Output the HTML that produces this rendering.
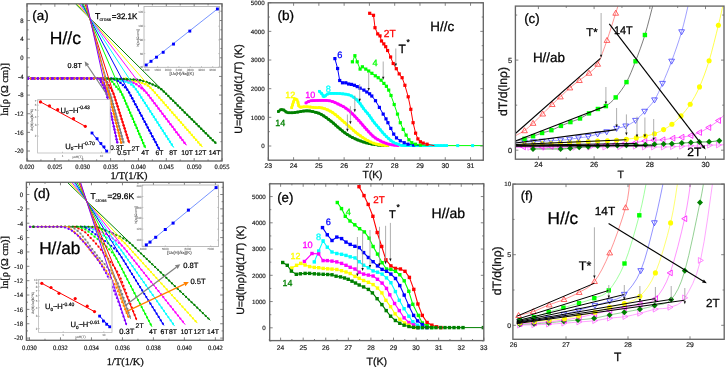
<!DOCTYPE html>
<html><head><meta charset="utf-8"><style>
html,body{margin:0;padding:0;background:#fff;width:725px;height:367px;overflow:hidden}
svg{display:block;will-change:transform}
text{text-rendering:geometricPrecision}
</style></head><body>
<svg width="725" height="367" viewBox="0 0 725 367">
<rect width="725" height="367" fill="#fff"/>
<clipPath id="ca"><rect x="27" y="3.8" width="195" height="157.2"/></clipPath>
<g clip-path="url(#ca)">
<polyline points="126,78.5 126.57,78.69 127.35,78.96 128.28,79.29 129.31,79.64 130.37,80 131.41,80.34 132.37,80.65 133.2,80.9 133.91,81.09 134.55,81.24 135.14,81.36 135.7,81.46 136.24,81.55 136.78,81.65 137.32,81.76 137.9,81.9 138.49,82.05 139.08,82.21 139.68,82.37 140.29,82.54 140.91,82.72 141.55,82.92 142.2,83.15 142.88,83.4 143.56,83.66 144.23,83.91 144.88,84.16 145.55,84.44 146.24,84.77 146.97,85.16 147.73,85.63 148.55,86.2 149.42,86.88 150.32,87.67 151.23,88.53 152.12,89.46 153,90.43 153.86,91.43 154.71,92.42 155.56,93.4 156.41,94.37 157.27,95.36 158.14,96.36 159.03,97.38 159.93,98.41 160.85,99.46 161.78,100.52 162.72,101.6 163.69,102.71 164.69,103.85 165.71,105.02 166.74,106.2 167.77,107.38 168.79,108.55 169.79,109.69 170.76,110.8 171.69,111.87 172.59,112.9 173.47,113.9 174.34,114.9 175.21,115.9 176.09,116.9 176.99,117.93 177.92,119 178.83,120.04 179.67,121.01 180.51,121.96 181.37,122.95 182.3,124.02 183.35,125.22 184.55,126.59 185.95,128.2 187.7,130.2 189.82,132.62 192.16,135.3 194.58,138.07 196.94,140.77 199.09,143.24 200.89,145.3 202.2,146.8" fill="none" stroke="#ffff00" stroke-width="1.0" stroke-linejoin="round" stroke-linecap="round" />
<rect x="124.9" y="77.4" width="2.2" height="2.2" fill="#ffff00"/>
<rect x="128.02" y="78.47" width="2.2" height="2.2" fill="#ffff00"/>
<rect x="131.15" y="79.51" width="2.2" height="2.2" fill="#ffff00"/>
<rect x="134.35" y="80.31" width="2.2" height="2.2" fill="#ffff00"/>
<rect x="137.58" y="81" width="2.2" height="2.2" fill="#ffff00"/>
<rect x="140.74" y="81.92" width="2.2" height="2.2" fill="#ffff00"/>
<rect x="143.83" y="83.08" width="2.2" height="2.2" fill="#ffff00"/>
<rect x="146.75" y="84.61" width="2.2" height="2.2" fill="#ffff00"/>
<rect x="149.33" y="86.67" width="2.2" height="2.2" fill="#ffff00"/>
<rect x="151.63" y="89.03" width="2.2" height="2.2" fill="#ffff00"/>
<rect x="153.79" y="91.53" width="2.2" height="2.2" fill="#ffff00"/>
<rect x="155.96" y="94.01" width="2.2" height="2.2" fill="#ffff00"/>
<rect x="158.13" y="96.5" width="2.2" height="2.2" fill="#ffff00"/>
<rect x="160.3" y="98.99" width="2.2" height="2.2" fill="#ffff00"/>
<rect x="162.47" y="101.47" width="2.2" height="2.2" fill="#ffff00"/>
<rect x="164.64" y="103.96" width="2.2" height="2.2" fill="#ffff00"/>
<rect x="166.81" y="106.44" width="2.2" height="2.2" fill="#ffff00"/>
<rect x="168.98" y="108.93" width="2.2" height="2.2" fill="#ffff00"/>
<rect x="171.15" y="111.41" width="2.2" height="2.2" fill="#ffff00"/>
<rect x="173.32" y="113.9" width="2.2" height="2.2" fill="#ffff00"/>
<rect x="175.49" y="116.38" width="2.2" height="2.2" fill="#ffff00"/>
<rect x="177.67" y="118.87" width="2.2" height="2.2" fill="#ffff00"/>
<rect x="179.84" y="121.35" width="2.2" height="2.2" fill="#ffff00"/>
<rect x="182.01" y="123.84" width="2.2" height="2.2" fill="#ffff00"/>
<rect x="184.18" y="126.33" width="2.2" height="2.2" fill="#ffff00"/>
<rect x="186.35" y="128.81" width="2.2" height="2.2" fill="#ffff00"/>
<rect x="188.52" y="131.3" width="2.2" height="2.2" fill="#ffff00"/>
<rect x="190.69" y="133.78" width="2.2" height="2.2" fill="#ffff00"/>
<rect x="192.86" y="136.27" width="2.2" height="2.2" fill="#ffff00"/>
<rect x="195.03" y="138.75" width="2.2" height="2.2" fill="#ffff00"/>
<rect x="197.2" y="141.24" width="2.2" height="2.2" fill="#ffff00"/>
<rect x="199.37" y="143.72" width="2.2" height="2.2" fill="#ffff00"/>
<polyline points="121,78.5 121.59,78.7 122.39,78.97 123.35,79.3 124.4,79.66 125.49,80.03 126.56,80.39 127.55,80.72 128.4,81 129.13,81.23 129.79,81.41 130.39,81.57 130.97,81.73 131.52,81.88 132.07,82.05 132.62,82.25 133.2,82.5 133.8,82.79 134.4,83.1 135,83.44 135.59,83.8 136.19,84.18 136.79,84.57 137.41,84.98 138.02,85.4 138.61,85.83 139.18,86.27 139.74,86.73 140.3,87.2 140.88,87.69 141.5,88.2 142.14,88.74 142.82,89.3 143.51,89.87 144.19,90.44 144.84,91.02 145.48,91.63 146.11,92.28 146.73,92.98 147.36,93.75 148.01,94.6 148.72,95.54 149.49,96.56 150.32,97.65 151.18,98.79 152.07,99.97 152.99,101.17 153.91,102.39 154.83,103.6 155.76,104.83 156.71,106.09 157.69,107.37 158.67,108.67 159.67,109.99 160.66,111.3 161.65,112.61 162.63,113.9 163.6,115.18 164.57,116.46 165.54,117.73 166.5,119.01 167.47,120.28 168.43,121.55 169.4,122.83 170.36,124.1 171.33,125.37 172.29,126.64 173.24,127.9 174.2,129.17 175.17,130.44 176.13,131.71 177.11,133 178.09,134.3 179.14,135.69 180.28,137.19 181.46,138.75 182.63,140.29 183.74,141.75 184.73,143.07 185.57,144.17 186.2,145" fill="none" stroke="#ff00ff" stroke-width="1.0" stroke-linejoin="round" stroke-linecap="round" />
<circle cx="121" cy="78.5" r="1.25" fill="#ff00ff"/>
<circle cx="124.12" cy="79.56" r="1.25" fill="#ff00ff"/>
<circle cx="127.25" cy="80.62" r="1.25" fill="#ff00ff"/>
<circle cx="130.41" cy="81.58" r="1.25" fill="#ff00ff"/>
<circle cx="133.52" cy="82.65" r="1.25" fill="#ff00ff"/>
<circle cx="136.38" cy="84.3" r="1.25" fill="#ff00ff"/>
<circle cx="139.08" cy="86.19" r="1.25" fill="#ff00ff"/>
<circle cx="141.62" cy="88.3" r="1.25" fill="#ff00ff"/>
<circle cx="144.15" cy="90.41" r="1.25" fill="#ff00ff"/>
<circle cx="146.5" cy="92.72" r="1.25" fill="#ff00ff"/>
<circle cx="148.55" cy="95.31" r="1.25" fill="#ff00ff"/>
<circle cx="150.54" cy="97.94" r="1.25" fill="#ff00ff"/>
<circle cx="152.53" cy="100.57" r="1.25" fill="#ff00ff"/>
<circle cx="154.53" cy="103.2" r="1.25" fill="#ff00ff"/>
<circle cx="156.52" cy="105.83" r="1.25" fill="#ff00ff"/>
<circle cx="158.51" cy="108.46" r="1.25" fill="#ff00ff"/>
<circle cx="160.51" cy="111.09" r="1.25" fill="#ff00ff"/>
<circle cx="162.5" cy="113.72" r="1.25" fill="#ff00ff"/>
<circle cx="164.49" cy="116.35" r="1.25" fill="#ff00ff"/>
<circle cx="166.49" cy="118.98" r="1.25" fill="#ff00ff"/>
<circle cx="168.48" cy="121.61" r="1.25" fill="#ff00ff"/>
<circle cx="170.47" cy="124.24" r="1.25" fill="#ff00ff"/>
<circle cx="172.47" cy="126.87" r="1.25" fill="#ff00ff"/>
<circle cx="174.46" cy="129.51" r="1.25" fill="#ff00ff"/>
<circle cx="176.45" cy="132.14" r="1.25" fill="#ff00ff"/>
<circle cx="178.44" cy="134.77" r="1.25" fill="#ff00ff"/>
<circle cx="180.44" cy="137.4" r="1.25" fill="#ff00ff"/>
<circle cx="182.43" cy="140.03" r="1.25" fill="#ff00ff"/>
<circle cx="184.42" cy="142.66" r="1.25" fill="#ff00ff"/>
<polyline points="116,78.5 116.61,78.71 117.43,78.99 118.42,79.33 119.5,79.71 120.62,80.09 121.72,80.47 122.73,80.81 123.6,81.1 124.33,81.33 125,81.5 125.61,81.65 126.17,81.78 126.72,81.92 127.27,82.1 127.82,82.31 128.4,82.6 129,82.95 129.61,83.34 130.22,83.76 130.83,84.22 131.45,84.71 132.07,85.22 132.68,85.75 133.27,86.3 133.85,86.87 134.41,87.47 134.96,88.1 135.49,88.75 136.01,89.42 136.51,90.1 136.99,90.8 137.47,91.5 137.92,92.19 138.35,92.84 138.76,93.5 139.2,94.18 139.66,94.91 140.17,95.7 140.75,96.59 141.4,97.6 142.14,98.75 142.97,100.02 143.85,101.39 144.78,102.82 145.74,104.3 146.7,105.79 147.66,107.27 148.59,108.7 149.49,110.1 150.39,111.49 151.29,112.88 152.19,114.28 153.1,115.68 154.02,117.1 154.95,118.54 155.9,120 156.85,121.47 157.8,122.94 158.76,124.42 159.73,125.93 160.72,127.45 161.73,129.02 162.78,130.63 163.86,132.3 165.05,134.14 166.38,136.19 167.77,138.35 169.18,140.52 170.52,142.59 171.73,144.46 172.74,146.03 173.5,147.2" fill="none" stroke="#00ffff" stroke-width="1.0" stroke-linejoin="round" stroke-linecap="round" />
<rect x="114.9" y="77.4" width="2.2" height="2.2" fill="#00ffff"/>
<rect x="118.02" y="78.48" width="2.2" height="2.2" fill="#00ffff"/>
<rect x="121.14" y="79.54" width="2.2" height="2.2" fill="#00ffff"/>
<rect x="124.3" y="80.5" width="2.2" height="2.2" fill="#00ffff"/>
<rect x="127.41" y="81.56" width="2.2" height="2.2" fill="#00ffff"/>
<rect x="130.13" y="83.43" width="2.2" height="2.2" fill="#00ffff"/>
<rect x="132.59" y="85.62" width="2.2" height="2.2" fill="#00ffff"/>
<rect x="134.75" y="88.11" width="2.2" height="2.2" fill="#00ffff"/>
<rect x="136.64" y="90.81" width="2.2" height="2.2" fill="#00ffff"/>
<rect x="138.42" y="93.59" width="2.2" height="2.2" fill="#00ffff"/>
<rect x="140.21" y="96.36" width="2.2" height="2.2" fill="#00ffff"/>
<rect x="142.01" y="99.13" width="2.2" height="2.2" fill="#00ffff"/>
<rect x="143.8" y="101.9" width="2.2" height="2.2" fill="#00ffff"/>
<rect x="145.59" y="104.68" width="2.2" height="2.2" fill="#00ffff"/>
<rect x="147.39" y="107.45" width="2.2" height="2.2" fill="#00ffff"/>
<rect x="149.18" y="110.22" width="2.2" height="2.2" fill="#00ffff"/>
<rect x="150.97" y="112.99" width="2.2" height="2.2" fill="#00ffff"/>
<rect x="152.76" y="115.76" width="2.2" height="2.2" fill="#00ffff"/>
<rect x="154.56" y="118.53" width="2.2" height="2.2" fill="#00ffff"/>
<rect x="156.35" y="121.3" width="2.2" height="2.2" fill="#00ffff"/>
<rect x="158.14" y="124.07" width="2.2" height="2.2" fill="#00ffff"/>
<rect x="159.94" y="126.84" width="2.2" height="2.2" fill="#00ffff"/>
<rect x="161.73" y="129.61" width="2.2" height="2.2" fill="#00ffff"/>
<rect x="163.52" y="132.38" width="2.2" height="2.2" fill="#00ffff"/>
<rect x="165.31" y="135.15" width="2.2" height="2.2" fill="#00ffff"/>
<rect x="167.11" y="137.92" width="2.2" height="2.2" fill="#00ffff"/>
<rect x="168.9" y="140.69" width="2.2" height="2.2" fill="#00ffff"/>
<rect x="170.69" y="143.46" width="2.2" height="2.2" fill="#00ffff"/>
<polyline points="111.5,78.5 111.94,78.66 112.53,78.87 113.23,79.12 114.01,79.4 114.82,79.7 115.62,80 116.36,80.31 117,80.6 117.56,80.88 118.07,81.15 118.55,81.42 119.01,81.69 119.45,81.98 119.89,82.29 120.34,82.63 120.8,83 121.27,83.4 121.75,83.82 122.23,84.26 122.72,84.72 123.23,85.21 123.74,85.72 124.26,86.25 124.78,86.8 125.3,87.38 125.82,87.99 126.33,88.62 126.84,89.28 127.33,89.94 127.81,90.62 128.27,91.31 128.72,92 129.15,92.69 129.56,93.38 129.96,94.07 130.35,94.78 130.74,95.5 131.14,96.24 131.54,97.01 131.96,97.8 132.4,98.63 132.87,99.51 133.35,100.42 133.85,101.34 134.34,102.27 134.82,103.18 135.29,104.06 135.74,104.9 136.13,105.64 136.47,106.29 136.79,106.88 137.1,107.46 137.44,108.1 137.83,108.83 138.3,109.72 138.87,110.8 139.57,112.12 140.38,113.63 141.26,115.29 142.2,117.06 143.16,118.87 144.12,120.68 145.06,122.44 145.94,124.1 146.77,125.67 147.59,127.2 148.38,128.7 149.18,130.19 149.97,131.68 150.77,133.18 151.59,134.72 152.42,136.3 153.34,138.02 154.34,139.9 155.38,141.86 156.42,143.81 157.4,145.67 158.29,147.34 159.04,148.75 159.6,149.8" fill="none" stroke="#0000ff" stroke-width="1.0" stroke-linejoin="round" stroke-linecap="round" />
<circle cx="111.5" cy="78.5" r="1.25" fill="#0000ff"/>
<circle cx="114.6" cy="79.62" r="1.25" fill="#0000ff"/>
<circle cx="117.64" cy="80.92" r="1.25" fill="#0000ff"/>
<circle cx="120.41" cy="82.69" r="1.25" fill="#0000ff"/>
<circle cx="122.88" cy="84.88" r="1.25" fill="#0000ff"/>
<circle cx="125.18" cy="87.24" r="1.25" fill="#0000ff"/>
<circle cx="127.24" cy="89.82" r="1.25" fill="#0000ff"/>
<circle cx="129.07" cy="92.56" r="1.25" fill="#0000ff"/>
<circle cx="130.7" cy="95.43" r="1.25" fill="#0000ff"/>
<circle cx="132.25" cy="98.35" r="1.25" fill="#0000ff"/>
<circle cx="133.8" cy="101.26" r="1.25" fill="#0000ff"/>
<circle cx="135.35" cy="104.17" r="1.25" fill="#0000ff"/>
<circle cx="136.9" cy="107.09" r="1.25" fill="#0000ff"/>
<circle cx="138.45" cy="110" r="1.25" fill="#0000ff"/>
<circle cx="140" cy="112.92" r="1.25" fill="#0000ff"/>
<circle cx="141.54" cy="115.83" r="1.25" fill="#0000ff"/>
<circle cx="143.09" cy="118.74" r="1.25" fill="#0000ff"/>
<circle cx="144.64" cy="121.66" r="1.25" fill="#0000ff"/>
<circle cx="146.19" cy="124.57" r="1.25" fill="#0000ff"/>
<circle cx="147.74" cy="127.49" r="1.25" fill="#0000ff"/>
<circle cx="149.29" cy="130.4" r="1.25" fill="#0000ff"/>
<circle cx="150.84" cy="133.31" r="1.25" fill="#0000ff"/>
<circle cx="152.39" cy="136.23" r="1.25" fill="#0000ff"/>
<circle cx="153.94" cy="139.14" r="1.25" fill="#0000ff"/>
<circle cx="155.48" cy="142.06" r="1.25" fill="#0000ff"/>
<circle cx="157.03" cy="144.97" r="1.25" fill="#0000ff"/>
<circle cx="158.58" cy="147.88" r="1.25" fill="#0000ff"/>
<polyline points="106.5,78.5 106.87,78.64 107.37,78.81 107.96,79.02 108.61,79.25 109.3,79.52 109.98,79.84 110.62,80.19 111.2,80.6 111.72,81.06 112.21,81.59 112.69,82.16 113.15,82.77 113.61,83.42 114.06,84.07 114.56,84.74 115.11,85.4 115.7,86.07 116.32,86.76 116.96,87.47 117.6,88.19 118.23,88.92 118.85,89.65 119.45,90.38 120.01,91.1 120.53,91.81 121.01,92.5 121.46,93.19 121.87,93.89 122.26,94.59 122.62,95.3 122.97,96.04 123.31,96.8 123.66,97.61 124.03,98.48 124.42,99.38 124.81,100.29 125.19,101.18 125.56,102.03 125.9,102.81 126.2,103.5 126.42,104.03 126.57,104.38 126.68,104.63 126.78,104.86 126.9,105.13 127.07,105.53 127.33,106.13 127.71,107 128.21,108.16 128.81,109.55 129.48,111.12 130.22,112.83 130.99,114.61 131.77,116.44 132.56,118.25 133.31,120 134.06,121.73 134.82,123.5 135.6,125.3 136.38,127.12 137.17,128.94 137.95,130.75 138.72,132.54 139.48,134.3 140.26,136.12 141.09,138.05 141.94,140.01 142.77,141.94 143.56,143.76 144.26,145.39 144.85,146.76 145.3,147.8" fill="none" stroke="#00ff00" stroke-width="1.0" stroke-linejoin="round" stroke-linecap="round" />
<rect x="105.4" y="77.4" width="2.2" height="2.2" fill="#00ff00"/>
<rect x="108.49" y="78.56" width="2.2" height="2.2" fill="#00ff00"/>
<rect x="111.12" y="80.5" width="2.2" height="2.2" fill="#00ff00"/>
<rect x="113.09" y="83.14" width="2.2" height="2.2" fill="#00ff00"/>
<rect x="115.22" y="85.66" width="2.2" height="2.2" fill="#00ff00"/>
<rect x="117.4" y="88.14" width="2.2" height="2.2" fill="#00ff00"/>
<rect x="119.44" y="90.73" width="2.2" height="2.2" fill="#00ff00"/>
<rect x="121.18" y="93.53" width="2.2" height="2.2" fill="#00ff00"/>
<rect x="122.56" y="96.53" width="2.2" height="2.2" fill="#00ff00"/>
<rect x="123.87" y="99.56" width="2.2" height="2.2" fill="#00ff00"/>
<rect x="125.18" y="102.59" width="2.2" height="2.2" fill="#00ff00"/>
<rect x="126.48" y="105.62" width="2.2" height="2.2" fill="#00ff00"/>
<rect x="127.79" y="108.65" width="2.2" height="2.2" fill="#00ff00"/>
<rect x="129.1" y="111.68" width="2.2" height="2.2" fill="#00ff00"/>
<rect x="130.4" y="114.71" width="2.2" height="2.2" fill="#00ff00"/>
<rect x="131.71" y="117.74" width="2.2" height="2.2" fill="#00ff00"/>
<rect x="133.02" y="120.77" width="2.2" height="2.2" fill="#00ff00"/>
<rect x="134.32" y="123.8" width="2.2" height="2.2" fill="#00ff00"/>
<rect x="135.63" y="126.83" width="2.2" height="2.2" fill="#00ff00"/>
<rect x="136.94" y="129.86" width="2.2" height="2.2" fill="#00ff00"/>
<rect x="138.24" y="132.89" width="2.2" height="2.2" fill="#00ff00"/>
<rect x="139.55" y="135.92" width="2.2" height="2.2" fill="#00ff00"/>
<rect x="140.86" y="138.95" width="2.2" height="2.2" fill="#00ff00"/>
<rect x="142.16" y="141.98" width="2.2" height="2.2" fill="#00ff00"/>
<rect x="143.47" y="145.01" width="2.2" height="2.2" fill="#00ff00"/>
<polyline points="102,78.5 102.27,78.59 102.62,78.68 103.04,78.78 103.51,78.91 104.01,79.09 104.52,79.34 105.02,79.67 105.5,80.1 105.96,80.64 106.43,81.29 106.9,82.02 107.38,82.82 107.86,83.66 108.35,84.54 108.89,85.42 109.46,86.3 110.04,87.2 110.64,88.15 111.23,89.13 111.79,90.12 112.32,91.13 112.79,92.12 113.22,93.08 113.59,94 113.91,94.88 114.21,95.75 114.48,96.59 114.75,97.42 115.01,98.23 115.26,99.03 115.51,99.82 115.76,100.6 115.98,101.31 116.18,101.92 116.36,102.49 116.54,103.06 116.74,103.69 116.97,104.42 117.25,105.31 117.6,106.4 118,107.66 118.44,109.03 118.91,110.52 119.42,112.13 119.98,113.88 120.58,115.76 121.22,117.8 121.92,120 122.74,122.57 123.71,125.61 124.76,128.91 125.83,132.3 126.87,135.58 127.82,138.57 128.62,141.07 129.2,142.9" fill="none" stroke="#ff0000" stroke-width="1.0" stroke-linejoin="round" stroke-linecap="round" />
<circle cx="102" cy="78.5" r="1.25" fill="#ff0000"/>
<circle cx="105.05" cy="79.69" r="1.25" fill="#ff0000"/>
<circle cx="107.06" cy="82.29" r="1.25" fill="#ff0000"/>
<circle cx="108.72" cy="85.14" r="1.25" fill="#ff0000"/>
<circle cx="110.5" cy="87.92" r="1.25" fill="#ff0000"/>
<circle cx="112.14" cy="90.78" r="1.25" fill="#ff0000"/>
<circle cx="113.5" cy="93.79" r="1.25" fill="#ff0000"/>
<circle cx="114.58" cy="96.9" r="1.25" fill="#ff0000"/>
<circle cx="115.58" cy="100.05" r="1.25" fill="#ff0000"/>
<circle cx="116.58" cy="103.19" r="1.25" fill="#ff0000"/>
<circle cx="117.58" cy="106.34" r="1.25" fill="#ff0000"/>
<circle cx="118.58" cy="109.48" r="1.25" fill="#ff0000"/>
<circle cx="119.58" cy="112.63" r="1.25" fill="#ff0000"/>
<circle cx="120.58" cy="115.77" r="1.25" fill="#ff0000"/>
<circle cx="121.58" cy="118.92" r="1.25" fill="#ff0000"/>
<circle cx="122.58" cy="122.06" r="1.25" fill="#ff0000"/>
<circle cx="123.58" cy="125.21" r="1.25" fill="#ff0000"/>
<circle cx="124.58" cy="128.35" r="1.25" fill="#ff0000"/>
<circle cx="125.58" cy="131.5" r="1.25" fill="#ff0000"/>
<circle cx="126.58" cy="134.64" r="1.25" fill="#ff0000"/>
<circle cx="127.58" cy="137.79" r="1.25" fill="#ff0000"/>
<circle cx="128.57" cy="140.93" r="1.25" fill="#ff0000"/>
<polyline points="99,78.5 99.3,78.75 99.7,79.07 100.17,79.45 100.7,79.88 101.25,80.35 101.8,80.87 102.33,81.42 102.8,82 103.23,82.63 103.66,83.32 104.07,84.07 104.52,84.84 105.01,85.64 105.53,86.44 106.07,87.23 106.6,88 107.11,88.75 107.6,89.49 108.07,90.22 108.51,90.96 108.93,91.71 109.33,92.46 109.7,93.22 110.04,94 110.37,94.81 110.67,95.65 110.94,96.51 111.19,97.38 111.42,98.23 111.64,99.06 111.86,99.86 112.06,100.6 112.23,101.22 112.36,101.7 112.47,102.1 112.58,102.5 112.7,102.96 112.86,103.55 113.08,104.34 113.36,105.4 113.72,106.7 114.12,108.18 114.56,109.81 115.04,111.6 115.57,113.52 116.12,115.57 116.71,117.73 117.32,120 118.02,122.58 118.84,125.58 119.71,128.81 120.61,132.11 121.47,135.3 122.26,138.19 122.92,140.62 123.4,142.4" fill="none" stroke="#808080" stroke-width="1.0" stroke-linejoin="round" stroke-linecap="round" />
<rect x="97.9" y="77.4" width="2.2" height="2.2" fill="#808080"/>
<rect x="100.43" y="79.51" width="2.2" height="2.2" fill="#808080"/>
<rect x="102.47" y="82.09" width="2.2" height="2.2" fill="#808080"/>
<rect x="104.16" y="84.93" width="2.2" height="2.2" fill="#808080"/>
<rect x="106.01" y="87.65" width="2.2" height="2.2" fill="#808080"/>
<rect x="107.75" y="90.46" width="2.2" height="2.2" fill="#808080"/>
<rect x="109.16" y="93.44" width="2.2" height="2.2" fill="#808080"/>
<rect x="110.17" y="96.58" width="2.2" height="2.2" fill="#808080"/>
<rect x="111.03" y="99.76" width="2.2" height="2.2" fill="#808080"/>
<rect x="111.9" y="102.95" width="2.2" height="2.2" fill="#808080"/>
<rect x="112.76" y="106.13" width="2.2" height="2.2" fill="#808080"/>
<rect x="113.62" y="109.32" width="2.2" height="2.2" fill="#808080"/>
<rect x="114.49" y="112.5" width="2.2" height="2.2" fill="#808080"/>
<rect x="115.35" y="115.69" width="2.2" height="2.2" fill="#808080"/>
<rect x="116.22" y="118.87" width="2.2" height="2.2" fill="#808080"/>
<rect x="117.08" y="122.06" width="2.2" height="2.2" fill="#808080"/>
<rect x="117.94" y="125.24" width="2.2" height="2.2" fill="#808080"/>
<rect x="118.81" y="128.43" width="2.2" height="2.2" fill="#808080"/>
<rect x="119.67" y="131.61" width="2.2" height="2.2" fill="#808080"/>
<rect x="120.54" y="134.8" width="2.2" height="2.2" fill="#808080"/>
<rect x="121.4" y="137.98" width="2.2" height="2.2" fill="#808080"/>
<rect x="122.26" y="141.17" width="2.2" height="2.2" fill="#808080"/>
<polyline points="28,78.5 33.91,78.5 42.16,78.49 52.01,78.48 62.75,78.47 73.64,78.46 83.97,78.46 93,78.48 100,78.5 105.06,78.54 108.89,78.59 111.75,78.66 113.88,78.73 115.52,78.8 116.92,78.87 118.33,78.94 120,79 121.73,79.05 123.2,79.1 124.48,79.14 125.62,79.17 126.69,79.22 127.73,79.27 128.82,79.33 130,79.4 131.26,79.47 132.54,79.54 133.83,79.61 135.11,79.69 136.38,79.79 137.63,79.92 138.84,80.09 140,80.3 141.11,80.54 142.21,80.81 143.32,81.1 144.46,81.43 145.65,81.79 146.89,82.2 148.21,82.67 149.62,83.2 151.12,83.8 152.69,84.47 154.31,85.2 155.94,85.98 157.52,86.79 159,87.62 160.34,88.46 161.47,89.3 162.4,90.15 163.29,91.02 164.19,91.92 165.11,92.84 166.04,93.76 166.97,94.68 167.89,95.6 168.8,96.5 169.69,97.39 170.59,98.28 171.48,99.17 172.37,100.05 173.26,100.93 174.15,101.82 175.05,102.71 175.94,103.6 176.84,104.49 177.72,105.37 178.61,106.25 179.5,107.13 180.39,108.02 181.31,108.93 182.24,109.85 183.19,110.8 184.17,111.78 185.18,112.78 186.22,113.81 187.26,114.84 188.31,115.89 189.36,116.93 190.41,117.97 191.44,119 192.47,120.02 193.51,121.05 194.55,122.08 195.58,123.11 196.61,124.13 197.62,125.14 198.62,126.13 199.59,127.1 200.53,128.03 201.43,128.92 202.29,129.78 203.16,130.64 204.02,131.5 204.92,132.39 205.85,133.32 206.84,134.3 207.96,135.41 209.21,136.65 210.54,137.97 211.87,139.3 213.15,140.57 214.31,141.72 215.28,142.68 216,143.4" fill="none" stroke="#008000" stroke-width="1.0" stroke-linejoin="round" stroke-linecap="round" />
<circle cx="28" cy="78.5" r="1.25" fill="#008000"/>
<circle cx="31.3" cy="78.5" r="1.25" fill="#008000"/>
<circle cx="34.6" cy="78.5" r="1.25" fill="#008000"/>
<circle cx="37.9" cy="78.49" r="1.25" fill="#008000"/>
<circle cx="41.2" cy="78.49" r="1.25" fill="#008000"/>
<circle cx="44.5" cy="78.49" r="1.25" fill="#008000"/>
<circle cx="47.8" cy="78.48" r="1.25" fill="#008000"/>
<circle cx="51.1" cy="78.48" r="1.25" fill="#008000"/>
<circle cx="54.4" cy="78.48" r="1.25" fill="#008000"/>
<circle cx="57.7" cy="78.47" r="1.25" fill="#008000"/>
<circle cx="61" cy="78.47" r="1.25" fill="#008000"/>
<circle cx="64.3" cy="78.47" r="1.25" fill="#008000"/>
<circle cx="67.6" cy="78.47" r="1.25" fill="#008000"/>
<circle cx="70.9" cy="78.46" r="1.25" fill="#008000"/>
<circle cx="74.2" cy="78.46" r="1.25" fill="#008000"/>
<circle cx="77.5" cy="78.46" r="1.25" fill="#008000"/>
<circle cx="80.8" cy="78.46" r="1.25" fill="#008000"/>
<circle cx="84.1" cy="78.47" r="1.25" fill="#008000"/>
<circle cx="87.4" cy="78.47" r="1.25" fill="#008000"/>
<circle cx="90.7" cy="78.47" r="1.25" fill="#008000"/>
<circle cx="94" cy="78.48" r="1.25" fill="#008000"/>
<circle cx="97.3" cy="78.49" r="1.25" fill="#008000"/>
<circle cx="100.6" cy="78.5" r="1.25" fill="#008000"/>
<circle cx="103.9" cy="78.53" r="1.25" fill="#008000"/>
<circle cx="107.2" cy="78.57" r="1.25" fill="#008000"/>
<circle cx="110.5" cy="78.63" r="1.25" fill="#008000"/>
<circle cx="113.8" cy="78.72" r="1.25" fill="#008000"/>
<circle cx="117.09" cy="78.88" r="1.25" fill="#008000"/>
<circle cx="120.39" cy="79.01" r="1.25" fill="#008000"/>
<circle cx="123.69" cy="79.11" r="1.25" fill="#008000"/>
<circle cx="126.99" cy="79.23" r="1.25" fill="#008000"/>
<circle cx="130.28" cy="79.42" r="1.25" fill="#008000"/>
<circle cx="133.58" cy="79.6" r="1.25" fill="#008000"/>
<circle cx="136.87" cy="79.84" r="1.25" fill="#008000"/>
<circle cx="140.13" cy="80.33" r="1.25" fill="#008000"/>
<circle cx="143.34" cy="81.1" r="1.25" fill="#008000"/>
<circle cx="146.49" cy="82.07" r="1.25" fill="#008000"/>
<circle cx="149.6" cy="83.19" r="1.25" fill="#008000"/>
<circle cx="152.64" cy="84.45" r="1.25" fill="#008000"/>
<circle cx="155.64" cy="85.84" r="1.25" fill="#008000"/>
<circle cx="158.56" cy="87.38" r="1.25" fill="#008000"/>
<circle cx="161.31" cy="89.18" r="1.25" fill="#008000"/>
<circle cx="163.71" cy="91.45" r="1.25" fill="#008000"/>
<circle cx="166.05" cy="93.77" r="1.25" fill="#008000"/>
<circle cx="168.4" cy="96.1" r="1.25" fill="#008000"/>
<circle cx="170.74" cy="98.43" r="1.25" fill="#008000"/>
<circle cx="173.08" cy="100.75" r="1.25" fill="#008000"/>
<circle cx="175.42" cy="103.08" r="1.25" fill="#008000"/>
<circle cx="177.76" cy="105.4" r="1.25" fill="#008000"/>
<circle cx="180.1" cy="107.73" r="1.25" fill="#008000"/>
<circle cx="182.44" cy="110.06" r="1.25" fill="#008000"/>
<circle cx="184.78" cy="112.38" r="1.25" fill="#008000"/>
<circle cx="187.12" cy="114.71" r="1.25" fill="#008000"/>
<circle cx="189.46" cy="117.03" r="1.25" fill="#008000"/>
<circle cx="191.8" cy="119.36" r="1.25" fill="#008000"/>
<circle cx="194.15" cy="121.69" r="1.25" fill="#008000"/>
<circle cx="196.49" cy="124.01" r="1.25" fill="#008000"/>
<circle cx="198.83" cy="126.34" r="1.25" fill="#008000"/>
<circle cx="201.17" cy="128.66" r="1.25" fill="#008000"/>
<circle cx="203.51" cy="130.99" r="1.25" fill="#008000"/>
<circle cx="205.85" cy="133.32" r="1.25" fill="#008000"/>
<circle cx="208.19" cy="135.64" r="1.25" fill="#008000"/>
<circle cx="210.53" cy="137.97" r="1.25" fill="#008000"/>
<circle cx="212.87" cy="140.29" r="1.25" fill="#008000"/>
<circle cx="215.21" cy="142.62" r="1.25" fill="#008000"/>
<polyline points="28,78.5 33.82,78.49 42.04,78.47 51.89,78.44 62.55,78.42 73.24,78.4 83.16,78.41 91.51,78.44 97.5,78.5 101.07,78.57 102.95,78.63 103.54,78.7 103.22,78.8 102.38,78.94 101.43,79.14 100.73,79.42 100.7,79.8 101.14,80.29 101.59,80.87 102.05,81.53 102.52,82.26 102.98,83.02 103.44,83.81 103.9,84.61 104.38,85.4 104.87,86.18 105.35,86.98 105.83,87.79 106.31,88.63 106.77,89.48 107.22,90.36 107.66,91.27 108.07,92.2 108.48,93.2 108.87,94.27 109.22,95.39 109.54,96.53 109.83,97.64 110.1,98.72 110.35,99.71 110.57,100.6 110.75,101.31 110.88,101.82 110.98,102.23 111.07,102.61 111.18,103.04 111.32,103.6 111.51,104.36 111.77,105.4 112.1,106.7 112.46,108.15 112.87,109.77 113.31,111.54 113.79,113.45 114.31,115.5 114.85,117.69 115.43,120 116.1,122.66 116.88,125.78 117.73,129.16 118.6,132.61 119.43,135.95 120.19,138.99 120.83,141.53 121.3,143.4" fill="none" stroke="#ff8000" stroke-width="1.0" stroke-linejoin="round" stroke-linecap="round" />
<circle cx="97.3" cy="78.5" r="1.25" fill="#ff8000"/>
<circle cx="100.6" cy="78.56" r="1.25" fill="#ff8000"/>
<circle cx="103.2" cy="78.8" r="1.25" fill="#ff8000"/>
<circle cx="100.95" cy="80.08" r="1.25" fill="#ff8000"/>
<circle cx="102.83" cy="82.78" r="1.25" fill="#ff8000"/>
<circle cx="104.51" cy="85.62" r="1.25" fill="#ff8000"/>
<circle cx="106.21" cy="88.45" r="1.25" fill="#ff8000"/>
<circle cx="107.71" cy="91.39" r="1.25" fill="#ff8000"/>
<circle cx="108.92" cy="94.45" r="1.25" fill="#ff8000"/>
<circle cx="109.82" cy="97.63" r="1.25" fill="#ff8000"/>
<circle cx="110.63" cy="100.83" r="1.25" fill="#ff8000"/>
<circle cx="111.43" cy="104.03" r="1.25" fill="#ff8000"/>
<circle cx="112.23" cy="107.23" r="1.25" fill="#ff8000"/>
<circle cx="113.03" cy="110.43" r="1.25" fill="#ff8000"/>
<circle cx="113.84" cy="113.63" r="1.25" fill="#ff8000"/>
<circle cx="114.64" cy="116.83" r="1.25" fill="#ff8000"/>
<circle cx="115.44" cy="120.03" r="1.25" fill="#ff8000"/>
<circle cx="116.24" cy="123.23" r="1.25" fill="#ff8000"/>
<circle cx="117.05" cy="126.44" r="1.25" fill="#ff8000"/>
<circle cx="117.85" cy="129.64" r="1.25" fill="#ff8000"/>
<circle cx="118.65" cy="132.84" r="1.25" fill="#ff8000"/>
<circle cx="119.45" cy="136.04" r="1.25" fill="#ff8000"/>
<circle cx="120.26" cy="139.24" r="1.25" fill="#ff8000"/>
<circle cx="121.06" cy="142.44" r="1.25" fill="#ff8000"/>
<polyline points="28,78.5 33.68,78.49 41.72,78.45 51.34,78.41 61.76,78.37 72.21,78.35 81.92,78.35 90.11,78.4 96,78.5 99.55,78.64 101.49,78.82 102.17,79.02 101.98,79.26 101.27,79.54 100.43,79.85 99.81,80.2 99.8,80.6 100.2,81.04 100.57,81.52 100.93,82.04 101.27,82.59 101.6,83.19 101.93,83.82 102.27,84.49 102.65,85.2 103.06,85.96 103.5,86.77 103.94,87.63 104.38,88.52 104.82,89.43 105.24,90.36 105.63,91.28 105.98,92.2 106.3,93.13 106.6,94.08 106.87,95.05 107.12,96.03 107.34,97 107.54,97.94 107.74,98.85 107.93,99.7 108.1,100.49 108.26,101.23 108.42,101.93 108.57,102.61 108.71,103.28 108.86,103.96 109.02,104.66 109.18,105.4 109.34,106.13 109.49,106.81 109.64,107.49 109.79,108.19 109.95,108.94 110.14,109.79 110.35,110.77 110.6,111.9 110.89,113.19 111.19,114.6 111.53,116.12 111.88,117.74 112.26,119.45 112.65,121.23 113.06,123.09 113.48,125 113.94,127.13 114.47,129.56 115.04,132.15 115.62,134.77 116.17,137.29 116.67,139.57 117.09,141.49 117.4,142.9" fill="none" stroke="#8000ff" stroke-width="1.0" stroke-linejoin="round" stroke-linecap="round" />
<circle cx="28" cy="78.5" r="1.25" fill="#8000ff"/>
<circle cx="31.3" cy="78.49" r="1.25" fill="#8000ff"/>
<circle cx="34.6" cy="78.48" r="1.25" fill="#8000ff"/>
<circle cx="37.9" cy="78.47" r="1.25" fill="#8000ff"/>
<circle cx="41.2" cy="78.45" r="1.25" fill="#8000ff"/>
<circle cx="44.5" cy="78.44" r="1.25" fill="#8000ff"/>
<circle cx="47.8" cy="78.42" r="1.25" fill="#8000ff"/>
<circle cx="51.1" cy="78.41" r="1.25" fill="#8000ff"/>
<circle cx="54.4" cy="78.4" r="1.25" fill="#8000ff"/>
<circle cx="57.7" cy="78.38" r="1.25" fill="#8000ff"/>
<circle cx="61" cy="78.37" r="1.25" fill="#8000ff"/>
<circle cx="64.3" cy="78.36" r="1.25" fill="#8000ff"/>
<circle cx="67.6" cy="78.36" r="1.25" fill="#8000ff"/>
<circle cx="70.9" cy="78.35" r="1.25" fill="#8000ff"/>
<circle cx="74.2" cy="78.35" r="1.25" fill="#8000ff"/>
<circle cx="77.5" cy="78.35" r="1.25" fill="#8000ff"/>
<circle cx="80.8" cy="78.35" r="1.25" fill="#8000ff"/>
<circle cx="84.1" cy="78.36" r="1.25" fill="#8000ff"/>
<circle cx="87.4" cy="78.38" r="1.25" fill="#8000ff"/>
<circle cx="90.7" cy="78.41" r="1.25" fill="#8000ff"/>
<circle cx="94" cy="78.47" r="1.25" fill="#8000ff"/>
<circle cx="97.3" cy="78.55" r="1.25" fill="#8000ff"/>
<circle cx="100.59" cy="78.74" r="1.25" fill="#8000ff"/>
<circle cx="100.69" cy="79.75" r="1.25" fill="#8000ff"/>
<circle cx="100.97" cy="82.11" r="1.25" fill="#8000ff"/>
<circle cx="102.55" cy="85.01" r="1.25" fill="#8000ff"/>
<circle cx="104.09" cy="87.93" r="1.25" fill="#8000ff"/>
<circle cx="105.47" cy="90.92" r="1.25" fill="#8000ff"/>
<circle cx="106.59" cy="94.03" r="1.25" fill="#8000ff"/>
<circle cx="107.39" cy="97.23" r="1.25" fill="#8000ff"/>
<circle cx="108.09" cy="100.45" r="1.25" fill="#8000ff"/>
<circle cx="108.8" cy="103.67" r="1.25" fill="#8000ff"/>
<circle cx="109.51" cy="106.9" r="1.25" fill="#8000ff"/>
<circle cx="110.21" cy="110.12" r="1.25" fill="#8000ff"/>
<circle cx="110.92" cy="113.34" r="1.25" fill="#8000ff"/>
<circle cx="111.63" cy="116.57" r="1.25" fill="#8000ff"/>
<circle cx="112.33" cy="119.79" r="1.25" fill="#8000ff"/>
<circle cx="113.04" cy="123.01" r="1.25" fill="#8000ff"/>
<circle cx="113.75" cy="126.24" r="1.25" fill="#8000ff"/>
<circle cx="114.45" cy="129.46" r="1.25" fill="#8000ff"/>
<circle cx="115.16" cy="132.68" r="1.25" fill="#8000ff"/>
<circle cx="115.87" cy="135.91" r="1.25" fill="#8000ff"/>
<circle cx="116.57" cy="139.13" r="1.25" fill="#8000ff"/>
<circle cx="117.28" cy="142.36" r="1.25" fill="#8000ff"/>
<circle cx="30.5" cy="78.5" r="1.15" fill="#ff8000"/>
<circle cx="35.4" cy="78.5" r="1.15" fill="#ff8000"/>
<circle cx="40.3" cy="78.5" r="1.15" fill="#ff8000"/>
<circle cx="45.2" cy="78.5" r="1.15" fill="#ff8000"/>
<circle cx="50.1" cy="78.5" r="1.15" fill="#ff8000"/>
<circle cx="55" cy="78.5" r="1.15" fill="#ff8000"/>
<circle cx="59.9" cy="78.5" r="1.15" fill="#ff8000"/>
<circle cx="64.8" cy="78.5" r="1.15" fill="#ff8000"/>
<circle cx="69.7" cy="78.5" r="1.15" fill="#ff8000"/>
<circle cx="74.6" cy="78.5" r="1.15" fill="#ff8000"/>
<circle cx="79.5" cy="78.5" r="1.15" fill="#ff8000"/>
<circle cx="84.4" cy="78.5" r="1.15" fill="#ff8000"/>
<circle cx="89.3" cy="78.5" r="1.15" fill="#ff8000"/>
<circle cx="94.2" cy="78.5" r="1.15" fill="#ff8000"/>
<circle cx="28" cy="78.5" r="1.4" fill="#8000ff"/>
<circle cx="32.9" cy="78.5" r="1.4" fill="#8000ff"/>
<circle cx="37.8" cy="78.5" r="1.4" fill="#8000ff"/>
<circle cx="42.7" cy="78.5" r="1.4" fill="#8000ff"/>
<circle cx="47.6" cy="78.5" r="1.4" fill="#8000ff"/>
<circle cx="52.5" cy="78.5" r="1.4" fill="#8000ff"/>
<circle cx="57.4" cy="78.5" r="1.4" fill="#8000ff"/>
<circle cx="62.3" cy="78.5" r="1.4" fill="#8000ff"/>
<circle cx="67.2" cy="78.5" r="1.4" fill="#8000ff"/>
<circle cx="72.1" cy="78.5" r="1.4" fill="#8000ff"/>
<circle cx="77" cy="78.5" r="1.4" fill="#8000ff"/>
<circle cx="81.9" cy="78.5" r="1.4" fill="#8000ff"/>
<circle cx="86.8" cy="78.5" r="1.4" fill="#8000ff"/>
<circle cx="91.7" cy="78.5" r="1.4" fill="#8000ff"/>
<line x1="75.5" y1="3.8" x2="216" y2="143.4" stroke="#008000" stroke-width="1.0" />
<line x1="77.3" y1="3.8" x2="202.2" y2="146.8" stroke="#ffff00" stroke-width="1.0" />
<line x1="79.2" y1="3.8" x2="186.2" y2="145" stroke="#ff00ff" stroke-width="1.0" />
<line x1="80.7" y1="3.8" x2="173.5" y2="147.2" stroke="#00ffff" stroke-width="1.0" />
<line x1="82" y1="3.8" x2="159.6" y2="149.8" stroke="#0000ff" stroke-width="1.0" />
<line x1="83.2" y1="3.8" x2="145.3" y2="147.8" stroke="#00ff00" stroke-width="1.0" />
<line x1="85" y1="3.8" x2="129.2" y2="142.9" stroke="#ff0000" stroke-width="1.0" />
<line x1="85.8" y1="3.8" x2="123.4" y2="142.4" stroke="#808080" stroke-width="1.0" />
<line x1="86.3" y1="3.8" x2="121.3" y2="143.4" stroke="#ff8000" stroke-width="1.0" />
<line x1="86.9" y1="3.8" x2="117.4" y2="142.9" stroke="#8000ff" stroke-width="1.0" />
</g>
<line x1="108.8" y1="97.5" x2="87.37" y2="65.36" stroke="#808080" stroke-width="1.1" />
<polygon points="84.6,61.2 89.2,64.14 85.54,66.58" fill="#808080"/>
<text x="67.5" y="68.4" font-size="7.2" fill="#000" stroke="#000" stroke-width="0.19" font-family="Liberation Sans, sans-serif" text-anchor="start" >0.8T</text>
<rect x="27" y="3.8" width="195" height="157.2" fill="none" stroke="#666666" stroke-width="1.35"/>
<line x1="27" y1="161" x2="27" y2="158" stroke="#666666" stroke-width="0.8" />
<line x1="27" y1="3.8" x2="27" y2="6.8" stroke="#666666" stroke-width="0.8" />
<line x1="54.86" y1="161" x2="54.86" y2="158" stroke="#666666" stroke-width="0.8" />
<line x1="54.86" y1="3.8" x2="54.86" y2="6.8" stroke="#666666" stroke-width="0.8" />
<line x1="82.72" y1="161" x2="82.72" y2="158" stroke="#666666" stroke-width="0.8" />
<line x1="82.72" y1="3.8" x2="82.72" y2="6.8" stroke="#666666" stroke-width="0.8" />
<line x1="110.58" y1="161" x2="110.58" y2="158" stroke="#666666" stroke-width="0.8" />
<line x1="110.58" y1="3.8" x2="110.58" y2="6.8" stroke="#666666" stroke-width="0.8" />
<line x1="138.44" y1="161" x2="138.44" y2="158" stroke="#666666" stroke-width="0.8" />
<line x1="138.44" y1="3.8" x2="138.44" y2="6.8" stroke="#666666" stroke-width="0.8" />
<line x1="166.3" y1="161" x2="166.3" y2="158" stroke="#666666" stroke-width="0.8" />
<line x1="166.3" y1="3.8" x2="166.3" y2="6.8" stroke="#666666" stroke-width="0.8" />
<line x1="194.16" y1="161" x2="194.16" y2="158" stroke="#666666" stroke-width="0.8" />
<line x1="194.16" y1="3.8" x2="194.16" y2="6.8" stroke="#666666" stroke-width="0.8" />
<line x1="222.02" y1="161" x2="222.02" y2="158" stroke="#666666" stroke-width="0.8" />
<line x1="222.02" y1="3.8" x2="222.02" y2="6.8" stroke="#666666" stroke-width="0.8" />
<line x1="40.93" y1="161" x2="40.93" y2="159.4" stroke="#666666" stroke-width="0.8" />
<line x1="40.93" y1="3.8" x2="40.93" y2="5.4" stroke="#666666" stroke-width="0.8" />
<line x1="68.79" y1="161" x2="68.79" y2="159.4" stroke="#666666" stroke-width="0.8" />
<line x1="68.79" y1="3.8" x2="68.79" y2="5.4" stroke="#666666" stroke-width="0.8" />
<line x1="96.65" y1="161" x2="96.65" y2="159.4" stroke="#666666" stroke-width="0.8" />
<line x1="96.65" y1="3.8" x2="96.65" y2="5.4" stroke="#666666" stroke-width="0.8" />
<line x1="124.51" y1="161" x2="124.51" y2="159.4" stroke="#666666" stroke-width="0.8" />
<line x1="124.51" y1="3.8" x2="124.51" y2="5.4" stroke="#666666" stroke-width="0.8" />
<line x1="152.37" y1="161" x2="152.37" y2="159.4" stroke="#666666" stroke-width="0.8" />
<line x1="152.37" y1="3.8" x2="152.37" y2="5.4" stroke="#666666" stroke-width="0.8" />
<line x1="180.23" y1="161" x2="180.23" y2="159.4" stroke="#666666" stroke-width="0.8" />
<line x1="180.23" y1="3.8" x2="180.23" y2="5.4" stroke="#666666" stroke-width="0.8" />
<line x1="208.09" y1="161" x2="208.09" y2="159.4" stroke="#666666" stroke-width="0.8" />
<line x1="208.09" y1="3.8" x2="208.09" y2="5.4" stroke="#666666" stroke-width="0.8" />
<line x1="27" y1="151" x2="30" y2="151" stroke="#666666" stroke-width="0.8" />
<line x1="222" y1="151" x2="219" y2="151" stroke="#666666" stroke-width="0.8" />
<line x1="27" y1="132.36" x2="30" y2="132.36" stroke="#666666" stroke-width="0.8" />
<line x1="222" y1="132.36" x2="219" y2="132.36" stroke="#666666" stroke-width="0.8" />
<line x1="27" y1="113.72" x2="30" y2="113.72" stroke="#666666" stroke-width="0.8" />
<line x1="222" y1="113.72" x2="219" y2="113.72" stroke="#666666" stroke-width="0.8" />
<line x1="27" y1="95.08" x2="30" y2="95.08" stroke="#666666" stroke-width="0.8" />
<line x1="222" y1="95.08" x2="219" y2="95.08" stroke="#666666" stroke-width="0.8" />
<line x1="27" y1="76.44" x2="30" y2="76.44" stroke="#666666" stroke-width="0.8" />
<line x1="222" y1="76.44" x2="219" y2="76.44" stroke="#666666" stroke-width="0.8" />
<line x1="27" y1="57.8" x2="30" y2="57.8" stroke="#666666" stroke-width="0.8" />
<line x1="222" y1="57.8" x2="219" y2="57.8" stroke="#666666" stroke-width="0.8" />
<line x1="27" y1="39.16" x2="30" y2="39.16" stroke="#666666" stroke-width="0.8" />
<line x1="222" y1="39.16" x2="219" y2="39.16" stroke="#666666" stroke-width="0.8" />
<line x1="27" y1="20.52" x2="30" y2="20.52" stroke="#666666" stroke-width="0.8" />
<line x1="222" y1="20.52" x2="219" y2="20.52" stroke="#666666" stroke-width="0.8" />
<line x1="27" y1="160.32" x2="28.6" y2="160.32" stroke="#666666" stroke-width="0.8" />
<line x1="222" y1="160.32" x2="220.4" y2="160.32" stroke="#666666" stroke-width="0.8" />
<line x1="27" y1="141.68" x2="28.6" y2="141.68" stroke="#666666" stroke-width="0.8" />
<line x1="222" y1="141.68" x2="220.4" y2="141.68" stroke="#666666" stroke-width="0.8" />
<line x1="27" y1="123.04" x2="28.6" y2="123.04" stroke="#666666" stroke-width="0.8" />
<line x1="222" y1="123.04" x2="220.4" y2="123.04" stroke="#666666" stroke-width="0.8" />
<line x1="27" y1="104.4" x2="28.6" y2="104.4" stroke="#666666" stroke-width="0.8" />
<line x1="222" y1="104.4" x2="220.4" y2="104.4" stroke="#666666" stroke-width="0.8" />
<line x1="27" y1="85.76" x2="28.6" y2="85.76" stroke="#666666" stroke-width="0.8" />
<line x1="222" y1="85.76" x2="220.4" y2="85.76" stroke="#666666" stroke-width="0.8" />
<line x1="27" y1="67.12" x2="28.6" y2="67.12" stroke="#666666" stroke-width="0.8" />
<line x1="222" y1="67.12" x2="220.4" y2="67.12" stroke="#666666" stroke-width="0.8" />
<line x1="27" y1="48.48" x2="28.6" y2="48.48" stroke="#666666" stroke-width="0.8" />
<line x1="222" y1="48.48" x2="220.4" y2="48.48" stroke="#666666" stroke-width="0.8" />
<line x1="27" y1="29.84" x2="28.6" y2="29.84" stroke="#666666" stroke-width="0.8" />
<line x1="222" y1="29.84" x2="220.4" y2="29.84" stroke="#666666" stroke-width="0.8" />
<line x1="27" y1="11.2" x2="28.6" y2="11.2" stroke="#666666" stroke-width="0.8" />
<line x1="222" y1="11.2" x2="220.4" y2="11.2" stroke="#666666" stroke-width="0.8" />
<text x="27" y="169.3" font-size="6.6" fill="#222" stroke="#222" stroke-width="0.18" font-family="Liberation Serif, serif" text-anchor="middle" >0.020</text>
<text x="54.86" y="169.3" font-size="6.6" fill="#222" stroke="#222" stroke-width="0.18" font-family="Liberation Serif, serif" text-anchor="middle" >0.025</text>
<text x="82.72" y="169.3" font-size="6.6" fill="#222" stroke="#222" stroke-width="0.18" font-family="Liberation Serif, serif" text-anchor="middle" >0.030</text>
<text x="110.58" y="169.3" font-size="6.6" fill="#222" stroke="#222" stroke-width="0.18" font-family="Liberation Serif, serif" text-anchor="middle" >0.035</text>
<text x="138.44" y="169.3" font-size="6.6" fill="#222" stroke="#222" stroke-width="0.18" font-family="Liberation Serif, serif" text-anchor="middle" >0.040</text>
<text x="166.3" y="169.3" font-size="6.6" fill="#222" stroke="#222" stroke-width="0.18" font-family="Liberation Serif, serif" text-anchor="middle" >0.045</text>
<text x="194.16" y="169.3" font-size="6.6" fill="#222" stroke="#222" stroke-width="0.18" font-family="Liberation Serif, serif" text-anchor="middle" >0.050</text>
<text x="222.02" y="169.3" font-size="6.6" fill="#222" stroke="#222" stroke-width="0.18" font-family="Liberation Serif, serif" text-anchor="middle" >0.055</text>
<text x="23.5" y="153.3" font-size="6.6" fill="#222" stroke="#222" stroke-width="0.18" font-family="Liberation Serif, serif" text-anchor="end" >-20</text>
<text x="23.5" y="134.66" font-size="6.6" fill="#222" stroke="#222" stroke-width="0.18" font-family="Liberation Serif, serif" text-anchor="end" >-16</text>
<text x="23.5" y="116.02" font-size="6.6" fill="#222" stroke="#222" stroke-width="0.18" font-family="Liberation Serif, serif" text-anchor="end" >-12</text>
<text x="23.5" y="97.38" font-size="6.6" fill="#222" stroke="#222" stroke-width="0.18" font-family="Liberation Serif, serif" text-anchor="end" >-8</text>
<text x="23.5" y="78.74" font-size="6.6" fill="#222" stroke="#222" stroke-width="0.18" font-family="Liberation Serif, serif" text-anchor="end" >-4</text>
<text x="23.5" y="60.1" font-size="6.6" fill="#222" stroke="#222" stroke-width="0.18" font-family="Liberation Serif, serif" text-anchor="end" >0</text>
<text x="23.5" y="41.46" font-size="6.6" fill="#222" stroke="#222" stroke-width="0.18" font-family="Liberation Serif, serif" text-anchor="end" >4</text>
<text x="23.5" y="22.82" font-size="6.6" fill="#222" stroke="#222" stroke-width="0.18" font-family="Liberation Serif, serif" text-anchor="end" >8</text>
<text x="128.9" y="179.3" font-size="10.4" fill="#111" stroke="#111" stroke-width="0.28" font-family="Liberation Serif, serif" text-anchor="middle" >1/T(1/K)</text>
<text x="0" y="0" font-size="10.4" fill="#111" stroke="#111" stroke-width="0.28" font-family="Liberation Serif, serif" text-anchor="middle" transform="translate(8.2,89.4) rotate(-90)">ln[&#961; (&#937; cm)]</text>
<text x="32.3" y="20.4" font-size="13.4" fill="#000" stroke="#000" stroke-width="0.28" font-family="Liberation Sans, sans-serif" text-anchor="start" >(a)</text>
<text x="49.8" y="44.3" font-size="17.5" fill="#000" stroke="#000" stroke-width="0.28" font-family="Liberation Sans, sans-serif" text-anchor="start" >H//c</text>
<text x="95" y="19.1" font-size="8.6" fill="#000" stroke="#000" stroke-width="0.28" font-family="Liberation Sans, sans-serif" text-anchor="start" >T</text>
<text x="99.6" y="21.4" font-size="4.9" fill="#000" stroke="#000" stroke-width="0.13" font-family="Liberation Sans, sans-serif" text-anchor="start" >cross</text>
<text x="111.8" y="19.1" font-size="8" fill="#000" stroke="#000" stroke-width="0.28" font-family="Liberation Sans, sans-serif" text-anchor="start" >=32.1K</text>
<text x="110" y="150" font-size="6.8" fill="#000" stroke="#000" stroke-width="0.18" font-family="Liberation Sans, sans-serif" text-anchor="start" >0.3T</text>
<text x="117.3" y="155.2" font-size="6.8" fill="#000" stroke="#000" stroke-width="0.18" font-family="Liberation Sans, sans-serif" text-anchor="start" >0.5T</text>
<text x="131.5" y="150.6" font-size="6.8" fill="#000" stroke="#000" stroke-width="0.18" font-family="Liberation Sans, sans-serif" text-anchor="start" >2T</text>
<text x="141.3" y="155.2" font-size="6.8" fill="#000" stroke="#000" stroke-width="0.18" font-family="Liberation Sans, sans-serif" text-anchor="start" >4T</text>
<text x="155.4" y="155" font-size="6.8" fill="#000" stroke="#000" stroke-width="0.18" font-family="Liberation Sans, sans-serif" text-anchor="start" >6T</text>
<text x="169.3" y="155" font-size="6.8" fill="#000" stroke="#000" stroke-width="0.18" font-family="Liberation Sans, sans-serif" text-anchor="start" >8T</text>
<text x="181.2" y="155" font-size="6.8" fill="#000" stroke="#000" stroke-width="0.18" font-family="Liberation Sans, sans-serif" text-anchor="start" >10T</text>
<text x="194.7" y="155" font-size="6.8" fill="#000" stroke="#000" stroke-width="0.18" font-family="Liberation Sans, sans-serif" text-anchor="start" >12T</text>
<text x="208.8" y="155" font-size="6.8" fill="#000" stroke="#000" stroke-width="0.18" font-family="Liberation Sans, sans-serif" text-anchor="start" >14T</text>
<rect x="144.0" y="6.5" width="75.5" height="60.8" fill="#fff" stroke="#aaa" stroke-width="0.8"/>
<line x1="146.2" y1="65" x2="217.4" y2="9" stroke="#6688ff" stroke-width="0.9" />
<rect x="144.75" y="63.55" width="2.9" height="2.9" fill="#0000ff"/>
<rect x="149.55" y="59.85" width="2.9" height="2.9" fill="#0000ff"/>
<rect x="155.05" y="55.75" width="2.9" height="2.9" fill="#0000ff"/>
<rect x="161.75" y="50.85" width="2.9" height="2.9" fill="#0000ff"/>
<rect x="172.05" y="42.65" width="2.9" height="2.9" fill="#0000ff"/>
<rect x="188.35" y="29.65" width="2.9" height="2.9" fill="#0000ff"/>
<rect x="215.95" y="7.55" width="2.9" height="2.9" fill="#0000ff"/>
<line x1="146.2" y1="67.3" x2="146.2" y2="66" stroke="#999" stroke-width="0.5" />
<text x="146.2" y="70.6" font-size="3" fill="#777" stroke="#777" stroke-width="0.08" font-family="Liberation Sans, sans-serif" text-anchor="middle" >1200</text>
<line x1="157.6" y1="67.3" x2="157.6" y2="66" stroke="#999" stroke-width="0.5" />
<text x="157.6" y="70.6" font-size="3" fill="#777" stroke="#777" stroke-width="0.08" font-family="Liberation Sans, sans-serif" text-anchor="middle" >1600</text>
<line x1="168" y1="67.3" x2="168" y2="66" stroke="#999" stroke-width="0.5" />
<text x="168" y="70.6" font-size="3" fill="#777" stroke="#777" stroke-width="0.08" font-family="Liberation Sans, sans-serif" text-anchor="middle" >2000</text>
<line x1="178.9" y1="67.3" x2="178.9" y2="66" stroke="#999" stroke-width="0.5" />
<text x="178.9" y="70.6" font-size="3" fill="#777" stroke="#777" stroke-width="0.08" font-family="Liberation Sans, sans-serif" text-anchor="middle" >2400</text>
<line x1="190.3" y1="67.3" x2="190.3" y2="66" stroke="#999" stroke-width="0.5" />
<text x="190.3" y="70.6" font-size="3" fill="#777" stroke="#777" stroke-width="0.08" font-family="Liberation Sans, sans-serif" text-anchor="middle" >2800</text>
<line x1="201.5" y1="67.3" x2="201.5" y2="66" stroke="#999" stroke-width="0.5" />
<text x="201.5" y="70.6" font-size="3" fill="#777" stroke="#777" stroke-width="0.08" font-family="Liberation Sans, sans-serif" text-anchor="middle" >3200</text>
<line x1="212.7" y1="67.3" x2="212.7" y2="66" stroke="#999" stroke-width="0.5" />
<text x="212.7" y="70.6" font-size="3" fill="#777" stroke="#777" stroke-width="0.08" font-family="Liberation Sans, sans-serif" text-anchor="middle" >3600</text>
<line x1="144" y1="12.3" x2="145.3" y2="12.3" stroke="#999" stroke-width="0.5" />
<line x1="219.5" y1="12.3" x2="218.2" y2="12.3" stroke="#999" stroke-width="0.5" />
<text x="143.3" y="13.4" font-size="3" fill="#777" stroke="#777" stroke-width="0.08" font-family="Liberation Sans, sans-serif" text-anchor="end" >120</text>
<line x1="144" y1="26.2" x2="145.3" y2="26.2" stroke="#999" stroke-width="0.5" />
<line x1="219.5" y1="26.2" x2="218.2" y2="26.2" stroke="#999" stroke-width="0.5" />
<text x="143.3" y="27.3" font-size="3" fill="#777" stroke="#777" stroke-width="0.08" font-family="Liberation Sans, sans-serif" text-anchor="end" >100</text>
<line x1="144" y1="39.9" x2="145.3" y2="39.9" stroke="#999" stroke-width="0.5" />
<line x1="219.5" y1="39.9" x2="218.2" y2="39.9" stroke="#999" stroke-width="0.5" />
<text x="143.3" y="41" font-size="3" fill="#777" stroke="#777" stroke-width="0.08" font-family="Liberation Sans, sans-serif" text-anchor="end" >80</text>
<line x1="144" y1="53.6" x2="145.3" y2="53.6" stroke="#999" stroke-width="0.5" />
<line x1="219.5" y1="53.6" x2="218.2" y2="53.6" stroke="#999" stroke-width="0.5" />
<text x="143.3" y="54.7" font-size="3" fill="#777" stroke="#777" stroke-width="0.08" font-family="Liberation Sans, sans-serif" text-anchor="end" >60</text>
<line x1="144" y1="67" x2="145.3" y2="67" stroke="#999" stroke-width="0.5" />
<line x1="219.5" y1="67" x2="218.2" y2="67" stroke="#999" stroke-width="0.5" />
<text x="143.3" y="68.1" font-size="3" fill="#777" stroke="#777" stroke-width="0.08" font-family="Liberation Sans, sans-serif" text-anchor="end" >40</text>
<text x="0" y="0" font-size="3.4" fill="#666" stroke="#666" stroke-width="0.09" font-family="Liberation Sans, sans-serif" text-anchor="middle" transform="translate(139.2,38) rotate(-90)">ln[&#961;<tspan font-size="2.4">0</tspan>(&#937; cm)]</text>
<text x="181.7" y="74.8" font-size="4.4" fill="#555" stroke="#555" stroke-width="0.12" font-family="Liberation Sans, sans-serif" text-anchor="middle" >[U<tspan font-size="2.8">0</tspan>(H)/k<tspan font-size="2.8">B</tspan>](K)</text>
<rect x="37.6" y="99.6" width="72.5" height="53.400000000000006" fill="#fff" stroke="#bbb" stroke-width="0.8"/>
<line x1="40.5" y1="101.9" x2="85.3" y2="126.3" stroke="#ff0000" stroke-width="1.0" />
<circle cx="40.5" cy="101.9" r="1.6" fill="#ff0000"/>
<circle cx="49.5" cy="105.9" r="1.6" fill="#ff0000"/>
<circle cx="57.7" cy="109.7" r="1.6" fill="#ff0000"/>
<circle cx="73.5" cy="118.7" r="1.6" fill="#ff0000"/>
<circle cx="85.3" cy="126.3" r="1.6" fill="#ff0000"/>
<line x1="92" y1="133" x2="106.7" y2="151.1" stroke="#0000ff" stroke-width="1.0" />
<rect x="90.6" y="131.6" width="2.8" height="2.8" fill="#0000ff"/>
<rect x="95.7" y="137.3" width="2.8" height="2.8" fill="#0000ff"/>
<rect x="99.5" y="142.1" width="2.8" height="2.8" fill="#0000ff"/>
<rect x="102.6" y="145.5" width="2.8" height="2.8" fill="#0000ff"/>
<rect x="105.3" y="149.7" width="2.8" height="2.8" fill="#0000ff"/>
<text x="60.5" y="112.6" font-size="7.6" fill="#000" stroke="#000" stroke-width="0.21" font-family="Liberation Sans, sans-serif" text-anchor="start" >U<tspan font-size="4.6" dy="1.5">0</tspan><tspan dy="-1.5">~H</tspan><tspan font-size="5" dy="-3.4">-0.43</tspan></text>
<text x="65.3" y="148.8" font-size="7.6" fill="#000" stroke="#000" stroke-width="0.21" font-family="Liberation Sans, sans-serif" text-anchor="start" >U<tspan font-size="4.6" dy="1.5">0</tspan><tspan dy="-1.5">~H</tspan><tspan font-size="5" dy="-3.4">-0.70</tspan></text>
<line x1="37.6" y1="136.13" x2="38.8" y2="136.13" stroke="#999" stroke-width="0.5" />
<text x="36.4" y="137.23" font-size="3" fill="#777" stroke="#777" stroke-width="0.08" font-family="Liberation Sans, sans-serif" text-anchor="end" >2</text>
<line x1="37.6" y1="124.69" x2="38.8" y2="124.69" stroke="#999" stroke-width="0.5" />
<text x="36.4" y="125.79" font-size="3" fill="#777" stroke="#777" stroke-width="0.08" font-family="Liberation Sans, sans-serif" text-anchor="end" >3</text>
<line x1="37.6" y1="116.58" x2="38.8" y2="116.58" stroke="#999" stroke-width="0.5" />
<text x="36.4" y="117.68" font-size="3" fill="#777" stroke="#777" stroke-width="0.08" font-family="Liberation Sans, sans-serif" text-anchor="end" >4</text>
<line x1="37.6" y1="110.29" x2="38.8" y2="110.29" stroke="#999" stroke-width="0.5" />
<text x="36.4" y="111.39" font-size="3" fill="#777" stroke="#777" stroke-width="0.08" font-family="Liberation Sans, sans-serif" text-anchor="end" >5</text>
<line x1="37.6" y1="105.15" x2="38.8" y2="105.15" stroke="#999" stroke-width="0.5" />
<text x="36.4" y="106.25" font-size="3" fill="#777" stroke="#777" stroke-width="0.08" font-family="Liberation Sans, sans-serif" text-anchor="end" >6</text>
<line x1="37.6" y1="100.8" x2="38.8" y2="100.8" stroke="#999" stroke-width="0.5" />
<text x="36.4" y="101.9" font-size="3" fill="#777" stroke="#777" stroke-width="0.08" font-family="Liberation Sans, sans-serif" text-anchor="end" >7</text>
<line x1="62.5" y1="153" x2="62.5" y2="151.7" stroke="#999" stroke-width="0.5" />
<text x="62.5" y="157" font-size="3" fill="#777" stroke="#777" stroke-width="0.08" font-family="Liberation Sans, sans-serif" text-anchor="middle" >1</text>
<line x1="101.5" y1="153" x2="101.5" y2="151.7" stroke="#999" stroke-width="0.5" />
<text x="101.5" y="157" font-size="3" fill="#777" stroke="#777" stroke-width="0.08" font-family="Liberation Sans, sans-serif" text-anchor="middle" >10</text>
<text x="0" y="0" font-size="3.4" fill="#666" stroke="#666" stroke-width="0.09" font-family="Liberation Sans, sans-serif" text-anchor="middle" transform="translate(33.2,120) rotate(-90)">U<tspan font-size="2.4">0</tspan>(H)/k<tspan font-size="2.4">B</tspan>(10<tspan font-size="2.4" dy="-1">3</tspan><tspan dy="1">K)</tspan></text>
<text x="77.5" y="158.2" font-size="3.4" fill="#666" stroke="#666" stroke-width="0.09" font-family="Liberation Sans, sans-serif" text-anchor="middle" >&#956;<tspan font-size="2.4">0</tspan>H(T)</text>
<clipPath id="cb"><rect x="268.3" y="2.8" width="215.0" height="157.39999999999998"/></clipPath>
<g clip-path="url(#cb)">
<line x1="410" y1="145.6" x2="483.3" y2="145.6" stroke="#00ff00" stroke-width="1.0" />
<polyline points="278.4,111.5 278.78,111.2 279.31,110.76 279.94,110.27 280.59,109.85 281.2,109.6 281.78,109.53 282.36,109.58 282.94,109.72 283.52,109.94 284.1,110.2 284.63,110.57 285.13,111.05 285.64,111.57 286.21,112.05 286.9,112.4 287.72,112.61 288.63,112.74 289.62,112.81 290.65,112.82 291.7,112.8 292.78,112.74 293.91,112.61 295.07,112.45 296.24,112.28 297.4,112.1 298.56,111.91 299.72,111.68 300.88,111.46 302.04,111.25 303.2,111.1 304.35,110.99 305.49,110.9 306.62,110.84 307.76,110.84 308.9,110.9 310.04,111.04 311.19,111.26 312.34,111.52 313.48,111.81 314.6,112.1 315.69,112.36 316.75,112.61 317.81,112.88 318.89,113.23 320,113.7 321.16,114.31 322.36,115.03 323.57,115.82 324.79,116.66 326,117.5 327.2,118.34 328.4,119.22 329.6,120.12 330.8,121.04 332,122 333.2,123 334.4,124.04 335.6,125.1 336.8,126.16 338,127.2 339.2,128.23 340.4,129.26 341.6,130.28 342.8,131.27 344,132.2 345.2,133.08 346.4,133.92 347.6,134.72 348.8,135.48 350,136.2 351.2,136.88 352.4,137.51 353.6,138.1 354.8,138.66 356,139.2 357.2,139.71 358.4,140.19 359.6,140.65 360.8,141.08 362,141.5 363.2,141.9 364.4,142.28 365.6,142.65 366.8,142.99 368,143.3 369.2,143.59 370.4,143.85 371.6,144.08 372.8,144.3 374,144.5 375.17,144.68 376.3,144.83 377.46,144.97 378.67,145.09 380,145.2 381.6,145.31 383.44,145.4 385.28,145.48 386.88,145.55 388,145.6" fill="none" stroke="#008000" stroke-width="2.6" stroke-linejoin="round" stroke-linecap="round" />
<rect x="277.05" y="110.15" width="2.7" height="2.7" fill="#008000"/>
<rect x="279.48" y="108.4" width="2.7" height="2.7" fill="#008000"/>
<rect x="282.37" y="108.67" width="2.7" height="2.7" fill="#008000"/>
<rect x="284.68" y="110.55" width="2.7" height="2.7" fill="#008000"/>
<rect x="287.5" y="111.41" width="2.7" height="2.7" fill="#008000"/>
<rect x="290.5" y="111.44" width="2.7" height="2.7" fill="#008000"/>
<rect x="293.49" y="111.14" width="2.7" height="2.7" fill="#008000"/>
<rect x="296.45" y="110.68" width="2.7" height="2.7" fill="#008000"/>
<rect x="299.4" y="110.13" width="2.7" height="2.7" fill="#008000"/>
<rect x="302.37" y="109.7" width="2.7" height="2.7" fill="#008000"/>
<rect x="305.36" y="109.49" width="2.7" height="2.7" fill="#008000"/>
<rect x="308.35" y="109.65" width="2.7" height="2.7" fill="#008000"/>
<rect x="311.29" y="110.25" width="2.7" height="2.7" fill="#008000"/>
<rect x="314.2" y="110.98" width="2.7" height="2.7" fill="#008000"/>
<rect x="317.1" y="111.74" width="2.7" height="2.7" fill="#008000"/>
<rect x="319.83" y="112.97" width="2.7" height="2.7" fill="#008000"/>
<rect x="322.36" y="114.57" width="2.7" height="2.7" fill="#008000"/>
<rect x="324.83" y="116.28" width="2.7" height="2.7" fill="#008000"/>
<rect x="327.27" y="118.03" width="2.7" height="2.7" fill="#008000"/>
<rect x="329.65" y="119.85" width="2.7" height="2.7" fill="#008000"/>
<rect x="331.97" y="121.75" width="2.7" height="2.7" fill="#008000"/>
<rect x="334.23" y="123.73" width="2.7" height="2.7" fill="#008000"/>
<rect x="336.48" y="125.71" width="2.7" height="2.7" fill="#008000"/>
<rect x="338.76" y="127.66" width="2.7" height="2.7" fill="#008000"/>
<rect x="341.05" y="129.59" width="2.7" height="2.7" fill="#008000"/>
<rect x="343.43" y="131.42" width="2.7" height="2.7" fill="#008000"/>
<rect x="345.9" y="133.13" width="2.7" height="2.7" fill="#008000"/>
<rect x="348.44" y="134.72" width="2.7" height="2.7" fill="#008000"/>
<rect x="351.07" y="136.17" width="2.7" height="2.7" fill="#008000"/>
<rect x="353.78" y="137.46" width="2.7" height="2.7" fill="#008000"/>
<rect x="356.53" y="138.64" width="2.7" height="2.7" fill="#008000"/>
<rect x="359.34" y="139.69" width="2.7" height="2.7" fill="#008000"/>
<rect x="362.18" y="140.66" width="2.7" height="2.7" fill="#008000"/>
<rect x="365.05" y="141.52" width="2.7" height="2.7" fill="#008000"/>
<rect x="367.96" y="142.26" width="2.7" height="2.7" fill="#008000"/>
<rect x="370.9" y="142.85" width="2.7" height="2.7" fill="#008000"/>
<rect x="373.86" y="143.33" width="2.7" height="2.7" fill="#008000"/>
<rect x="376.84" y="143.69" width="2.7" height="2.7" fill="#008000"/>
<rect x="379.83" y="143.93" width="2.7" height="2.7" fill="#008000"/>
<rect x="382.83" y="144.08" width="2.7" height="2.7" fill="#008000"/>
<rect x="385.83" y="144.21" width="2.7" height="2.7" fill="#008000"/>
<polyline points="291.7,107.7 292.1,106.37 292.66,104.39 293.31,102.23 293.98,100.31 294.6,99.1 295.18,98.68 295.77,98.75 296.34,99.18 296.89,99.84 297.4,100.6 297.79,101.62 298.08,103 298.37,104.48 298.78,105.8 299.4,106.7 300.3,107.08 301.41,107.12 302.64,106.96 303.9,106.77 305.1,106.7 306.24,106.75 307.38,106.82 308.52,106.91 309.66,107 310.8,107.1 311.98,107.22 313.19,107.36 314.38,107.5 315.5,107.62 316.5,107.7 317.3,107.7 317.94,107.63 318.53,107.55 319.18,107.52 320,107.6 321.04,107.79 322.22,108.05 323.48,108.38 324.76,108.76 326,109.2 327.2,109.69 328.4,110.23 329.6,110.82 330.8,111.48 332,112.2 333.2,112.99 334.4,113.85 335.6,114.77 336.8,115.72 338,116.7 339.2,117.71 340.4,118.77 341.6,119.85 342.8,120.93 344,122 345.2,123.04 346.4,124.08 347.6,125.12 348.8,126.16 350,127.2 351.2,128.27 352.4,129.35 353.6,130.43 354.8,131.49 356,132.5 357.2,133.46 358.4,134.4 359.6,135.3 360.8,136.16 362,137 363.2,137.81 364.4,138.59 365.6,139.34 366.8,140.04 368,140.7 369.2,141.31 370.4,141.87 371.6,142.39 372.8,142.87 374,143.3 375.17,143.68 376.3,144.01 377.46,144.3 378.67,144.56 380,144.8 381.6,145.02 383.44,145.21 385.28,145.37 386.88,145.5 388,145.6" fill="none" stroke="#ffff00" stroke-width="2.6" stroke-linejoin="round" stroke-linecap="round" />
<rect x="290.35" y="106.35" width="2.7" height="2.7" fill="#ffff00"/>
<rect x="291.19" y="103.47" width="2.7" height="2.7" fill="#ffff00"/>
<rect x="292.06" y="100.6" width="2.7" height="2.7" fill="#ffff00"/>
<rect x="293.21" y="97.83" width="2.7" height="2.7" fill="#ffff00"/>
<rect x="295.55" y="98.51" width="2.7" height="2.7" fill="#ffff00"/>
<rect x="296.65" y="101.26" width="2.7" height="2.7" fill="#ffff00"/>
<rect x="297.34" y="104.18" width="2.7" height="2.7" fill="#ffff00"/>
<rect x="299.59" y="105.75" width="2.7" height="2.7" fill="#ffff00"/>
<rect x="302.57" y="105.42" width="2.7" height="2.7" fill="#ffff00"/>
<rect x="305.56" y="105.44" width="2.7" height="2.7" fill="#ffff00"/>
<rect x="308.56" y="105.67" width="2.7" height="2.7" fill="#ffff00"/>
<rect x="311.54" y="105.97" width="2.7" height="2.7" fill="#ffff00"/>
<rect x="314.52" y="106.3" width="2.7" height="2.7" fill="#ffff00"/>
<rect x="317.51" y="106.19" width="2.7" height="2.7" fill="#ffff00"/>
<rect x="320.47" y="106.61" width="2.7" height="2.7" fill="#ffff00"/>
<rect x="323.36" y="107.4" width="2.7" height="2.7" fill="#ffff00"/>
<rect x="326.16" y="108.48" width="2.7" height="2.7" fill="#ffff00"/>
<rect x="328.85" y="109.8" width="2.7" height="2.7" fill="#ffff00"/>
<rect x="331.42" y="111.36" width="2.7" height="2.7" fill="#ffff00"/>
<rect x="333.85" y="113.11" width="2.7" height="2.7" fill="#ffff00"/>
<rect x="336.2" y="114.98" width="2.7" height="2.7" fill="#ffff00"/>
<rect x="338.48" y="116.92" width="2.7" height="2.7" fill="#ffff00"/>
<rect x="340.72" y="118.92" width="2.7" height="2.7" fill="#ffff00"/>
<rect x="342.96" y="120.92" width="2.7" height="2.7" fill="#ffff00"/>
<rect x="345.22" y="122.88" width="2.7" height="2.7" fill="#ffff00"/>
<rect x="347.5" y="124.84" width="2.7" height="2.7" fill="#ffff00"/>
<rect x="349.75" y="126.83" width="2.7" height="2.7" fill="#ffff00"/>
<rect x="351.98" y="128.84" width="2.7" height="2.7" fill="#ffff00"/>
<rect x="354.24" y="130.8" width="2.7" height="2.7" fill="#ffff00"/>
<rect x="356.58" y="132.68" width="2.7" height="2.7" fill="#ffff00"/>
<rect x="358.98" y="134.48" width="2.7" height="2.7" fill="#ffff00"/>
<rect x="361.45" y="136.19" width="2.7" height="2.7" fill="#ffff00"/>
<rect x="363.97" y="137.81" width="2.7" height="2.7" fill="#ffff00"/>
<rect x="366.57" y="139.31" width="2.7" height="2.7" fill="#ffff00"/>
<rect x="369.27" y="140.62" width="2.7" height="2.7" fill="#ffff00"/>
<rect x="372.05" y="141.73" width="2.7" height="2.7" fill="#ffff00"/>
<rect x="374.91" y="142.65" width="2.7" height="2.7" fill="#ffff00"/>
<rect x="377.83" y="143.3" width="2.7" height="2.7" fill="#ffff00"/>
<rect x="380.8" y="143.72" width="2.7" height="2.7" fill="#ffff00"/>
<rect x="383.79" y="144.01" width="2.7" height="2.7" fill="#ffff00"/>
<polyline points="306,102.9 306.5,102.62 307.2,102.2 308.03,101.74 308.92,101.31 309.8,101 310.68,100.82 311.6,100.72 312.57,100.67 313.57,100.64 314.6,100.6 315.68,100.54 316.82,100.5 317.98,100.46 319.15,100.42 320.3,100.4 321.44,100.37 322.57,100.34 323.7,100.32 324.84,100.33 326,100.4 327.18,100.51 328.38,100.65 329.59,100.84 330.8,101.08 332,101.4 333.2,101.81 334.4,102.31 335.6,102.85 336.8,103.43 338,104 339.2,104.55 340.4,105.1 341.6,105.67 342.8,106.3 344,107 345.2,107.78 346.4,108.62 347.6,109.52 348.8,110.48 350,111.5 351.2,112.59 352.4,113.76 353.6,114.98 354.8,116.23 356,117.5 357.2,118.79 358.4,120.12 359.6,121.48 360.8,122.84 362,124.2 363.2,125.57 364.4,126.95 365.6,128.33 366.8,129.69 368,131 369.2,132.29 370.4,133.57 371.6,134.8 372.8,135.96 374,137 375.21,137.91 376.44,138.72 377.66,139.44 378.86,140.09 380,140.7 381.07,141.24 382.08,141.71 383.06,142.13 384.06,142.52 385.1,142.9 386.17,143.28 387.25,143.65 388.35,143.99 389.53,144.31 390.8,144.6 392.32,144.86 394.07,145.1 395.82,145.31 397.34,145.48 398.4,145.6" fill="none" stroke="#ff00ff" stroke-width="2.6" stroke-linejoin="round" stroke-linecap="round" />
<rect x="304.65" y="101.55" width="2.7" height="2.7" fill="#ff00ff"/>
<rect x="307.28" y="100.1" width="2.7" height="2.7" fill="#ff00ff"/>
<rect x="310.17" y="99.38" width="2.7" height="2.7" fill="#ff00ff"/>
<rect x="313.16" y="99.25" width="2.7" height="2.7" fill="#ff00ff"/>
<rect x="316.16" y="99.12" width="2.7" height="2.7" fill="#ff00ff"/>
<rect x="319.16" y="99.04" width="2.7" height="2.7" fill="#ff00ff"/>
<rect x="322.16" y="98.97" width="2.7" height="2.7" fill="#ff00ff"/>
<rect x="325.16" y="99.1" width="2.7" height="2.7" fill="#ff00ff"/>
<rect x="328.13" y="99.47" width="2.7" height="2.7" fill="#ff00ff"/>
<rect x="331.04" y="100.18" width="2.7" height="2.7" fill="#ff00ff"/>
<rect x="333.82" y="101.31" width="2.7" height="2.7" fill="#ff00ff"/>
<rect x="336.53" y="102.59" width="2.7" height="2.7" fill="#ff00ff"/>
<rect x="339.26" y="103.85" width="2.7" height="2.7" fill="#ff00ff"/>
<rect x="341.92" y="105.22" width="2.7" height="2.7" fill="#ff00ff"/>
<rect x="344.44" y="106.85" width="2.7" height="2.7" fill="#ff00ff"/>
<rect x="346.84" y="108.64" width="2.7" height="2.7" fill="#ff00ff"/>
<rect x="349.13" y="110.59" width="2.7" height="2.7" fill="#ff00ff"/>
<rect x="351.3" y="112.66" width="2.7" height="2.7" fill="#ff00ff"/>
<rect x="353.39" y="114.81" width="2.7" height="2.7" fill="#ff00ff"/>
<rect x="355.44" y="117" width="2.7" height="2.7" fill="#ff00ff"/>
<rect x="357.45" y="119.23" width="2.7" height="2.7" fill="#ff00ff"/>
<rect x="359.44" y="121.48" width="2.7" height="2.7" fill="#ff00ff"/>
<rect x="361.42" y="123.73" width="2.7" height="2.7" fill="#ff00ff"/>
<rect x="363.39" y="125.99" width="2.7" height="2.7" fill="#ff00ff"/>
<rect x="365.37" y="128.24" width="2.7" height="2.7" fill="#ff00ff"/>
<rect x="367.4" y="130.45" width="2.7" height="2.7" fill="#ff00ff"/>
<rect x="369.46" y="132.64" width="2.7" height="2.7" fill="#ff00ff"/>
<rect x="371.6" y="134.74" width="2.7" height="2.7" fill="#ff00ff"/>
<rect x="373.94" y="136.61" width="2.7" height="2.7" fill="#ff00ff"/>
<rect x="376.49" y="138.18" width="2.7" height="2.7" fill="#ff00ff"/>
<rect x="379.13" y="139.6" width="2.7" height="2.7" fill="#ff00ff"/>
<rect x="381.86" y="140.84" width="2.7" height="2.7" fill="#ff00ff"/>
<rect x="384.68" y="141.88" width="2.7" height="2.7" fill="#ff00ff"/>
<rect x="387.54" y="142.79" width="2.7" height="2.7" fill="#ff00ff"/>
<rect x="390.47" y="143.42" width="2.7" height="2.7" fill="#ff00ff"/>
<rect x="393.44" y="143.83" width="2.7" height="2.7" fill="#ff00ff"/>
<rect x="396.42" y="144.18" width="2.7" height="2.7" fill="#ff00ff"/>
<polyline points="319.4,91.3 319.81,91.72 320.41,92.31 321.09,92.99 321.75,93.68 322.3,94.3 322.68,94.92 322.96,95.6 323.21,96.22 323.53,96.66 324,96.8 324.63,96.51 325.35,95.87 326.17,95.08 327.05,94.32 328,93.8 329,93.54 330.07,93.42 331.2,93.38 332.41,93.39 333.7,93.4 335.1,93.4 336.6,93.43 338.16,93.48 339.74,93.57 341.3,93.7 342.87,93.85 344.48,94.03 346.07,94.25 347.6,94.53 349,94.9 350.25,95.36 351.39,95.89 352.46,96.49 353.48,97.16 354.5,97.9 355.5,98.7 356.47,99.56 357.41,100.49 358.35,101.5 359.3,102.6 360.26,103.83 361.22,105.18 362.18,106.6 363.14,107.99 364.1,109.3 365.06,110.49 366.02,111.6 366.99,112.7 367.95,113.81 368.9,115 369.84,116.29 370.78,117.66 371.72,119.04 372.66,120.41 373.6,121.7 374.55,122.9 375.51,124.05 376.48,125.16 377.44,126.27 378.4,127.4 379.36,128.57 380.32,129.77 381.29,130.95 382.25,132.11 383.2,133.2 384.14,134.22 385.08,135.2 386.02,136.13 386.96,137.03 387.9,137.9 388.84,138.76 389.77,139.59 390.71,140.39 391.68,141.13 392.7,141.8 393.75,142.39 394.82,142.92 395.93,143.38 397.12,143.81 398.4,144.2 399.28,144.57 399.74,144.9 400.53,145.19 402.4,145.43 406.1,145.6 412.81,145.69 422.03,145.7 431.99,145.67 440.91,145.62 447,145.6" fill="none" stroke="#00ffff" stroke-width="2.6" stroke-linejoin="round" stroke-linecap="round" />
<rect x="318.05" y="89.95" width="2.7" height="2.7" fill="#00ffff"/>
<rect x="320.16" y="92.08" width="2.7" height="2.7" fill="#00ffff"/>
<rect x="321.75" y="94.59" width="2.7" height="2.7" fill="#00ffff"/>
<rect x="324.01" y="94.52" width="2.7" height="2.7" fill="#00ffff"/>
<rect x="326.32" y="92.63" width="2.7" height="2.7" fill="#00ffff"/>
<rect x="329.23" y="92.05" width="2.7" height="2.7" fill="#00ffff"/>
<rect x="332.23" y="92.05" width="2.7" height="2.7" fill="#00ffff"/>
<rect x="335.23" y="92.08" width="2.7" height="2.7" fill="#00ffff"/>
<rect x="338.23" y="92.21" width="2.7" height="2.7" fill="#00ffff"/>
<rect x="341.22" y="92.47" width="2.7" height="2.7" fill="#00ffff"/>
<rect x="344.2" y="92.82" width="2.7" height="2.7" fill="#00ffff"/>
<rect x="347.13" y="93.41" width="2.7" height="2.7" fill="#00ffff"/>
<rect x="349.93" y="94.49" width="2.7" height="2.7" fill="#00ffff"/>
<rect x="352.48" y="96.06" width="2.7" height="2.7" fill="#00ffff"/>
<rect x="354.82" y="97.94" width="2.7" height="2.7" fill="#00ffff"/>
<rect x="356.92" y="100.07" width="2.7" height="2.7" fill="#00ffff"/>
<rect x="358.84" y="102.38" width="2.7" height="2.7" fill="#00ffff"/>
<rect x="360.55" y="104.84" width="2.7" height="2.7" fill="#00ffff"/>
<rect x="362.27" y="107.3" width="2.7" height="2.7" fill="#00ffff"/>
<rect x="364.15" y="109.64" width="2.7" height="2.7" fill="#00ffff"/>
<rect x="366.12" y="111.9" width="2.7" height="2.7" fill="#00ffff"/>
<rect x="367.99" y="114.25" width="2.7" height="2.7" fill="#00ffff"/>
<rect x="369.7" y="116.71" width="2.7" height="2.7" fill="#00ffff"/>
<rect x="371.4" y="119.18" width="2.7" height="2.7" fill="#00ffff"/>
<rect x="373.22" y="121.57" width="2.7" height="2.7" fill="#00ffff"/>
<rect x="375.16" y="123.85" width="2.7" height="2.7" fill="#00ffff"/>
<rect x="377.11" y="126.13" width="2.7" height="2.7" fill="#00ffff"/>
<rect x="379.01" y="128.46" width="2.7" height="2.7" fill="#00ffff"/>
<rect x="380.91" y="130.78" width="2.7" height="2.7" fill="#00ffff"/>
<rect x="382.92" y="133" width="2.7" height="2.7" fill="#00ffff"/>
<rect x="385.03" y="135.13" width="2.7" height="2.7" fill="#00ffff"/>
<rect x="387.23" y="137.17" width="2.7" height="2.7" fill="#00ffff"/>
<rect x="389.5" y="139.14" width="2.7" height="2.7" fill="#00ffff"/>
<rect x="391.98" y="140.81" width="2.7" height="2.7" fill="#00ffff"/>
<rect x="394.7" y="142.08" width="2.7" height="2.7" fill="#00ffff"/>
<rect x="397.53" y="143.05" width="2.7" height="2.7" fill="#00ffff"/>
<rect x="400.33" y="143.98" width="2.7" height="2.7" fill="#00ffff"/>
<rect x="403.33" y="144.18" width="2.7" height="2.7" fill="#00ffff"/>
<rect x="406.32" y="144.27" width="2.7" height="2.7" fill="#00ffff"/>
<rect x="409.32" y="144.31" width="2.7" height="2.7" fill="#00ffff"/>
<rect x="412.32" y="144.34" width="2.7" height="2.7" fill="#00ffff"/>
<rect x="415.32" y="144.34" width="2.7" height="2.7" fill="#00ffff"/>
<rect x="418.32" y="144.35" width="2.7" height="2.7" fill="#00ffff"/>
<rect x="421.32" y="144.35" width="2.7" height="2.7" fill="#00ffff"/>
<rect x="424.32" y="144.34" width="2.7" height="2.7" fill="#00ffff"/>
<rect x="427.32" y="144.33" width="2.7" height="2.7" fill="#00ffff"/>
<rect x="430.32" y="144.32" width="2.7" height="2.7" fill="#00ffff"/>
<rect x="433.32" y="144.3" width="2.7" height="2.7" fill="#00ffff"/>
<rect x="436.32" y="144.29" width="2.7" height="2.7" fill="#00ffff"/>
<rect x="439.32" y="144.27" width="2.7" height="2.7" fill="#00ffff"/>
<rect x="442.32" y="144.26" width="2.7" height="2.7" fill="#00ffff"/>
<rect x="445.32" y="144.25" width="2.7" height="2.7" fill="#00ffff"/>
<polyline points="334.9,58.6 337.6,68.5 339.7,80.5 342.5,82.8 345.8,82.8 348.6,84 351.5,84.4 354.4,85.3 357.2,86.6 360.1,88.2 363.9,90.1 366.8,92 369.6,93.8 371.8,96 375.5,100.7 379.4,107.4 383.2,114.1 386,118.9 387.9,122.7 390.8,128.4 393.7,134.1 396.5,137.9 400.3,140.8 404.2,142.7 408,144.2 413.7,145 420,145.6" fill="none" stroke="#0000ff" stroke-width="1.0" stroke-linejoin="round" stroke-linecap="round" />
<rect x="333.3" y="57" width="3.2" height="3.2" fill="#0000ff"/>
<rect x="336" y="66.9" width="3.2" height="3.2" fill="#0000ff"/>
<rect x="338.1" y="78.9" width="3.2" height="3.2" fill="#0000ff"/>
<rect x="340.9" y="81.2" width="3.2" height="3.2" fill="#0000ff"/>
<rect x="344.2" y="81.2" width="3.2" height="3.2" fill="#0000ff"/>
<rect x="347" y="82.4" width="3.2" height="3.2" fill="#0000ff"/>
<rect x="349.9" y="82.8" width="3.2" height="3.2" fill="#0000ff"/>
<rect x="352.8" y="83.7" width="3.2" height="3.2" fill="#0000ff"/>
<rect x="355.6" y="85" width="3.2" height="3.2" fill="#0000ff"/>
<rect x="358.5" y="86.6" width="3.2" height="3.2" fill="#0000ff"/>
<rect x="362.3" y="88.5" width="3.2" height="3.2" fill="#0000ff"/>
<rect x="365.2" y="90.4" width="3.2" height="3.2" fill="#0000ff"/>
<rect x="368" y="92.2" width="3.2" height="3.2" fill="#0000ff"/>
<rect x="370.2" y="94.4" width="3.2" height="3.2" fill="#0000ff"/>
<rect x="373.9" y="99.1" width="3.2" height="3.2" fill="#0000ff"/>
<rect x="377.8" y="105.8" width="3.2" height="3.2" fill="#0000ff"/>
<rect x="381.6" y="112.5" width="3.2" height="3.2" fill="#0000ff"/>
<rect x="384.4" y="117.3" width="3.2" height="3.2" fill="#0000ff"/>
<rect x="386.3" y="121.1" width="3.2" height="3.2" fill="#0000ff"/>
<rect x="389.2" y="126.8" width="3.2" height="3.2" fill="#0000ff"/>
<rect x="392.1" y="132.5" width="3.2" height="3.2" fill="#0000ff"/>
<rect x="394.9" y="136.3" width="3.2" height="3.2" fill="#0000ff"/>
<rect x="398.7" y="139.2" width="3.2" height="3.2" fill="#0000ff"/>
<rect x="402.6" y="141.1" width="3.2" height="3.2" fill="#0000ff"/>
<rect x="406.4" y="142.6" width="3.2" height="3.2" fill="#0000ff"/>
<rect x="412.1" y="143.4" width="3.2" height="3.2" fill="#0000ff"/>
<polyline points="352.4,61.8 354.9,55.7 357.2,61.8 360.1,69.1 362.4,66.8 365.8,69.1 368.7,71 371.9,73.3 375.3,75.8 378.2,77.7 381.1,80.2 383.9,83.4 386.4,86.3 388.7,90.1 391,95.5 394.2,104.5 397.5,114.1 400.3,122.7 403.2,129.4 406.1,135.1 408.9,139.8 411.8,142.7 415.6,144.2 420.4,145 428,145.6" fill="none" stroke="#00ff00" stroke-width="1.0" stroke-linejoin="round" stroke-linecap="round" />
<rect x="350.8" y="60.2" width="3.2" height="3.2" fill="#00ff00"/>
<rect x="353.3" y="54.1" width="3.2" height="3.2" fill="#00ff00"/>
<rect x="355.6" y="60.2" width="3.2" height="3.2" fill="#00ff00"/>
<rect x="358.5" y="67.5" width="3.2" height="3.2" fill="#00ff00"/>
<rect x="360.8" y="65.2" width="3.2" height="3.2" fill="#00ff00"/>
<rect x="364.2" y="67.5" width="3.2" height="3.2" fill="#00ff00"/>
<rect x="367.1" y="69.4" width="3.2" height="3.2" fill="#00ff00"/>
<rect x="370.3" y="71.7" width="3.2" height="3.2" fill="#00ff00"/>
<rect x="373.7" y="74.2" width="3.2" height="3.2" fill="#00ff00"/>
<rect x="376.6" y="76.1" width="3.2" height="3.2" fill="#00ff00"/>
<rect x="379.5" y="78.6" width="3.2" height="3.2" fill="#00ff00"/>
<rect x="382.3" y="81.8" width="3.2" height="3.2" fill="#00ff00"/>
<rect x="384.8" y="84.7" width="3.2" height="3.2" fill="#00ff00"/>
<rect x="387.1" y="88.5" width="3.2" height="3.2" fill="#00ff00"/>
<rect x="389.4" y="93.9" width="3.2" height="3.2" fill="#00ff00"/>
<rect x="392.6" y="102.9" width="3.2" height="3.2" fill="#00ff00"/>
<rect x="395.9" y="112.5" width="3.2" height="3.2" fill="#00ff00"/>
<rect x="398.7" y="121.1" width="3.2" height="3.2" fill="#00ff00"/>
<rect x="401.6" y="127.8" width="3.2" height="3.2" fill="#00ff00"/>
<rect x="404.5" y="133.5" width="3.2" height="3.2" fill="#00ff00"/>
<rect x="407.3" y="138.2" width="3.2" height="3.2" fill="#00ff00"/>
<rect x="410.2" y="141.1" width="3.2" height="3.2" fill="#00ff00"/>
<rect x="414" y="142.6" width="3.2" height="3.2" fill="#00ff00"/>
<rect x="418.8" y="143.4" width="3.2" height="3.2" fill="#00ff00"/>
<polyline points="369.7,13.3 373.5,15.3 375,27.7 377.7,33.9 380,35.9 381.5,41 383.8,43.9 385.7,46.7 387.6,50.5 390.6,57 393.2,63.5 396.3,68.7 399.2,73.9 402.1,77.7 404.9,85.3 408.2,96.8 410.8,109.3 413.1,122.7 415.6,133.2 417.9,138.9 420.4,141.8 423.2,143.1 427.1,144.2 434,145.6" fill="none" stroke="#ff0000" stroke-width="1.0" stroke-linejoin="round" stroke-linecap="round" />
<rect x="368.1" y="11.7" width="3.2" height="3.2" fill="#ff0000"/>
<rect x="371.9" y="13.7" width="3.2" height="3.2" fill="#ff0000"/>
<rect x="373.4" y="26.1" width="3.2" height="3.2" fill="#ff0000"/>
<rect x="376.1" y="32.3" width="3.2" height="3.2" fill="#ff0000"/>
<rect x="378.4" y="34.3" width="3.2" height="3.2" fill="#ff0000"/>
<rect x="379.9" y="39.4" width="3.2" height="3.2" fill="#ff0000"/>
<rect x="382.2" y="42.3" width="3.2" height="3.2" fill="#ff0000"/>
<rect x="384.1" y="45.1" width="3.2" height="3.2" fill="#ff0000"/>
<rect x="386" y="48.9" width="3.2" height="3.2" fill="#ff0000"/>
<rect x="389" y="55.4" width="3.2" height="3.2" fill="#ff0000"/>
<rect x="391.6" y="61.9" width="3.2" height="3.2" fill="#ff0000"/>
<rect x="394.7" y="67.1" width="3.2" height="3.2" fill="#ff0000"/>
<rect x="397.6" y="72.3" width="3.2" height="3.2" fill="#ff0000"/>
<rect x="400.5" y="76.1" width="3.2" height="3.2" fill="#ff0000"/>
<rect x="403.3" y="83.7" width="3.2" height="3.2" fill="#ff0000"/>
<rect x="406.6" y="95.2" width="3.2" height="3.2" fill="#ff0000"/>
<rect x="409.2" y="107.7" width="3.2" height="3.2" fill="#ff0000"/>
<rect x="411.5" y="121.1" width="3.2" height="3.2" fill="#ff0000"/>
<rect x="414" y="131.6" width="3.2" height="3.2" fill="#ff0000"/>
<rect x="416.3" y="137.3" width="3.2" height="3.2" fill="#ff0000"/>
<rect x="418.8" y="140.2" width="3.2" height="3.2" fill="#ff0000"/>
<rect x="421.6" y="141.5" width="3.2" height="3.2" fill="#ff0000"/>
<rect x="425.5" y="142.6" width="3.2" height="3.2" fill="#ff0000"/>
<rect x="456.2" y="144.1" width="3" height="3" fill="#00ffff"/>
<rect x="471.1" y="144.1" width="3" height="3" fill="#00ffff"/>
</g>
<line x1="347.4" y1="114.5" x2="347.4" y2="129.5" stroke="#999" stroke-width="0.8" />
<polygon points="347.4,131.7 346.2,128.7 348.6,128.7" fill="#111"/>
<line x1="350.4" y1="106.2" x2="350.4" y2="122" stroke="#999" stroke-width="0.8" />
<polygon points="350.4,124.2 349.2,121.2 351.6,121.2" fill="#111"/>
<line x1="354.8" y1="95.5" x2="354.8" y2="110" stroke="#999" stroke-width="0.8" />
<polygon points="354.8,112.2 353.6,109.2 356,109.2" fill="#111"/>
<line x1="359.7" y1="84" x2="359.7" y2="99.5" stroke="#999" stroke-width="0.8" />
<polygon points="359.7,101.7 358.5,98.7 360.9,98.7" fill="#111"/>
<line x1="368.7" y1="72.9" x2="368.7" y2="88.8" stroke="#999" stroke-width="0.8" />
<polygon points="368.7,91 367.5,88 369.9,88" fill="#111"/>
<line x1="383.2" y1="61.5" x2="383.2" y2="77.6" stroke="#999" stroke-width="0.8" />
<polygon points="383.2,79.8 382,76.8 384.4,76.8" fill="#111"/>
<line x1="395.8" y1="48.5" x2="395.8" y2="64.3" stroke="#999" stroke-width="0.8" />
<polygon points="395.8,66.5 394.6,63.5 397,63.5" fill="#111"/>
<rect x="268.3" y="2.8" width="215" height="157.4" fill="none" stroke="#666666" stroke-width="1.35"/>
<line x1="268.3" y1="160.2" x2="268.3" y2="157.2" stroke="#666666" stroke-width="0.8" />
<line x1="268.3" y1="2.8" x2="268.3" y2="5.8" stroke="#666666" stroke-width="0.8" />
<line x1="293.58" y1="160.2" x2="293.58" y2="157.2" stroke="#666666" stroke-width="0.8" />
<line x1="293.58" y1="2.8" x2="293.58" y2="5.8" stroke="#666666" stroke-width="0.8" />
<line x1="318.86" y1="160.2" x2="318.86" y2="157.2" stroke="#666666" stroke-width="0.8" />
<line x1="318.86" y1="2.8" x2="318.86" y2="5.8" stroke="#666666" stroke-width="0.8" />
<line x1="344.14" y1="160.2" x2="344.14" y2="157.2" stroke="#666666" stroke-width="0.8" />
<line x1="344.14" y1="2.8" x2="344.14" y2="5.8" stroke="#666666" stroke-width="0.8" />
<line x1="369.42" y1="160.2" x2="369.42" y2="157.2" stroke="#666666" stroke-width="0.8" />
<line x1="369.42" y1="2.8" x2="369.42" y2="5.8" stroke="#666666" stroke-width="0.8" />
<line x1="394.7" y1="160.2" x2="394.7" y2="157.2" stroke="#666666" stroke-width="0.8" />
<line x1="394.7" y1="2.8" x2="394.7" y2="5.8" stroke="#666666" stroke-width="0.8" />
<line x1="419.98" y1="160.2" x2="419.98" y2="157.2" stroke="#666666" stroke-width="0.8" />
<line x1="419.98" y1="2.8" x2="419.98" y2="5.8" stroke="#666666" stroke-width="0.8" />
<line x1="445.26" y1="160.2" x2="445.26" y2="157.2" stroke="#666666" stroke-width="0.8" />
<line x1="445.26" y1="2.8" x2="445.26" y2="5.8" stroke="#666666" stroke-width="0.8" />
<line x1="470.54" y1="160.2" x2="470.54" y2="157.2" stroke="#666666" stroke-width="0.8" />
<line x1="470.54" y1="2.8" x2="470.54" y2="5.8" stroke="#666666" stroke-width="0.8" />
<line x1="268.3" y1="146" x2="271.3" y2="146" stroke="#666666" stroke-width="0.8" />
<line x1="483.3" y1="146" x2="480.3" y2="146" stroke="#666666" stroke-width="0.8" />
<line x1="268.3" y1="117.34" x2="271.3" y2="117.34" stroke="#666666" stroke-width="0.8" />
<line x1="483.3" y1="117.34" x2="480.3" y2="117.34" stroke="#666666" stroke-width="0.8" />
<line x1="268.3" y1="88.68" x2="271.3" y2="88.68" stroke="#666666" stroke-width="0.8" />
<line x1="483.3" y1="88.68" x2="480.3" y2="88.68" stroke="#666666" stroke-width="0.8" />
<line x1="268.3" y1="60.02" x2="271.3" y2="60.02" stroke="#666666" stroke-width="0.8" />
<line x1="483.3" y1="60.02" x2="480.3" y2="60.02" stroke="#666666" stroke-width="0.8" />
<line x1="268.3" y1="31.36" x2="271.3" y2="31.36" stroke="#666666" stroke-width="0.8" />
<line x1="483.3" y1="31.36" x2="480.3" y2="31.36" stroke="#666666" stroke-width="0.8" />
<line x1="268.3" y1="2.7" x2="271.3" y2="2.7" stroke="#666666" stroke-width="0.8" />
<line x1="483.3" y1="2.7" x2="480.3" y2="2.7" stroke="#666666" stroke-width="0.8" />
<line x1="268.3" y1="160.33" x2="269.9" y2="160.33" stroke="#666666" stroke-width="0.8" />
<line x1="483.3" y1="160.33" x2="481.7" y2="160.33" stroke="#666666" stroke-width="0.8" />
<line x1="268.3" y1="131.67" x2="269.9" y2="131.67" stroke="#666666" stroke-width="0.8" />
<line x1="483.3" y1="131.67" x2="481.7" y2="131.67" stroke="#666666" stroke-width="0.8" />
<line x1="268.3" y1="103.01" x2="269.9" y2="103.01" stroke="#666666" stroke-width="0.8" />
<line x1="483.3" y1="103.01" x2="481.7" y2="103.01" stroke="#666666" stroke-width="0.8" />
<line x1="268.3" y1="74.35" x2="269.9" y2="74.35" stroke="#666666" stroke-width="0.8" />
<line x1="483.3" y1="74.35" x2="481.7" y2="74.35" stroke="#666666" stroke-width="0.8" />
<line x1="268.3" y1="45.69" x2="269.9" y2="45.69" stroke="#666666" stroke-width="0.8" />
<line x1="483.3" y1="45.69" x2="481.7" y2="45.69" stroke="#666666" stroke-width="0.8" />
<line x1="268.3" y1="17.03" x2="269.9" y2="17.03" stroke="#666666" stroke-width="0.8" />
<line x1="483.3" y1="17.03" x2="481.7" y2="17.03" stroke="#666666" stroke-width="0.8" />
<text x="268.3" y="167.8" font-size="6.9" fill="#222" stroke="#222" stroke-width="0.19" font-family="Liberation Sans, sans-serif" text-anchor="middle" >23</text>
<text x="293.58" y="167.8" font-size="6.9" fill="#222" stroke="#222" stroke-width="0.19" font-family="Liberation Sans, sans-serif" text-anchor="middle" >24</text>
<text x="318.86" y="167.8" font-size="6.9" fill="#222" stroke="#222" stroke-width="0.19" font-family="Liberation Sans, sans-serif" text-anchor="middle" >25</text>
<text x="344.14" y="167.8" font-size="6.9" fill="#222" stroke="#222" stroke-width="0.19" font-family="Liberation Sans, sans-serif" text-anchor="middle" >26</text>
<text x="369.42" y="167.8" font-size="6.9" fill="#222" stroke="#222" stroke-width="0.19" font-family="Liberation Sans, sans-serif" text-anchor="middle" >27</text>
<text x="394.7" y="167.8" font-size="6.9" fill="#222" stroke="#222" stroke-width="0.19" font-family="Liberation Sans, sans-serif" text-anchor="middle" >28</text>
<text x="419.98" y="167.8" font-size="6.9" fill="#222" stroke="#222" stroke-width="0.19" font-family="Liberation Sans, sans-serif" text-anchor="middle" >29</text>
<text x="445.26" y="167.8" font-size="6.9" fill="#222" stroke="#222" stroke-width="0.19" font-family="Liberation Sans, sans-serif" text-anchor="middle" >30</text>
<text x="470.54" y="167.8" font-size="6.9" fill="#222" stroke="#222" stroke-width="0.19" font-family="Liberation Sans, sans-serif" text-anchor="middle" >31</text>
<text x="264.6" y="148.2" font-size="6.2" fill="#222" stroke="#222" stroke-width="0.17" font-family="Liberation Sans, sans-serif" text-anchor="end" >0</text>
<text x="264.6" y="119.54" font-size="6.2" fill="#222" stroke="#222" stroke-width="0.17" font-family="Liberation Sans, sans-serif" text-anchor="end" >1000</text>
<text x="264.6" y="90.88" font-size="6.2" fill="#222" stroke="#222" stroke-width="0.17" font-family="Liberation Sans, sans-serif" text-anchor="end" >2000</text>
<text x="264.6" y="62.22" font-size="6.2" fill="#222" stroke="#222" stroke-width="0.17" font-family="Liberation Sans, sans-serif" text-anchor="end" >3000</text>
<text x="264.6" y="33.56" font-size="6.2" fill="#222" stroke="#222" stroke-width="0.17" font-family="Liberation Sans, sans-serif" text-anchor="end" >4000</text>
<text x="264.6" y="4.9" font-size="6.2" fill="#222" stroke="#222" stroke-width="0.17" font-family="Liberation Sans, sans-serif" text-anchor="end" >5000</text>
<text x="372.5" y="178.4" font-size="10.3" fill="#111" stroke="#111" stroke-width="0.28" font-family="Liberation Sans, sans-serif" text-anchor="middle" >T(K)</text>
<text x="0" y="0" font-size="10.6" fill="#111" stroke="#111" stroke-width="0.28" font-family="Liberation Sans, sans-serif" text-anchor="middle" transform="translate(242.2,89) rotate(-90)">U=d(ln&#961;)/d(1/T) (K)</text>
<text x="277.4" y="19.9" font-size="13.6" fill="#000" stroke="#000" stroke-width="0.28" font-family="Liberation Sans, sans-serif" text-anchor="start" >(b)</text>
<text x="430.3" y="30.8" font-size="13.4" fill="#000" stroke="#000" stroke-width="0.28" font-family="Liberation Sans, sans-serif" text-anchor="start" >H//c</text>
<text x="383.8" y="37.4" font-size="10.2" fill="#ff0000" stroke="#ff0000" stroke-width="0.28" font-family="Liberation Sans, sans-serif" text-anchor="start" >2T</text>
<text x="398.6" y="53.2" font-size="12" fill="#000" stroke="#000" stroke-width="0.28" font-family="Liberation Sans, sans-serif" text-anchor="start" >T</text>
<text x="406.4" y="45.2" font-size="8.5" fill="#000" stroke="#000" stroke-width="0.28" font-family="Liberation Sans, sans-serif" text-anchor="start" >*</text>
<text x="337.2" y="58.2" font-size="9.2" fill="#0000ff" stroke="#0000ff" stroke-width="0.28" font-family="Liberation Sans, sans-serif" text-anchor="start" >6</text>
<text x="372.5" y="65.8" font-size="9.2" fill="#00ff00" stroke="#00ff00" stroke-width="0.28" font-family="Liberation Sans, sans-serif" text-anchor="start" >4</text>
<text x="325.8" y="91.6" font-size="9.2" fill="#00ffff" stroke="#00ffff" stroke-width="0.28" font-family="Liberation Sans, sans-serif" text-anchor="start" >8</text>
<text x="305.3" y="97.6" font-size="9" fill="#ff00ff" stroke="#ff00ff" stroke-width="0.28" font-family="Liberation Sans, sans-serif" text-anchor="start" >10</text>
<text x="285.3" y="98.1" font-size="9" fill="#ffff00" stroke="#ffff00" stroke-width="0.28" font-family="Liberation Sans, sans-serif" text-anchor="start" >12</text>
<text x="275.2" y="125.8" font-size="9" fill="#008000" stroke="#008000" stroke-width="0.28" font-family="Liberation Sans, sans-serif" text-anchor="start" >14</text>
<clipPath id="cc"><rect x="515.4" y="6.1" width="208.60000000000002" height="153.1"/></clipPath>
<g clip-path="url(#cc)">
<polyline points="516,147.4 518.49,147.4 522.06,147.4 526.1,147.4 530,147.4 533.68,147.4 537.44,147.4 541.23,147.4 545,147.4 548.75,147.4 552.5,147.41 556.25,147.41 560,147.4 563.75,147.38 567.5,147.36 571.25,147.33 575,147.3 578.75,147.28 582.5,147.25 586.25,147.22 590,147.2 593.75,147.18 597.5,147.16 601.25,147.14 605,147.1 608.74,147.04 612.47,146.97 616.21,146.89 620,146.8 623.99,146.66 628.12,146.49 632.06,146.35 635.5,146.3 638.23,146.41 640.45,146.62 642.48,146.85 644.6,147 646.86,147.05 649.1,147.04 651.37,147.02 653.7,147 656.14,147.01 658.65,147.02 661.16,147.02 663.6,147 665.93,146.95 668.2,146.88 670.44,146.79 672.7,146.7 674.98,146.61 677.25,146.52 679.52,146.42 681.8,146.3 684.09,146.14 686.38,145.96 688.66,145.79 690.9,145.7 693.05,145.74 695.13,145.86 697.25,145.98 699.5,146 701.97,145.86 704.58,145.63 707.2,145.38 709.7,145.2 712.05,145.11 714.33,145.07 716.51,145.05 718.6,145 720.73,144.9 722.86,144.79 724.71,144.68 726,144.6" fill="none" stroke="#ff77ff" stroke-width="0.7" stroke-linejoin="round" stroke-linecap="round" />
<polyline points="516,146.8 517.27,146.82 519.08,146.86 521.17,146.89 523.3,146.9 525.47,146.89 527.78,146.86 530.16,146.83 532.5,146.8 534.8,146.78 537.1,146.76 539.4,146.73 541.7,146.7 544,146.66 546.3,146.61 548.6,146.56 550.9,146.5 553.2,146.43 555.5,146.36 557.8,146.28 560.1,146.2 562.4,146.12 564.7,146.05 567,145.97 569.3,145.9 571.6,145.83 573.9,145.76 576.2,145.68 578.5,145.6 580.8,145.51 583.1,145.41 585.4,145.3 587.7,145.2 590,145.1 592.3,145 594.6,144.9 596.9,144.8 599.2,144.7 601.5,144.6 603.8,144.5 606.1,144.4 608.4,144.3 610.7,144.21 613,144.11 615.3,144 617.56,143.87 619.79,143.73 622.07,143.58 624.5,143.4 627.17,143.21 630.01,143.01 632.84,142.77 635.5,142.5 637.91,142.15 640.17,141.74 642.37,141.34 644.6,141 646.88,140.74 649.15,140.53 651.43,140.36 653.7,140.2 655.96,140.1 658.2,140.05 660.47,139.98 662.8,139.8 665.24,139.47 667.75,139.04 670.26,138.59 672.7,138.2 675.03,137.92 677.31,137.71 679.55,137.49 681.8,137.2 684.07,136.85 686.33,136.47 688.58,136.03 690.8,135.5 692.96,134.89 695.09,134.21 697.22,133.42 699.4,132.5 701.64,131.44 703.93,130.25 706.24,128.94 708.6,127.5 711.06,125.9 713.6,124.16 716.09,122.33 718.4,120.5 720.63,118.48 722.81,116.31 724.69,114.36 726,113" fill="none" stroke="#ff55ff" stroke-width="0.7" stroke-linejoin="round" stroke-linecap="round" />
<polyline points="515.8,144.6 517.36,144.55 519.59,144.47 522.1,144.38 524.5,144.3 526.73,144.23 528.99,144.16 531.26,144.08 533.5,144 535.72,143.91 537.92,143.81 540.11,143.7 542.3,143.6 544.47,143.5 546.62,143.4 548.79,143.3 551,143.2 553.28,143.1 555.61,143 557.96,142.9 560.3,142.8 562.63,142.7 564.98,142.6 567.3,142.5 569.6,142.4 571.83,142.3 574.03,142.2 576.23,142.1 578.5,142 580.88,141.9 583.32,141.81 585.78,141.71 588.2,141.6 590.56,141.46 592.89,141.29 595.22,141.13 597.6,141 600.06,140.91 602.57,140.84 605.07,140.78 607.5,140.7 609.81,140.6 612.06,140.49 614.29,140.36 616.6,140.2 619,139.99 621.45,139.75 623.93,139.48 626.4,139.2 628.89,138.91 631.39,138.6 633.88,138.27 636.3,137.9 638.63,137.5 640.9,137.07 643.14,136.6 645.4,136.1 647.67,135.58 649.95,135.04 652.23,134.43 654.5,133.7 656.79,132.82 659.1,131.83 661.38,130.75 663.6,129.6 665.71,128.43 667.75,127.22 669.79,125.87 671.9,124.3 674.12,122.5 676.39,120.5 678.7,118.3 681,115.9 683.29,113.34 685.59,110.61 687.89,107.6 690.2,104.2 692.51,100.47 694.83,96.45 697.15,91.98 699.5,86.9 701.89,81.22 704.3,74.99 706.71,68.2 709.1,60.8 711.56,52.21 714.06,42.63 716.41,33.24 718.4,25.2 719.99,18.59 721.28,12.88 722.28,8.27 723,5" fill="none" stroke="#ffff00" stroke-width="0.7" stroke-linejoin="round" stroke-linecap="round" />
<polyline points="533,148.9 538.38,148.91 546.2,148.94 554.32,148.94 560.6,148.9 564.28,148.8 566.56,148.66 568.26,148.49 570.2,148.3 572.49,148.07 574.74,147.8 576.96,147.53 579.2,147.3 581.44,147.12 583.67,146.98 585.91,146.85 588.2,146.7 590.53,146.52 592.9,146.33 595.29,146.15 597.7,146 600.13,145.89 602.58,145.82 605.04,145.76 607.5,145.7 609.97,145.65 612.44,145.6 614.9,145.55 617.3,145.5 619.61,145.43 621.86,145.35 624.11,145.27 626.4,145.2 628.77,145.14 631.18,145.09 633.6,145.05 636,145 638.37,144.96 640.73,144.92 643.08,144.87 645.4,144.8 647.7,144.69 649.97,144.56 652.23,144.42 654.5,144.3 656.79,144.21 659.1,144.13 661.38,144.06 663.6,144 665.69,143.96 667.7,143.93 669.73,143.89 671.9,143.8 674.28,143.63 676.8,143.41 679.34,143.19 681.8,143 684.15,142.88 686.44,142.79 688.69,142.7 690.9,142.6 693.02,142.45 695.06,142.29 697.12,142.13 699.3,142 701.64,141.94 704.09,141.93 706.59,141.9 709.1,141.8 711.86,141.56 714.81,141.24 717.46,140.92 719.3,140.7" fill="none" stroke="#008000" stroke-width="0.7" stroke-linejoin="round" stroke-linecap="round" />
<polyline points="515.8,142.7 517.36,142.59 519.59,142.42 522.1,142.24 524.5,142.1 526.73,142.01 528.99,141.94 531.26,141.88 533.5,141.8 535.72,141.69 537.92,141.57 540.11,141.44 542.3,141.3 544.46,141.15 546.6,141 548.76,140.85 551,140.7 553.35,140.58 555.78,140.47 558.22,140.35 560.6,140.2 562.89,140.01 565.14,139.81 567.37,139.57 569.6,139.3 571.81,138.98 574.01,138.63 576.22,138.25 578.5,137.9 580.88,137.6 583.32,137.32 585.78,137.01 588.2,136.6 590.58,136.05 592.94,135.41 595.28,134.73 597.6,134.1 599.88,133.56 602.12,133.06 604.38,132.53 606.7,131.9 609.14,131.11 611.65,130.21 614.16,129.31 616.6,128.5 618.91,127.9 621.16,127.44 623.39,126.9 625.7,126.1 628.12,125.01 630.6,123.72 633.08,122.22 635.5,120.5 637.81,118.53 640.04,116.31 642.29,113.92 644.6,111.4 647.06,108.83 649.62,106.16 652.14,103.26 654.5,100 656.61,96.37 658.55,92.43 660.47,88.15 662.5,83.5 664.68,78.52 666.92,73.21 669.24,67.49 671.6,61.3 674.11,54.42 676.74,46.96 679.3,39.31 681.6,31.9 683.7,24.17 685.68,16.11 687.33,8.98 688.5,4" fill="none" stroke="#7777ff" stroke-width="0.7" stroke-linejoin="round" stroke-linecap="round" />
<polyline points="515.8,141.4 517.37,140.93 519.61,140.26 522.13,139.51 524.5,138.8 526.65,138.16 528.78,137.54 530.92,136.89 533.1,136.2 535.31,135.43 537.56,134.61 539.82,133.79 542.1,133 544.4,132.31 546.72,131.67 549.05,131 551.4,130.2 553.76,129.22 556.14,128.11 558.52,126.97 560.9,125.9 563.27,124.91 565.64,123.96 568.02,123.02 570.4,122.1 572.81,121.22 575.23,120.38 577.64,119.5 580,118.5 582.29,117.31 584.54,116 586.77,114.66 589,113.4 591.25,112.22 593.51,111.06 595.74,109.98 597.9,109 599.92,108.31 601.84,107.82 603.79,107.2 605.9,106.1 608.2,104.49 610.62,102.52 613.14,100.17 615.7,97.4 618.37,94.17 621.15,90.51 623.9,86.47 626.5,82.1 628.87,77.42 631.09,72.39 633.26,67.02 635.5,61.3 637.85,55.22 640.24,48.79 642.62,42.03 644.9,35 647.25,26.85 649.64,17.86 651.73,9.68 653.2,4" fill="none" stroke="#444444" stroke-width="0.7" stroke-linejoin="round" stroke-linecap="round" />
<polyline points="515.8,135.5 517.37,134.68 519.61,133.51 522.13,132.12 524.5,130.6 526.63,128.97 528.74,127.17 530.88,125.24 533.1,123.2 535.43,121.01 537.84,118.68 540.28,116.28 542.7,113.9 545.11,111.49 547.54,109.04 549.92,106.65 552.2,104.4 554.31,102.4 556.3,100.57 558.29,98.75 560.4,96.8 562.68,94.61 565.07,92.29 567.49,89.97 569.9,87.8 572.27,85.84 574.64,83.99 577.02,82.21 579.4,80.4 581.81,78.61 584.25,76.85 586.66,75.04 589,73.1 591.22,71.32 593.37,69.63 595.5,67.43 597.7,64.1 600,59.27 602.35,53.34 604.7,46.84 607,40.3 609.35,33.31 611.75,25.78 613.95,18.71 615.7,13.1 616.9,9.34 617.69,6.85 618.21,5.21 618.6,4" fill="none" stroke="#ff6666" stroke-width="0.7" stroke-linejoin="round" stroke-linecap="round" />
<polygon points="532.88,147.4 527.88,144.53 527.88,150.28" fill="none" stroke="#ff66ff" stroke-width="0.75"/>
<polygon points="547.88,147.4 542.88,144.53 542.88,150.28" fill="none" stroke="#ff66ff" stroke-width="0.75"/>
<polygon points="562.88,147.4 557.88,144.53 557.88,150.28" fill="none" stroke="#ff66ff" stroke-width="0.75"/>
<polygon points="577.88,147.3 572.88,144.43 572.88,150.18" fill="none" stroke="#ff66ff" stroke-width="0.75"/>
<polygon points="592.88,147.2 587.88,144.32 587.88,150.07" fill="none" stroke="#ff66ff" stroke-width="0.75"/>
<polygon points="607.88,147.1 602.88,144.22 602.88,149.97" fill="none" stroke="#ff66ff" stroke-width="0.75"/>
<polygon points="622.88,146.8 617.88,143.93 617.88,149.68" fill="none" stroke="#ff66ff" stroke-width="0.75"/>
<polygon points="638.38,146.3 633.38,143.43 633.38,149.18" fill="none" stroke="#ff66ff" stroke-width="0.75"/>
<polygon points="647.48,147 642.48,144.12 642.48,149.88" fill="none" stroke="#ff66ff" stroke-width="0.75"/>
<polygon points="656.58,147 651.58,144.12 651.58,149.88" fill="none" stroke="#ff66ff" stroke-width="0.75"/>
<polygon points="666.48,147 661.48,144.12 661.48,149.88" fill="none" stroke="#ff66ff" stroke-width="0.75"/>
<polygon points="675.58,146.7 670.58,143.82 670.58,149.57" fill="none" stroke="#ff66ff" stroke-width="0.75"/>
<polygon points="684.67,146.3 679.67,143.43 679.67,149.18" fill="none" stroke="#ff66ff" stroke-width="0.75"/>
<polygon points="693.77,145.7 688.77,142.82 688.77,148.57" fill="none" stroke="#ff66ff" stroke-width="0.75"/>
<polygon points="702.38,146 697.38,143.12 697.38,148.88" fill="none" stroke="#ff66ff" stroke-width="0.75"/>
<polygon points="712.58,145.2 707.58,142.32 707.58,148.07" fill="none" stroke="#ff66ff" stroke-width="0.75"/>
<polygon points="721.48,145 716.48,142.12 716.48,147.88" fill="none" stroke="#ff66ff" stroke-width="0.75"/>
<polygon points="520.42,146.9 525.42,144.03 525.42,149.78" fill="none" stroke="#ff00ff" stroke-width="0.75"/>
<polygon points="529.62,146.8 534.62,143.93 534.62,149.68" fill="none" stroke="#ff00ff" stroke-width="0.75"/>
<polygon points="538.83,146.7 543.83,143.82 543.83,149.57" fill="none" stroke="#ff00ff" stroke-width="0.75"/>
<polygon points="548.02,146.5 553.02,143.62 553.02,149.38" fill="none" stroke="#ff00ff" stroke-width="0.75"/>
<polygon points="557.23,146.2 562.23,143.32 562.23,149.07" fill="none" stroke="#ff00ff" stroke-width="0.75"/>
<polygon points="566.42,145.9 571.42,143.03 571.42,148.78" fill="none" stroke="#ff00ff" stroke-width="0.75"/>
<polygon points="575.62,145.6 580.62,142.72 580.62,148.47" fill="none" stroke="#ff00ff" stroke-width="0.75"/>
<polygon points="584.83,145.2 589.83,142.32 589.83,148.07" fill="none" stroke="#ff00ff" stroke-width="0.75"/>
<polygon points="594.02,144.8 599.02,141.93 599.02,147.68" fill="none" stroke="#ff00ff" stroke-width="0.75"/>
<polygon points="603.23,144.4 608.23,141.53 608.23,147.28" fill="none" stroke="#ff00ff" stroke-width="0.75"/>
<polygon points="612.42,144 617.42,141.12 617.42,146.88" fill="none" stroke="#ff00ff" stroke-width="0.75"/>
<polygon points="621.62,143.4 626.62,140.53 626.62,146.28" fill="none" stroke="#ff00ff" stroke-width="0.75"/>
<polygon points="632.62,142.5 637.62,139.62 637.62,145.38" fill="none" stroke="#ff00ff" stroke-width="0.75"/>
<polygon points="641.73,141 646.73,138.12 646.73,143.88" fill="none" stroke="#ff00ff" stroke-width="0.75"/>
<polygon points="650.83,140.2 655.83,137.32 655.83,143.07" fill="none" stroke="#ff00ff" stroke-width="0.75"/>
<polygon points="659.92,139.8 664.92,136.93 664.92,142.68" fill="none" stroke="#ff00ff" stroke-width="0.75"/>
<polygon points="669.83,138.2 674.83,135.32 674.83,141.07" fill="none" stroke="#ff00ff" stroke-width="0.75"/>
<polygon points="678.92,137.2 683.92,134.32 683.92,140.07" fill="none" stroke="#ff00ff" stroke-width="0.75"/>
<polygon points="687.92,135.5 692.92,132.62 692.92,138.38" fill="none" stroke="#ff00ff" stroke-width="0.75"/>
<polygon points="696.52,132.5 701.52,129.62 701.52,135.38" fill="none" stroke="#ff00ff" stroke-width="0.75"/>
<polygon points="705.73,127.5 710.73,124.62 710.73,130.38" fill="none" stroke="#ff00ff" stroke-width="0.75"/>
<polygon points="715.52,120.5 720.52,117.62 720.52,123.38" fill="none" stroke="#ff00ff" stroke-width="0.75"/>
<circle cx="524.5" cy="144.3" r="2.55" fill="#ffff00"/>
<circle cx="533.5" cy="144" r="2.55" fill="#ffff00"/>
<circle cx="542.3" cy="143.6" r="2.55" fill="#ffff00"/>
<circle cx="551" cy="143.2" r="2.55" fill="#ffff00"/>
<circle cx="560.3" cy="142.8" r="2.55" fill="#ffff00"/>
<circle cx="569.6" cy="142.4" r="2.55" fill="#ffff00"/>
<circle cx="578.5" cy="142" r="2.55" fill="#ffff00"/>
<circle cx="588.2" cy="141.6" r="2.55" fill="#ffff00"/>
<circle cx="597.6" cy="141" r="2.55" fill="#ffff00"/>
<circle cx="607.5" cy="140.7" r="2.55" fill="#ffff00"/>
<circle cx="616.6" cy="140.2" r="2.55" fill="#ffff00"/>
<circle cx="626.4" cy="139.2" r="2.55" fill="#ffff00"/>
<circle cx="636.3" cy="137.9" r="2.55" fill="#ffff00"/>
<circle cx="645.4" cy="136.1" r="2.55" fill="#ffff00"/>
<circle cx="654.5" cy="133.7" r="2.55" fill="#ffff00"/>
<circle cx="663.6" cy="129.6" r="2.55" fill="#ffff00"/>
<circle cx="671.9" cy="124.3" r="2.55" fill="#ffff00"/>
<circle cx="681" cy="115.9" r="2.55" fill="#ffff00"/>
<circle cx="690.2" cy="104.2" r="2.55" fill="#ffff00"/>
<circle cx="699.5" cy="86.9" r="2.55" fill="#ffff00"/>
<circle cx="709.1" cy="60.8" r="2.55" fill="#ffff00"/>
<circle cx="718.4" cy="25.2" r="2.55" fill="#ffff00"/>
<polygon points="533,145.91 535.99,148.9 533,151.89 530.01,148.9" fill="#008000"/>
<polygon points="560.6,145.91 563.59,148.9 560.6,151.89 557.61,148.9" fill="#008000"/>
<polygon points="570.2,145.31 573.19,148.3 570.2,151.29 567.21,148.3" fill="#008000"/>
<polygon points="579.2,144.31 582.19,147.3 579.2,150.29 576.21,147.3" fill="#008000"/>
<polygon points="588.2,143.71 591.19,146.7 588.2,149.69 585.21,146.7" fill="#008000"/>
<polygon points="597.7,143.01 600.69,146 597.7,148.99 594.71,146" fill="#008000"/>
<polygon points="607.5,142.71 610.49,145.7 607.5,148.69 604.51,145.7" fill="#008000"/>
<polygon points="617.3,142.51 620.29,145.5 617.3,148.49 614.31,145.5" fill="#008000"/>
<polygon points="626.4,142.21 629.39,145.2 626.4,148.19 623.41,145.2" fill="#008000"/>
<polygon points="636,142.01 638.99,145 636,147.99 633.01,145" fill="#008000"/>
<polygon points="645.4,141.81 648.39,144.8 645.4,147.79 642.41,144.8" fill="#008000"/>
<polygon points="654.5,141.31 657.49,144.3 654.5,147.29 651.51,144.3" fill="#008000"/>
<polygon points="663.6,141.01 666.59,144 663.6,146.99 660.61,144" fill="#008000"/>
<polygon points="671.9,140.81 674.89,143.8 671.9,146.79 668.91,143.8" fill="#008000"/>
<polygon points="681.8,140.01 684.79,143 681.8,145.99 678.81,143" fill="#008000"/>
<polygon points="690.9,139.61 693.89,142.6 690.9,145.59 687.91,142.6" fill="#008000"/>
<polygon points="699.3,139.01 702.29,142 699.3,144.99 696.31,142" fill="#008000"/>
<polygon points="709.1,138.81 712.09,141.8 709.1,144.79 706.11,141.8" fill="#008000"/>
<polygon points="719.3,137.71 722.29,140.7 719.3,143.69 716.31,140.7" fill="#008000"/>
<polygon points="524.5,144.97 527.38,139.97 521.62,139.97" fill="none" stroke="#3333ff" stroke-width="0.75"/>
<polygon points="533.5,144.68 536.38,139.68 530.62,139.68" fill="none" stroke="#3333ff" stroke-width="0.75"/>
<polygon points="542.3,144.18 545.17,139.18 539.42,139.18" fill="none" stroke="#3333ff" stroke-width="0.75"/>
<polygon points="551,143.57 553.88,138.57 548.12,138.57" fill="none" stroke="#3333ff" stroke-width="0.75"/>
<polygon points="560.6,143.07 563.48,138.07 557.73,138.07" fill="none" stroke="#3333ff" stroke-width="0.75"/>
<polygon points="569.6,142.18 572.48,137.18 566.73,137.18" fill="none" stroke="#3333ff" stroke-width="0.75"/>
<polygon points="578.5,140.78 581.38,135.78 575.62,135.78" fill="none" stroke="#3333ff" stroke-width="0.75"/>
<polygon points="588.2,139.47 591.08,134.47 585.33,134.47" fill="none" stroke="#3333ff" stroke-width="0.75"/>
<polygon points="597.6,136.97 600.48,131.97 594.73,131.97" fill="none" stroke="#3333ff" stroke-width="0.75"/>
<polygon points="606.7,134.78 609.58,129.78 603.83,129.78" fill="none" stroke="#3333ff" stroke-width="0.75"/>
<polygon points="616.6,131.38 619.48,126.38 613.73,126.38" fill="none" stroke="#3333ff" stroke-width="0.75"/>
<polygon points="625.7,128.97 628.58,123.97 622.83,123.97" fill="none" stroke="#3333ff" stroke-width="0.75"/>
<polygon points="635.5,123.38 638.38,118.38 632.62,118.38" fill="none" stroke="#3333ff" stroke-width="0.75"/>
<polygon points="644.6,114.28 647.48,109.28 641.73,109.28" fill="none" stroke="#3333ff" stroke-width="0.75"/>
<polygon points="654.5,102.88 657.38,97.88 651.62,97.88" fill="none" stroke="#3333ff" stroke-width="0.75"/>
<polygon points="662.5,86.38 665.38,81.38 659.62,81.38" fill="none" stroke="#3333ff" stroke-width="0.75"/>
<polygon points="671.6,64.17 674.48,59.17 668.73,59.17" fill="none" stroke="#3333ff" stroke-width="0.75"/>
<polygon points="681.6,34.77 684.48,29.77 678.73,29.77" fill="none" stroke="#3333ff" stroke-width="0.75"/>
<rect x="522.3" y="136.6" width="4.4" height="4.4" fill="#00ff00"/>
<rect x="530.9" y="134" width="4.4" height="4.4" fill="#00ff00"/>
<rect x="539.9" y="130.8" width="4.4" height="4.4" fill="#00ff00"/>
<rect x="549.2" y="128" width="4.4" height="4.4" fill="#00ff00"/>
<rect x="558.7" y="123.7" width="4.4" height="4.4" fill="#00ff00"/>
<rect x="568.2" y="119.9" width="4.4" height="4.4" fill="#00ff00"/>
<rect x="577.8" y="116.3" width="4.4" height="4.4" fill="#00ff00"/>
<rect x="586.8" y="111.2" width="4.4" height="4.4" fill="#00ff00"/>
<rect x="595.7" y="106.8" width="4.4" height="4.4" fill="#00ff00"/>
<rect x="603.7" y="103.9" width="4.4" height="4.4" fill="#00ff00"/>
<rect x="613.5" y="95.2" width="4.4" height="4.4" fill="#00ff00"/>
<rect x="624.3" y="79.9" width="4.4" height="4.4" fill="#00ff00"/>
<rect x="633.3" y="59.1" width="4.4" height="4.4" fill="#00ff00"/>
<rect x="642.7" y="32.8" width="4.4" height="4.4" fill="#00ff00"/>
<polygon points="524.5,127.72 527.38,132.72 521.62,132.72" fill="none" stroke="#ff3333" stroke-width="0.75"/>
<polygon points="533.1,120.33 535.98,125.33 530.23,125.33" fill="none" stroke="#ff3333" stroke-width="0.75"/>
<polygon points="542.7,111.03 545.58,116.03 539.83,116.03" fill="none" stroke="#ff3333" stroke-width="0.75"/>
<polygon points="552.2,101.53 555.08,106.53 549.33,106.53" fill="none" stroke="#ff3333" stroke-width="0.75"/>
<polygon points="560.4,93.92 563.27,98.92 557.52,98.92" fill="none" stroke="#ff3333" stroke-width="0.75"/>
<polygon points="569.9,84.92 572.77,89.92 567.02,89.92" fill="none" stroke="#ff3333" stroke-width="0.75"/>
<polygon points="579.4,77.53 582.27,82.53 576.52,82.53" fill="none" stroke="#ff3333" stroke-width="0.75"/>
<polygon points="589,70.22 591.88,75.22 586.12,75.22" fill="none" stroke="#ff3333" stroke-width="0.75"/>
<polygon points="597.7,61.22 600.58,66.22 594.83,66.22" fill="none" stroke="#ff3333" stroke-width="0.75"/>
<polygon points="607,37.42 609.88,42.42 604.12,42.42" fill="none" stroke="#ff3333" stroke-width="0.75"/>
<polygon points="615.7,10.22 618.58,15.22 612.83,15.22" fill="none" stroke="#ff3333" stroke-width="0.75"/>
<line x1="515.4" y1="133.5" x2="600.4" y2="58.4" stroke="#000" stroke-width="1.1" />
<line x1="515.4" y1="141.1" x2="605.9" y2="106.1" stroke="#000" stroke-width="1.1" />
<line x1="515.4" y1="143" x2="616.6" y2="129.6" stroke="#000" stroke-width="1.1" />
<line x1="515.4" y1="144.5" x2="626.4" y2="139.8" stroke="#000" stroke-width="1.1" />
<line x1="515.4" y1="145.2" x2="635.5" y2="143.5" stroke="#000" stroke-width="1.1" />
<line x1="515.4" y1="145.8" x2="644.6" y2="145.3" stroke="#000" stroke-width="1.1" />
<line x1="515.4" y1="146.2" x2="653.7" y2="145.8" stroke="#000" stroke-width="1.1" />
<line x1="601.1" y1="13" x2="601.1" y2="55.5" stroke="#999" stroke-width="0.8" />
<polygon points="601.1,57.7 599.9,54.7 602.3,54.7" fill="#111"/>
<line x1="605.9" y1="87" x2="605.9" y2="102.3" stroke="#999" stroke-width="0.8" />
<polygon points="605.9,104.5 604.7,101.5 607.1,101.5" fill="#111"/>
<line x1="616.6" y1="108" x2="616.6" y2="125.3" stroke="#999" stroke-width="0.8" />
<polygon points="616.6,127.5 615.4,124.5 617.8,124.5" fill="#111"/>
<line x1="626.4" y1="114.4" x2="626.4" y2="133.4" stroke="#999" stroke-width="0.8" />
<polygon points="626.4,135.6 625.2,132.6 627.6,132.6" fill="#111"/>
<line x1="637" y1="116.7" x2="637" y2="135.3" stroke="#999" stroke-width="0.8" />
<polygon points="637,137.5 635.8,134.5 638.2,134.5" fill="#111"/>
<line x1="644.9" y1="117.5" x2="644.9" y2="135.3" stroke="#999" stroke-width="0.8" />
<polygon points="644.9,137.5 643.7,134.5 646.1,134.5" fill="#111"/>
<line x1="653.7" y1="119" x2="653.7" y2="138.5" stroke="#999" stroke-width="0.8" />
<polygon points="653.7,140.7 652.5,137.7 654.9,137.7" fill="#111"/>
</g>
<line x1="609.3" y1="23.8" x2="702.86" y2="146.03" stroke="#000" stroke-width="1.15" />
<polygon points="705.6,149.6 701.44,147.12 704.29,144.93" fill="#000"/>
<rect x="515.4" y="6.1" width="208.6" height="153.1" fill="none" stroke="#666666" stroke-width="1.35"/>
<line x1="538.4" y1="159.2" x2="538.4" y2="156.2" stroke="#666666" stroke-width="0.8" />
<line x1="538.4" y1="6.1" x2="538.4" y2="9.1" stroke="#666666" stroke-width="0.8" />
<line x1="594.1" y1="159.2" x2="594.1" y2="156.2" stroke="#666666" stroke-width="0.8" />
<line x1="594.1" y1="6.1" x2="594.1" y2="9.1" stroke="#666666" stroke-width="0.8" />
<line x1="649.8" y1="159.2" x2="649.8" y2="156.2" stroke="#666666" stroke-width="0.8" />
<line x1="649.8" y1="6.1" x2="649.8" y2="9.1" stroke="#666666" stroke-width="0.8" />
<line x1="705.5" y1="159.2" x2="705.5" y2="156.2" stroke="#666666" stroke-width="0.8" />
<line x1="705.5" y1="6.1" x2="705.5" y2="9.1" stroke="#666666" stroke-width="0.8" />
<line x1="566.25" y1="159.2" x2="566.25" y2="157.4" stroke="#666666" stroke-width="0.8" />
<line x1="566.25" y1="6.1" x2="566.25" y2="7.9" stroke="#666666" stroke-width="0.8" />
<line x1="621.95" y1="159.2" x2="621.95" y2="157.4" stroke="#666666" stroke-width="0.8" />
<line x1="621.95" y1="6.1" x2="621.95" y2="7.9" stroke="#666666" stroke-width="0.8" />
<line x1="677.65" y1="159.2" x2="677.65" y2="157.4" stroke="#666666" stroke-width="0.8" />
<line x1="677.65" y1="6.1" x2="677.65" y2="7.9" stroke="#666666" stroke-width="0.8" />
<line x1="515.4" y1="150.2" x2="518.4" y2="150.2" stroke="#666666" stroke-width="0.8" />
<line x1="724" y1="150.2" x2="721" y2="150.2" stroke="#666666" stroke-width="0.8" />
<line x1="515.4" y1="60.1" x2="518.4" y2="60.1" stroke="#666666" stroke-width="0.8" />
<line x1="724" y1="60.1" x2="721" y2="60.1" stroke="#666666" stroke-width="0.8" />
<line x1="515.4" y1="105.15" x2="517.2" y2="105.15" stroke="#666666" stroke-width="0.8" />
<line x1="724" y1="105.15" x2="722.2" y2="105.15" stroke="#666666" stroke-width="0.8" />
<line x1="515.4" y1="15.05" x2="517.2" y2="15.05" stroke="#666666" stroke-width="0.8" />
<line x1="724" y1="15.05" x2="722.2" y2="15.05" stroke="#666666" stroke-width="0.8" />
<text x="538.4" y="167.3" font-size="7.4" fill="#222" stroke="#222" stroke-width="0.2" font-family="Liberation Sans, sans-serif" text-anchor="middle" >24</text>
<text x="594.1" y="167.3" font-size="7.4" fill="#222" stroke="#222" stroke-width="0.2" font-family="Liberation Sans, sans-serif" text-anchor="middle" >26</text>
<text x="649.8" y="167.3" font-size="7.4" fill="#222" stroke="#222" stroke-width="0.2" font-family="Liberation Sans, sans-serif" text-anchor="middle" >28</text>
<text x="705.5" y="167.3" font-size="7.4" fill="#222" stroke="#222" stroke-width="0.2" font-family="Liberation Sans, sans-serif" text-anchor="middle" >30</text>
<text x="512" y="152.8" font-size="7.4" fill="#222" stroke="#222" stroke-width="0.2" font-family="Liberation Sans, sans-serif" text-anchor="end" >0</text>
<text x="512" y="62.7" font-size="7.4" fill="#222" stroke="#222" stroke-width="0.2" font-family="Liberation Sans, sans-serif" text-anchor="end" >5</text>
<text x="620.8" y="178.2" font-size="10.5" fill="#111" stroke="#111" stroke-width="0.28" font-family="Liberation Sans, sans-serif" text-anchor="middle" >T</text>
<text x="0" y="0" font-size="12.2" fill="#111" stroke="#111" stroke-width="0.28" font-family="Liberation Sans, sans-serif" text-anchor="middle" transform="translate(507.2,91.5) rotate(-90)">dT/d(ln&#961;)</text>
<text x="524.2" y="23.3" font-size="13.3" fill="#000" stroke="#000" stroke-width="0.28" font-family="Liberation Sans, sans-serif" text-anchor="start" >(c)</text>
<text x="532.9" y="62.1" font-size="13.4" fill="#000" stroke="#000" stroke-width="0.28" font-family="Liberation Sans, sans-serif" text-anchor="start" >H//ab</text>
<text x="586.3" y="35.5" font-size="11.4" fill="#000" stroke="#000" stroke-width="0.28" font-family="Liberation Sans, sans-serif" text-anchor="start" >T*</text>
<text x="614" y="34.3" font-size="10.9" fill="#000" stroke="#000" stroke-width="0.28" font-family="Liberation Sans, sans-serif" text-anchor="start" >14T</text>
<text x="687.3" y="156.4" font-size="12" fill="#000" stroke="#000" stroke-width="0.28" font-family="Liberation Sans, sans-serif" text-anchor="start" >2T</text>
<clipPath id="cd"><rect x="26.4" y="182.3" width="196.79999999999998" height="158.0"/></clipPath>
<g clip-path="url(#cd)">
<polyline points="90,226.8 90.62,226.92 91.44,227.08 92.41,227.26 93.5,227.46 94.65,227.69 95.81,227.94 96.95,228.21 98,228.5 99,228.8 100,229.13 101,229.47 102,229.84 103,230.22 104.03,230.63 105.07,231.05 106.13,231.5 107.22,231.97 108.33,232.47 109.45,233 110.57,233.54 111.68,234.1 112.77,234.67 113.84,235.23 114.86,235.8 115.83,236.36 116.75,236.92 117.63,237.48 118.49,238.04 119.33,238.62 120.15,239.22 120.97,239.85 121.79,240.5 122.63,241.2 123.49,241.97 124.35,242.76 125.18,243.57 125.97,244.38 126.71,245.15 127.37,245.86 127.96,246.5 128.41,247 128.73,247.36 128.98,247.64 129.21,247.91 129.48,248.21 129.84,248.62 130.35,249.2 131.07,250 132,251.03 133.08,252.22 134.29,253.55 135.6,255 137,256.54 138.46,258.16 139.96,259.82 141.49,261.5 143.06,263.24 144.71,265.06 146.43,266.95 148.2,268.91 150,270.9 151.84,272.93 153.68,274.96 155.53,277 157.4,279.07 159.33,281.19 161.28,283.35 163.26,285.53 165.23,287.71 167.17,289.86 169.08,291.96 170.93,294 172.72,295.98 174.47,297.91 176.2,299.82 177.89,301.69 179.57,303.54 181.23,305.37 182.87,307.19 184.52,309 186.23,310.89 188.05,312.9 189.9,314.94 191.71,316.94 193.41,318.82 194.94,320.51 196.23,321.93 197.2,323" fill="none" stroke="#ffff00" stroke-width="0.5" stroke-linejoin="round" stroke-linecap="round" />
<circle cx="90" cy="226.8" r="1.1" fill="#ffff00"/>
<circle cx="93.83" cy="227.53" r="1.1" fill="#ffff00"/>
<circle cx="97.63" cy="228.4" r="1.1" fill="#ffff00"/>
<circle cx="101.34" cy="229.6" r="1.1" fill="#ffff00"/>
<circle cx="104.98" cy="231.01" r="1.1" fill="#ffff00"/>
<circle cx="108.55" cy="232.58" r="1.1" fill="#ffff00"/>
<circle cx="112.05" cy="234.29" r="1.1" fill="#ffff00"/>
<circle cx="115.48" cy="236.16" r="1.1" fill="#ffff00"/>
<circle cx="118.77" cy="238.24" r="1.1" fill="#ffff00"/>
<circle cx="121.89" cy="240.58" r="1.1" fill="#ffff00"/>
<circle cx="124.79" cy="243.19" r="1.1" fill="#ffff00"/>
<circle cx="127.5" cy="245.99" r="1.1" fill="#ffff00"/>
<circle cx="130.09" cy="248.9" r="1.1" fill="#ffff00"/>
<circle cx="132.7" cy="251.8" r="1.1" fill="#ffff00"/>
<circle cx="135.32" cy="254.69" r="1.1" fill="#ffff00"/>
<circle cx="137.94" cy="257.58" r="1.1" fill="#ffff00"/>
<circle cx="140.56" cy="260.47" r="1.1" fill="#ffff00"/>
<circle cx="143.18" cy="263.36" r="1.1" fill="#ffff00"/>
<circle cx="145.79" cy="266.25" r="1.1" fill="#ffff00"/>
<circle cx="148.41" cy="269.14" r="1.1" fill="#ffff00"/>
<circle cx="151.03" cy="272.03" r="1.1" fill="#ffff00"/>
<circle cx="153.65" cy="274.93" r="1.1" fill="#ffff00"/>
<circle cx="156.27" cy="277.82" r="1.1" fill="#ffff00"/>
<circle cx="158.89" cy="280.71" r="1.1" fill="#ffff00"/>
<circle cx="161.5" cy="283.6" r="1.1" fill="#ffff00"/>
<circle cx="164.12" cy="286.49" r="1.1" fill="#ffff00"/>
<circle cx="166.74" cy="289.38" r="1.1" fill="#ffff00"/>
<circle cx="169.36" cy="292.27" r="1.1" fill="#ffff00"/>
<circle cx="171.98" cy="295.16" r="1.1" fill="#ffff00"/>
<circle cx="174.6" cy="298.05" r="1.1" fill="#ffff00"/>
<circle cx="177.21" cy="300.94" r="1.1" fill="#ffff00"/>
<circle cx="179.83" cy="303.83" r="1.1" fill="#ffff00"/>
<circle cx="182.45" cy="306.72" r="1.1" fill="#ffff00"/>
<circle cx="185.07" cy="309.61" r="1.1" fill="#ffff00"/>
<circle cx="187.69" cy="312.5" r="1.1" fill="#ffff00"/>
<circle cx="190.31" cy="315.39" r="1.1" fill="#ffff00"/>
<circle cx="192.92" cy="318.28" r="1.1" fill="#ffff00"/>
<circle cx="195.54" cy="321.17" r="1.1" fill="#ffff00"/>
<polyline points="88,226.8 88.55,226.96 89.3,227.17 90.2,227.42 91.19,227.71 92.21,228.01 93.23,228.31 94.17,228.61 95,228.9 95.72,229.17 96.39,229.44 97.01,229.72 97.61,229.99 98.2,230.28 98.81,230.57 99.44,230.88 100.11,231.2 100.79,231.52 101.46,231.82 102.13,232.12 102.82,232.44 103.54,232.8 104.31,233.19 105.16,233.66 106.1,234.2 107.14,234.83 108.28,235.53 109.48,236.29 110.73,237.11 112,237.96 113.28,238.83 114.54,239.71 115.75,240.6 116.95,241.51 118.14,242.46 119.32,243.44 120.45,244.44 121.52,245.44 122.53,246.42 123.45,247.38 124.29,248.3 125.06,249.2 125.79,250.1 126.5,251 127.2,251.87 127.87,252.71 128.5,253.5 129.08,254.24 129.61,254.9 130.02,255.41 130.29,255.75 130.47,255.98 130.64,256.19 130.85,256.45 131.16,256.84 131.63,257.43 132.32,258.3 133.24,259.44 134.3,260.79 135.51,262.3 136.83,263.96 138.25,265.73 139.73,267.6 141.27,269.53 142.84,271.5 144.49,273.57 146.27,275.8 148.13,278.14 150.05,280.54 151.99,282.98 153.91,285.39 155.79,287.75 157.59,290 159.3,292.15 160.96,294.23 162.58,296.27 164.19,298.29 165.79,300.3 167.41,302.32 169.05,304.38 170.74,306.5 172.56,308.79 174.56,311.3 176.63,313.9 178.69,316.48 180.65,318.94 182.41,321.15 183.89,323.01 185,324.4" fill="none" stroke="#ff00ff" stroke-width="0.5" stroke-linejoin="round" stroke-linecap="round" />
<circle cx="88" cy="226.8" r="1.1" fill="#ff00ff"/>
<circle cx="91.75" cy="227.87" r="1.1" fill="#ff00ff"/>
<circle cx="95.46" cy="229.07" r="1.1" fill="#ff00ff"/>
<circle cx="99.02" cy="230.67" r="1.1" fill="#ff00ff"/>
<circle cx="102.55" cy="232.32" r="1.1" fill="#ff00ff"/>
<circle cx="106" cy="234.14" r="1.1" fill="#ff00ff"/>
<circle cx="109.31" cy="236.19" r="1.1" fill="#ff00ff"/>
<circle cx="112.57" cy="238.34" r="1.1" fill="#ff00ff"/>
<circle cx="115.75" cy="240.6" r="1.1" fill="#ff00ff"/>
<circle cx="118.81" cy="243.02" r="1.1" fill="#ff00ff"/>
<circle cx="121.71" cy="245.62" r="1.1" fill="#ff00ff"/>
<circle cx="124.4" cy="248.44" r="1.1" fill="#ff00ff"/>
<circle cx="126.87" cy="251.46" r="1.1" fill="#ff00ff"/>
<circle cx="129.3" cy="254.51" r="1.1" fill="#ff00ff"/>
<circle cx="131.73" cy="257.56" r="1.1" fill="#ff00ff"/>
<circle cx="134.16" cy="260.61" r="1.1" fill="#ff00ff"/>
<circle cx="136.59" cy="263.66" r="1.1" fill="#ff00ff"/>
<circle cx="139.02" cy="266.71" r="1.1" fill="#ff00ff"/>
<circle cx="141.45" cy="269.76" r="1.1" fill="#ff00ff"/>
<circle cx="143.88" cy="272.81" r="1.1" fill="#ff00ff"/>
<circle cx="146.31" cy="275.86" r="1.1" fill="#ff00ff"/>
<circle cx="148.75" cy="278.91" r="1.1" fill="#ff00ff"/>
<circle cx="151.18" cy="281.96" r="1.1" fill="#ff00ff"/>
<circle cx="153.61" cy="285.01" r="1.1" fill="#ff00ff"/>
<circle cx="156.04" cy="288.06" r="1.1" fill="#ff00ff"/>
<circle cx="158.47" cy="291.11" r="1.1" fill="#ff00ff"/>
<circle cx="160.9" cy="294.16" r="1.1" fill="#ff00ff"/>
<circle cx="163.33" cy="297.21" r="1.1" fill="#ff00ff"/>
<circle cx="165.76" cy="300.26" r="1.1" fill="#ff00ff"/>
<circle cx="168.19" cy="303.31" r="1.1" fill="#ff00ff"/>
<circle cx="170.62" cy="306.36" r="1.1" fill="#ff00ff"/>
<circle cx="173.05" cy="309.41" r="1.1" fill="#ff00ff"/>
<circle cx="175.48" cy="312.46" r="1.1" fill="#ff00ff"/>
<circle cx="177.91" cy="315.51" r="1.1" fill="#ff00ff"/>
<circle cx="180.34" cy="318.56" r="1.1" fill="#ff00ff"/>
<circle cx="182.77" cy="321.61" r="1.1" fill="#ff00ff"/>
<polyline points="86,226.8 86.39,226.92 86.91,227.07 87.54,227.26 88.23,227.46 88.96,227.69 89.68,227.92 90.37,228.16 91,228.4 91.58,228.64 92.15,228.9 92.71,229.17 93.26,229.45 93.79,229.73 94.31,230.02 94.82,230.31 95.33,230.6 95.81,230.88 96.27,231.16 96.71,231.45 97.15,231.73 97.6,232.03 98.07,232.33 98.58,232.66 99.13,233 99.73,233.36 100.35,233.74 101,234.13 101.67,234.53 102.36,234.95 103.09,235.38 103.83,235.83 104.6,236.3 105.42,236.79 106.27,237.31 107.14,237.86 108.02,238.41 108.89,238.97 109.73,239.53 110.53,240.07 111.28,240.6 111.97,241.1 112.62,241.59 113.23,242.07 113.82,242.54 114.4,243.01 114.96,243.49 115.53,243.99 116.09,244.5 116.65,245.03 117.19,245.56 117.73,246.1 118.25,246.65 118.76,247.21 119.27,247.79 119.77,248.39 120.27,249 120.77,249.64 121.27,250.29 121.77,250.97 122.26,251.66 122.75,252.36 123.25,253.07 123.76,253.78 124.26,254.5 124.75,255.2 125.22,255.86 125.68,256.52 126.15,257.19 126.65,257.9 127.2,258.67 127.8,259.53 128.48,260.5 129.24,261.58 130.07,262.76 130.96,264.02 131.89,265.34 132.85,266.72 133.85,268.13 134.85,269.56 135.86,271 136.89,272.46 137.94,273.95 139.01,275.48 140.11,277.03 141.22,278.61 142.35,280.22 143.5,281.85 144.65,283.5 145.85,285.2 147.08,286.95 148.35,288.75 149.62,290.56 150.89,292.37 152.14,294.14 153.35,295.86 154.5,297.5 155.57,299.02 156.56,300.43 157.5,301.76 158.42,303.07 159.36,304.41 160.34,305.81 161.41,307.33 162.59,309 163.97,310.96 165.55,313.22 167.26,315.65 169,318.12 170.67,320.5 172.19,322.66 173.46,324.47 174.4,325.8" fill="none" stroke="#00ffff" stroke-width="0.5" stroke-linejoin="round" stroke-linecap="round" />
<circle cx="86" cy="226.8" r="1.1" fill="#00ffff"/>
<circle cx="89.73" cy="227.94" r="1.1" fill="#00ffff"/>
<circle cx="93.31" cy="229.48" r="1.1" fill="#00ffff"/>
<circle cx="96.68" cy="231.43" r="1.1" fill="#00ffff"/>
<circle cx="99.98" cy="233.51" r="1.1" fill="#00ffff"/>
<circle cx="103.32" cy="235.53" r="1.1" fill="#00ffff"/>
<circle cx="106.65" cy="237.55" r="1.1" fill="#00ffff"/>
<circle cx="109.93" cy="239.66" r="1.1" fill="#00ffff"/>
<circle cx="113.09" cy="241.95" r="1.1" fill="#00ffff"/>
<circle cx="116.06" cy="244.47" r="1.1" fill="#00ffff"/>
<circle cx="118.8" cy="247.25" r="1.1" fill="#00ffff"/>
<circle cx="121.26" cy="250.28" r="1.1" fill="#00ffff"/>
<circle cx="123.52" cy="253.45" r="1.1" fill="#00ffff"/>
<circle cx="125.77" cy="256.64" r="1.1" fill="#00ffff"/>
<circle cx="128.01" cy="259.83" r="1.1" fill="#00ffff"/>
<circle cx="130.25" cy="263.02" r="1.1" fill="#00ffff"/>
<circle cx="132.5" cy="266.21" r="1.1" fill="#00ffff"/>
<circle cx="134.74" cy="269.4" r="1.1" fill="#00ffff"/>
<circle cx="136.98" cy="272.59" r="1.1" fill="#00ffff"/>
<circle cx="139.23" cy="275.78" r="1.1" fill="#00ffff"/>
<circle cx="141.47" cy="278.97" r="1.1" fill="#00ffff"/>
<circle cx="143.71" cy="282.16" r="1.1" fill="#00ffff"/>
<circle cx="145.96" cy="285.35" r="1.1" fill="#00ffff"/>
<circle cx="148.2" cy="288.54" r="1.1" fill="#00ffff"/>
<circle cx="150.44" cy="291.73" r="1.1" fill="#00ffff"/>
<circle cx="152.69" cy="294.92" r="1.1" fill="#00ffff"/>
<circle cx="154.93" cy="298.11" r="1.1" fill="#00ffff"/>
<circle cx="157.17" cy="301.3" r="1.1" fill="#00ffff"/>
<circle cx="159.42" cy="304.49" r="1.1" fill="#00ffff"/>
<circle cx="161.66" cy="307.68" r="1.1" fill="#00ffff"/>
<circle cx="163.9" cy="310.87" r="1.1" fill="#00ffff"/>
<circle cx="166.15" cy="314.06" r="1.1" fill="#00ffff"/>
<circle cx="168.39" cy="317.25" r="1.1" fill="#00ffff"/>
<circle cx="170.63" cy="320.44" r="1.1" fill="#00ffff"/>
<circle cx="172.88" cy="323.63" r="1.1" fill="#00ffff"/>
<polyline points="82,226.8 82.36,226.9 82.86,227.04 83.45,227.2 84.09,227.38 84.77,227.57 85.43,227.78 86.06,227.99 86.6,228.2 87.07,228.42 87.5,228.64 87.91,228.87 88.3,229.11 88.68,229.37 89.07,229.63 89.47,229.91 89.9,230.2 90.35,230.51 90.81,230.83 91.29,231.17 91.77,231.52 92.25,231.88 92.74,232.25 93.24,232.62 93.76,233 94.28,233.39 94.82,233.79 95.38,234.2 95.95,234.62 96.53,235.04 97.12,235.46 97.71,235.88 98.31,236.3 98.9,236.71 99.48,237.11 100.06,237.52 100.65,237.92 101.24,238.33 101.83,238.74 102.44,239.16 103.06,239.6 103.7,240.05 104.36,240.52 105.03,241 105.69,241.48 106.36,241.97 107.01,242.45 107.64,242.93 108.25,243.4 108.84,243.86 109.39,244.3 109.93,244.74 110.46,245.18 110.99,245.61 111.51,246.06 112.04,246.52 112.58,247 113.13,247.49 113.67,247.99 114.21,248.5 114.75,249.02 115.29,249.55 115.82,250.09 116.34,250.64 116.87,251.2 117.37,251.76 117.87,252.32 118.35,252.88 118.82,253.46 119.29,254.05 119.77,254.67 120.24,255.31 120.73,256 121.22,256.73 121.72,257.49 122.22,258.29 122.73,259.11 123.26,259.95 123.78,260.8 124.31,261.65 124.84,262.5 125.36,263.34 125.89,264.19 126.42,265.04 126.95,265.9 127.49,266.77 128.05,267.66 128.61,268.57 129.19,269.5 129.77,270.44 130.35,271.37 130.94,272.31 131.53,273.27 132.15,274.27 132.8,275.32 133.49,276.42 134.22,277.6 135,278.85 135.82,280.17 136.67,281.55 137.56,282.97 138.47,284.43 139.4,285.93 140.35,287.46 141.31,289 142.29,290.59 143.31,292.23 144.36,293.92 145.43,295.64 146.5,297.36 147.57,299.07 148.61,300.76 149.63,302.4 150.65,304.04 151.7,305.72 152.74,307.4 153.77,309.06 154.77,310.66 155.71,312.17 156.57,313.56 157.34,314.8 158,315.87 158.57,316.79 159.07,317.59 159.51,318.3 159.92,318.95 160.3,319.56 160.67,320.17 161.07,320.8 161.47,321.46 161.88,322.12 162.28,322.76 162.67,323.37 163.02,323.94 163.33,324.45 163.6,324.87 163.8,325.2" fill="none" stroke="#0000ff" stroke-width="0.5" stroke-linejoin="round" stroke-linecap="round" />
<circle cx="82" cy="226.8" r="1.1" fill="#0000ff"/>
<circle cx="85.75" cy="227.88" r="1.1" fill="#0000ff"/>
<circle cx="89.18" cy="229.7" r="1.1" fill="#0000ff"/>
<circle cx="92.36" cy="231.96" r="1.1" fill="#0000ff"/>
<circle cx="95.49" cy="234.28" r="1.1" fill="#0000ff"/>
<circle cx="98.66" cy="236.55" r="1.1" fill="#0000ff"/>
<circle cx="101.87" cy="238.77" r="1.1" fill="#0000ff"/>
<circle cx="105.06" cy="241.02" r="1.1" fill="#0000ff"/>
<circle cx="108.18" cy="243.35" r="1.1" fill="#0000ff"/>
<circle cx="111.21" cy="245.8" r="1.1" fill="#0000ff"/>
<circle cx="114.11" cy="248.41" r="1.1" fill="#0000ff"/>
<circle cx="116.85" cy="251.19" r="1.1" fill="#0000ff"/>
<circle cx="119.38" cy="254.16" r="1.1" fill="#0000ff"/>
<circle cx="121.62" cy="257.34" r="1.1" fill="#0000ff"/>
<circle cx="123.69" cy="260.65" r="1.1" fill="#0000ff"/>
<circle cx="125.75" cy="263.96" r="1.1" fill="#0000ff"/>
<circle cx="127.81" cy="267.28" r="1.1" fill="#0000ff"/>
<circle cx="129.86" cy="270.59" r="1.1" fill="#0000ff"/>
<circle cx="131.92" cy="273.9" r="1.1" fill="#0000ff"/>
<circle cx="133.98" cy="277.21" r="1.1" fill="#0000ff"/>
<circle cx="136.04" cy="280.53" r="1.1" fill="#0000ff"/>
<circle cx="138.1" cy="283.84" r="1.1" fill="#0000ff"/>
<circle cx="140.16" cy="287.15" r="1.1" fill="#0000ff"/>
<circle cx="142.22" cy="290.46" r="1.1" fill="#0000ff"/>
<circle cx="144.27" cy="293.78" r="1.1" fill="#0000ff"/>
<circle cx="146.33" cy="297.09" r="1.1" fill="#0000ff"/>
<circle cx="148.39" cy="300.4" r="1.1" fill="#0000ff"/>
<circle cx="150.45" cy="303.71" r="1.1" fill="#0000ff"/>
<circle cx="152.51" cy="307.03" r="1.1" fill="#0000ff"/>
<circle cx="154.57" cy="310.34" r="1.1" fill="#0000ff"/>
<circle cx="156.62" cy="313.65" r="1.1" fill="#0000ff"/>
<circle cx="158.68" cy="316.96" r="1.1" fill="#0000ff"/>
<circle cx="160.74" cy="320.28" r="1.1" fill="#0000ff"/>
<circle cx="162.8" cy="323.59" r="1.1" fill="#0000ff"/>
<polyline points="78,226.8 78.32,226.91 78.76,227.04 79.27,227.2 79.84,227.39 80.45,227.58 81.06,227.79 81.65,228 82.2,228.2 82.72,228.4 83.24,228.59 83.76,228.79 84.28,229 84.8,229.22 85.31,229.46 85.81,229.71 86.3,230 86.78,230.31 87.25,230.65 87.72,231.02 88.17,231.39 88.63,231.79 89.09,232.19 89.56,232.59 90.04,233 90.55,233.41 91.06,233.83 91.58,234.25 92.12,234.68 92.67,235.12 93.23,235.57 93.8,236.03 94.39,236.5 94.99,236.99 95.61,237.49 96.24,238 96.88,238.52 97.53,239.05 98.17,239.57 98.81,240.09 99.43,240.6 100.04,241.1 100.63,241.58 101.22,242.06 101.79,242.54 102.37,243.02 102.94,243.51 103.51,244 104.09,244.5 104.66,245.01 105.24,245.53 105.81,246.05 106.37,246.58 106.93,247.1 107.48,247.64 108.03,248.17 108.57,248.7 109.07,249.21 109.54,249.69 109.99,250.16 110.44,250.64 110.9,251.15 111.39,251.7 111.91,252.31 112.49,253 113.11,253.78 113.77,254.64 114.44,255.56 115.1,256.52 115.74,257.51 116.36,258.51 116.95,259.52 117.5,260.5 118.01,261.47 118.52,262.44 119.03,263.42 119.54,264.4 120.06,265.4 120.58,266.41 121.12,267.44 121.67,268.5 122.22,269.57 122.78,270.64 123.35,271.73 123.92,272.84 124.51,273.97 125.12,275.14 125.74,276.34 126.4,277.6 127.07,278.9 127.77,280.24 128.48,281.62 129.22,283.03 129.97,284.48 130.74,285.96 131.52,287.46 132.32,289 133.15,290.59 134.01,292.26 134.9,293.97 135.8,295.7 136.7,297.43 137.59,299.14 138.45,300.81 139.28,302.4 140.07,303.91 140.82,305.36 141.55,306.76 142.26,308.14 142.98,309.52 143.7,310.91 144.44,312.33 145.2,313.8 146.04,315.41 146.96,317.18 147.92,319.03 148.87,320.86 149.78,322.61 150.6,324.19 151.29,325.51 151.8,326.5" fill="none" stroke="#00ff00" stroke-width="0.5" stroke-linejoin="round" stroke-linecap="round" />
<circle cx="78" cy="226.8" r="1.1" fill="#00ff00"/>
<circle cx="81.71" cy="228.02" r="1.1" fill="#00ff00"/>
<circle cx="85.32" cy="229.47" r="1.1" fill="#00ff00"/>
<circle cx="88.52" cy="231.69" r="1.1" fill="#00ff00"/>
<circle cx="91.51" cy="234.19" r="1.1" fill="#00ff00"/>
<circle cx="94.55" cy="236.63" r="1.1" fill="#00ff00"/>
<circle cx="97.58" cy="239.09" r="1.1" fill="#00ff00"/>
<circle cx="100.6" cy="241.55" r="1.1" fill="#00ff00"/>
<circle cx="103.58" cy="244.06" r="1.1" fill="#00ff00"/>
<circle cx="106.48" cy="246.68" r="1.1" fill="#00ff00"/>
<circle cx="109.26" cy="249.41" r="1.1" fill="#00ff00"/>
<circle cx="111.89" cy="252.28" r="1.1" fill="#00ff00"/>
<circle cx="114.29" cy="255.36" r="1.1" fill="#00ff00"/>
<circle cx="116.42" cy="258.62" r="1.1" fill="#00ff00"/>
<circle cx="118.31" cy="262.03" r="1.1" fill="#00ff00"/>
<circle cx="120.11" cy="265.49" r="1.1" fill="#00ff00"/>
<circle cx="121.91" cy="268.96" r="1.1" fill="#00ff00"/>
<circle cx="123.7" cy="272.42" r="1.1" fill="#00ff00"/>
<circle cx="125.5" cy="275.88" r="1.1" fill="#00ff00"/>
<circle cx="127.3" cy="279.34" r="1.1" fill="#00ff00"/>
<circle cx="129.1" cy="282.8" r="1.1" fill="#00ff00"/>
<circle cx="130.9" cy="286.26" r="1.1" fill="#00ff00"/>
<circle cx="132.69" cy="289.72" r="1.1" fill="#00ff00"/>
<circle cx="134.49" cy="293.18" r="1.1" fill="#00ff00"/>
<circle cx="136.29" cy="296.64" r="1.1" fill="#00ff00"/>
<circle cx="138.09" cy="300.1" r="1.1" fill="#00ff00"/>
<circle cx="139.89" cy="303.56" r="1.1" fill="#00ff00"/>
<circle cx="141.68" cy="307.03" r="1.1" fill="#00ff00"/>
<circle cx="143.48" cy="310.49" r="1.1" fill="#00ff00"/>
<circle cx="145.28" cy="313.95" r="1.1" fill="#00ff00"/>
<circle cx="147.08" cy="317.41" r="1.1" fill="#00ff00"/>
<circle cx="148.87" cy="320.87" r="1.1" fill="#00ff00"/>
<circle cx="150.67" cy="324.33" r="1.1" fill="#00ff00"/>
<polyline points="75,226.8 75.35,226.97 75.82,227.2 76.39,227.48 77.01,227.78 77.67,228.1 78.32,228.42 78.94,228.72 79.5,229 80.01,229.25 80.51,229.48 81,229.7 81.48,229.93 81.94,230.15 82.4,230.38 82.85,230.63 83.3,230.9 83.74,231.18 84.16,231.48 84.57,231.78 84.98,232.09 85.38,232.41 85.79,232.76 86.19,233.12 86.6,233.5 87.01,233.91 87.42,234.35 87.83,234.82 88.24,235.29 88.65,235.78 89.06,236.26 89.48,236.74 89.9,237.2 90.33,237.64 90.76,238.07 91.19,238.5 91.63,238.93 92.07,239.35 92.51,239.79 92.96,240.24 93.4,240.7 93.85,241.18 94.3,241.68 94.75,242.18 95.2,242.69 95.65,243.21 96.1,243.74 96.55,244.27 97,244.8 97.44,245.33 97.88,245.87 98.33,246.42 98.77,246.97 99.21,247.52 99.66,248.08 100.1,248.64 100.55,249.2 100.99,249.74 101.39,250.26 101.79,250.77 102.2,251.29 102.62,251.84 103.08,252.43 103.59,253.08 104.16,253.8 104.81,254.61 105.52,255.5 106.28,256.45 107.07,257.44 107.87,258.45 108.68,259.48 109.46,260.5 110.22,261.5 110.96,262.48 111.7,263.48 112.44,264.47 113.16,265.48 113.87,266.48 114.57,267.49 115.23,268.49 115.87,269.5 116.49,270.5 117.09,271.49 117.66,272.47 118.22,273.46 118.77,274.46 119.29,275.47 119.8,276.52 120.3,277.6 120.78,278.71 121.24,279.85 121.69,281.02 122.13,282.2 122.58,283.4 123.02,284.62 123.47,285.86 123.94,287.1 124.42,288.36 124.9,289.65 125.39,290.96 125.89,292.29 126.39,293.62 126.9,294.95 127.4,296.28 127.91,297.6 128.42,298.9 128.93,300.19 129.43,301.48 129.93,302.77 130.44,304.07 130.96,305.38 131.48,306.73 132.02,308.1 132.6,309.59 133.24,311.24 133.9,312.95 134.57,314.66 135.2,316.28 135.77,317.75 136.24,318.98 136.6,319.9" fill="none" stroke="#ff0000" stroke-width="0.5" stroke-linejoin="round" stroke-linecap="round" />
<circle cx="75" cy="226.8" r="1.1" fill="#ff0000"/>
<circle cx="78.5" cy="228.51" r="1.1" fill="#ff0000"/>
<circle cx="82.02" cy="230.19" r="1.1" fill="#ff0000"/>
<circle cx="85.28" cy="232.33" r="1.1" fill="#ff0000"/>
<circle cx="88.04" cy="235.07" r="1.1" fill="#ff0000"/>
<circle cx="90.65" cy="237.97" r="1.1" fill="#ff0000"/>
<circle cx="93.41" cy="240.72" r="1.1" fill="#ff0000"/>
<circle cx="96.01" cy="243.63" r="1.1" fill="#ff0000"/>
<circle cx="98.5" cy="246.63" r="1.1" fill="#ff0000"/>
<circle cx="100.93" cy="249.68" r="1.1" fill="#ff0000"/>
<circle cx="103.33" cy="252.75" r="1.1" fill="#ff0000"/>
<circle cx="105.76" cy="255.8" r="1.1" fill="#ff0000"/>
<circle cx="108.19" cy="258.86" r="1.1" fill="#ff0000"/>
<circle cx="110.56" cy="261.95" r="1.1" fill="#ff0000"/>
<circle cx="112.88" cy="265.09" r="1.1" fill="#ff0000"/>
<circle cx="115.1" cy="268.29" r="1.1" fill="#ff0000"/>
<circle cx="117.16" cy="271.61" r="1.1" fill="#ff0000"/>
<circle cx="119.05" cy="275.01" r="1.1" fill="#ff0000"/>
<circle cx="120.71" cy="278.54" r="1.1" fill="#ff0000"/>
<circle cx="122.12" cy="282.18" r="1.1" fill="#ff0000"/>
<circle cx="123.47" cy="285.84" r="1.1" fill="#ff0000"/>
<circle cx="124.84" cy="289.49" r="1.1" fill="#ff0000"/>
<circle cx="126.21" cy="293.14" r="1.1" fill="#ff0000"/>
<circle cx="127.6" cy="296.78" r="1.1" fill="#ff0000"/>
<circle cx="129.01" cy="300.42" r="1.1" fill="#ff0000"/>
<circle cx="130.44" cy="304.05" r="1.1" fill="#ff0000"/>
<circle cx="131.85" cy="307.68" r="1.1" fill="#ff0000"/>
<circle cx="133.27" cy="311.32" r="1.1" fill="#ff0000"/>
<circle cx="134.68" cy="314.95" r="1.1" fill="#ff0000"/>
<circle cx="136.09" cy="318.59" r="1.1" fill="#ff0000"/>
<polyline points="71,226.8 71.23,226.91 71.54,227.06 71.91,227.23 72.33,227.43 72.76,227.63 73.19,227.85 73.61,228.08 74,228.3 74.36,228.52 74.7,228.75 75.04,228.98 75.38,229.22 75.72,229.47 76.07,229.73 76.43,230.01 76.8,230.3 77.19,230.6 77.59,230.91 78,231.23 78.41,231.56 78.83,231.9 79.26,232.28 79.68,232.67 80.1,233.1 80.52,233.57 80.94,234.07 81.36,234.6 81.78,235.15 82.21,235.71 82.63,236.28 83.06,236.85 83.5,237.4 83.94,237.94 84.39,238.48 84.85,239.02 85.31,239.56 85.76,240.11 86.22,240.66 86.66,241.23 87.1,241.8 87.53,242.39 87.95,243 88.36,243.63 88.77,244.26 89.18,244.88 89.58,245.51 89.99,246.11 90.4,246.7 90.81,247.26 91.21,247.8 91.62,248.33 92.02,248.84 92.43,249.36 92.84,249.89 93.26,250.43 93.7,251 94.16,251.59 94.62,252.19 95.09,252.8 95.57,253.43 96.07,254.06 96.58,254.7 97.1,255.35 97.63,256 98.19,256.66 98.75,257.33 99.33,258 99.91,258.69 100.51,259.38 101.12,260.08 101.73,260.79 102.34,261.5 102.97,262.22 103.6,262.95 104.25,263.69 104.89,264.44 105.54,265.19 106.18,265.95 106.82,266.72 107.45,267.5 108.08,268.28 108.7,269.07 109.31,269.86 109.92,270.66 110.52,271.47 111.13,272.3 111.73,273.14 112.32,274 112.93,274.88 113.54,275.78 114.16,276.7 114.77,277.63 115.36,278.57 115.93,279.51 116.47,280.46 116.97,281.4 117.43,282.34 117.87,283.28 118.28,284.23 118.67,285.18 119.05,286.13 119.43,287.09 119.8,288.04 120.18,289 120.57,289.96 120.95,290.92 121.32,291.88 121.69,292.85 122.06,293.82 122.43,294.78 122.79,295.74 123.15,296.7 123.5,297.61 123.82,298.45 124.14,299.26 124.46,300.09 124.79,300.96 125.14,301.93 125.52,303.03 125.95,304.3 126.46,305.86 127.06,307.74 127.72,309.8 128.39,311.93 129.05,313.99 129.64,315.87 130.14,317.45 130.5,318.6" fill="none" stroke="#808080" stroke-width="0.5" stroke-linejoin="round" stroke-linecap="round" />
<circle cx="71" cy="226.8" r="1.1" fill="#808080"/>
<circle cx="74.46" cy="228.59" r="1.1" fill="#808080"/>
<circle cx="77.59" cy="230.91" r="1.1" fill="#808080"/>
<circle cx="80.48" cy="233.52" r="1.1" fill="#808080"/>
<circle cx="82.88" cy="236.6" r="1.1" fill="#808080"/>
<circle cx="85.35" cy="239.61" r="1.1" fill="#808080"/>
<circle cx="87.74" cy="242.7" r="1.1" fill="#808080"/>
<circle cx="89.88" cy="245.95" r="1.1" fill="#808080"/>
<circle cx="92.21" cy="249.08" r="1.1" fill="#808080"/>
<circle cx="94.6" cy="252.16" r="1.1" fill="#808080"/>
<circle cx="97.01" cy="255.23" r="1.1" fill="#808080"/>
<circle cx="99.51" cy="258.22" r="1.1" fill="#808080"/>
<circle cx="102.06" cy="261.17" r="1.1" fill="#808080"/>
<circle cx="104.62" cy="264.12" r="1.1" fill="#808080"/>
<circle cx="107.13" cy="267.1" r="1.1" fill="#808080"/>
<circle cx="109.54" cy="270.16" r="1.1" fill="#808080"/>
<circle cx="111.84" cy="273.31" r="1.1" fill="#808080"/>
<circle cx="114.04" cy="276.53" r="1.1" fill="#808080"/>
<circle cx="116.11" cy="279.84" r="1.1" fill="#808080"/>
<circle cx="117.88" cy="283.31" r="1.1" fill="#808080"/>
<circle cx="119.36" cy="286.92" r="1.1" fill="#808080"/>
<circle cx="120.8" cy="290.54" r="1.1" fill="#808080"/>
<circle cx="122.2" cy="294.18" r="1.1" fill="#808080"/>
<circle cx="123.58" cy="297.83" r="1.1" fill="#808080"/>
<circle cx="124.97" cy="301.47" r="1.1" fill="#808080"/>
<circle cx="126.23" cy="305.16" r="1.1" fill="#808080"/>
<circle cx="127.43" cy="308.88" r="1.1" fill="#808080"/>
<circle cx="128.61" cy="312.59" r="1.1" fill="#808080"/>
<circle cx="129.78" cy="316.31" r="1.1" fill="#808080"/>
<polyline points="30,226.8 35.25,226.79 42.65,226.77 51.51,226.74 61.12,226.71 70.77,226.7 79.77,226.7 87.42,226.73 93,226.8 96.47,226.9 98.49,227.02 99.39,227.16 99.51,227.32 99.2,227.51 98.8,227.72 98.65,227.95 99.1,228.2 99.98,228.48 100.89,228.78 101.84,229.11 102.82,229.46 103.85,229.83 104.9,230.21 105.97,230.6 107.04,231 108.12,231.41 109.22,231.83 110.33,232.26 111.44,232.71 112.56,233.16 113.68,233.63 114.79,234.11 115.89,234.6 116.98,235.1 118.04,235.6 119.1,236.11 120.13,236.64 121.15,237.18 122.15,237.73 123.14,238.31 124.11,238.9 125.08,239.52 126.03,240.16 126.96,240.82 127.88,241.49 128.79,242.18 129.67,242.88 130.53,243.59 131.37,244.3 132.2,245.02 133.02,245.76 133.82,246.5 134.63,247.26 135.42,248.02 136.21,248.78 137,249.54 137.78,250.3 138.57,251.06 139.35,251.81 140.14,252.57 140.92,253.33 141.71,254.09 142.51,254.86 143.3,255.63 144.1,256.4 144.91,257.18 145.74,257.97 146.56,258.77 147.39,259.57 148.22,260.37 149.04,261.16 149.84,261.94 150.63,262.7 151.35,263.4 152,264.02 152.6,264.6 153.21,265.19 153.86,265.82 154.61,266.54 155.49,267.39 156.54,268.4 157.77,269.59 159.13,270.91 160.62,272.34 162.2,273.87 163.86,275.47 165.57,277.12 167.32,278.8 169.07,280.5 170.89,282.25 172.8,284.1 174.78,286.01 176.8,287.96 178.82,289.91 180.82,291.84 182.76,293.71 184.61,295.5 186.39,297.21 188.11,298.88 189.8,300.51 191.45,302.1 193.08,303.67 194.69,305.22 196.28,306.76 197.87,308.3 199.54,309.9 201.29,311.6 203.07,313.32 204.82,315 206.46,316.58 207.93,318 209.16,319.2 210.1,320.1" fill="none" stroke="#008000" stroke-width="0.5" stroke-linejoin="round" stroke-linecap="round" />
<circle cx="30" cy="226.8" r="1.1" fill="#008000"/>
<circle cx="33.9" cy="226.79" r="1.1" fill="#008000"/>
<circle cx="37.8" cy="226.78" r="1.1" fill="#008000"/>
<circle cx="41.7" cy="226.77" r="1.1" fill="#008000"/>
<circle cx="45.6" cy="226.76" r="1.1" fill="#008000"/>
<circle cx="49.5" cy="226.74" r="1.1" fill="#008000"/>
<circle cx="53.4" cy="226.73" r="1.1" fill="#008000"/>
<circle cx="57.3" cy="226.72" r="1.1" fill="#008000"/>
<circle cx="61.2" cy="226.71" r="1.1" fill="#008000"/>
<circle cx="65.1" cy="226.71" r="1.1" fill="#008000"/>
<circle cx="69" cy="226.7" r="1.1" fill="#008000"/>
<circle cx="72.9" cy="226.7" r="1.1" fill="#008000"/>
<circle cx="76.8" cy="226.7" r="1.1" fill="#008000"/>
<circle cx="80.7" cy="226.71" r="1.1" fill="#008000"/>
<circle cx="84.6" cy="226.72" r="1.1" fill="#008000"/>
<circle cx="88.5" cy="226.75" r="1.1" fill="#008000"/>
<circle cx="92.4" cy="226.79" r="1.1" fill="#008000"/>
<circle cx="96.3" cy="226.89" r="1.1" fill="#008000"/>
<circle cx="99" cy="227.62" r="1.1" fill="#008000"/>
<circle cx="101.84" cy="229.11" r="1.1" fill="#008000"/>
<circle cx="105.51" cy="230.44" r="1.1" fill="#008000"/>
<circle cx="109.16" cy="231.81" r="1.1" fill="#008000"/>
<circle cx="112.78" cy="233.26" r="1.1" fill="#008000"/>
<circle cx="116.36" cy="234.81" r="1.1" fill="#008000"/>
<circle cx="119.87" cy="236.51" r="1.1" fill="#008000"/>
<circle cx="123.28" cy="238.39" r="1.1" fill="#008000"/>
<circle cx="126.55" cy="240.53" r="1.1" fill="#008000"/>
<circle cx="129.66" cy="242.88" r="1.1" fill="#008000"/>
<circle cx="132.63" cy="245.41" r="1.1" fill="#008000"/>
<circle cx="135.48" cy="248.07" r="1.1" fill="#008000"/>
<circle cx="138.28" cy="250.78" r="1.1" fill="#008000"/>
<circle cx="141.09" cy="253.49" r="1.1" fill="#008000"/>
<circle cx="143.89" cy="256.2" r="1.1" fill="#008000"/>
<circle cx="146.7" cy="258.91" r="1.1" fill="#008000"/>
<circle cx="149.51" cy="261.61" r="1.1" fill="#008000"/>
<circle cx="152.31" cy="264.32" r="1.1" fill="#008000"/>
<circle cx="155.12" cy="267.03" r="1.1" fill="#008000"/>
<circle cx="157.92" cy="269.74" r="1.1" fill="#008000"/>
<circle cx="160.73" cy="272.45" r="1.1" fill="#008000"/>
<circle cx="163.54" cy="275.16" r="1.1" fill="#008000"/>
<circle cx="166.34" cy="277.86" r="1.1" fill="#008000"/>
<circle cx="169.15" cy="280.57" r="1.1" fill="#008000"/>
<circle cx="171.95" cy="283.28" r="1.1" fill="#008000"/>
<circle cx="174.76" cy="285.99" r="1.1" fill="#008000"/>
<circle cx="177.57" cy="288.7" r="1.1" fill="#008000"/>
<circle cx="180.37" cy="291.41" r="1.1" fill="#008000"/>
<circle cx="183.18" cy="294.12" r="1.1" fill="#008000"/>
<circle cx="185.98" cy="296.82" r="1.1" fill="#008000"/>
<circle cx="188.79" cy="299.53" r="1.1" fill="#008000"/>
<circle cx="191.6" cy="302.24" r="1.1" fill="#008000"/>
<circle cx="194.4" cy="304.95" r="1.1" fill="#008000"/>
<circle cx="197.21" cy="307.66" r="1.1" fill="#008000"/>
<circle cx="200.02" cy="310.37" r="1.1" fill="#008000"/>
<circle cx="202.82" cy="313.07" r="1.1" fill="#008000"/>
<circle cx="205.63" cy="315.78" r="1.1" fill="#008000"/>
<circle cx="208.43" cy="318.49" r="1.1" fill="#008000"/>
<polyline points="30,226.8 33,226.79 37.22,226.75 42.27,226.71 47.75,226.68 53.26,226.65 58.41,226.66 62.79,226.7 66,226.8 68.04,226.95 69.27,227.16 69.89,227.4 70.06,227.67 69.98,227.95 69.82,228.25 69.77,228.53 70,228.8 70.42,229.05 70.82,229.3 71.19,229.55 71.55,229.81 71.9,230.06 72.26,230.33 72.62,230.61 73,230.9 73.39,231.2 73.77,231.51 74.15,231.82 74.54,232.14 74.94,232.48 75.35,232.83 75.77,233.21 76.2,233.6 76.65,234.02 77.13,234.46 77.62,234.92 78.11,235.39 78.61,235.88 79.12,236.38 79.61,236.89 80.1,237.4 80.58,237.92 81.07,238.46 81.56,239.01 82.04,239.57 82.52,240.13 82.99,240.69 83.45,241.25 83.9,241.8 84.33,242.34 84.74,242.88 85.14,243.42 85.53,243.95 85.92,244.48 86.31,245.02 86.7,245.56 87.1,246.1 87.51,246.65 87.92,247.19 88.33,247.74 88.74,248.29 89.16,248.85 89.57,249.4 89.99,249.95 90.4,250.5 90.82,251.05 91.24,251.61 91.66,252.18 92.08,252.74 92.51,253.29 92.94,253.84 93.38,254.38 93.82,254.9 94.25,255.38 94.66,255.82 95.08,256.24 95.49,256.65 95.92,257.08 96.38,257.55 96.86,258.09 97.39,258.7 97.97,259.4 98.59,260.16 99.24,260.98 99.91,261.84 100.6,262.73 101.29,263.65 101.97,264.57 102.65,265.5 103.3,266.42 103.93,267.33 104.55,268.25 105.17,269.19 105.81,270.18 106.49,271.21 107.2,272.31 107.97,273.5 108.82,274.81 109.75,276.24 110.72,277.75 111.71,279.31 112.67,280.88 113.58,282.41 114.4,283.86 115.12,285.2 115.74,286.42 116.27,287.55 116.75,288.61 117.19,289.64 117.6,290.65 118.02,291.66 118.44,292.7 118.89,293.8 119.36,294.95 119.83,296.13 120.31,297.34 120.78,298.55 121.26,299.76 121.73,300.97 122.19,302.15 122.65,303.3 123.1,304.44 123.56,305.58 124.02,306.72 124.47,307.84 124.91,308.93 125.33,309.98 125.74,310.97 126.12,311.9 126.5,312.79 126.87,313.66 127.23,314.5 127.58,315.29 127.9,316.01 128.18,316.64 128.42,317.18 128.6,317.6" fill="none" stroke="#ff8000" stroke-width="0.5" stroke-linejoin="round" stroke-linecap="round" />
<circle cx="30" cy="226.8" r="1.1" fill="#ff8000"/>
<circle cx="33.9" cy="226.78" r="1.1" fill="#ff8000"/>
<circle cx="37.8" cy="226.75" r="1.1" fill="#ff8000"/>
<circle cx="41.7" cy="226.72" r="1.1" fill="#ff8000"/>
<circle cx="45.6" cy="226.69" r="1.1" fill="#ff8000"/>
<circle cx="49.5" cy="226.67" r="1.1" fill="#ff8000"/>
<circle cx="53.4" cy="226.65" r="1.1" fill="#ff8000"/>
<circle cx="57.3" cy="226.66" r="1.1" fill="#ff8000"/>
<circle cx="61.2" cy="226.69" r="1.1" fill="#ff8000"/>
<circle cx="65.1" cy="226.77" r="1.1" fill="#ff8000"/>
<circle cx="68.98" cy="227.11" r="1.1" fill="#ff8000"/>
<circle cx="71.14" cy="229.52" r="1.1" fill="#ff8000"/>
<circle cx="74.23" cy="231.89" r="1.1" fill="#ff8000"/>
<circle cx="77.15" cy="234.48" r="1.1" fill="#ff8000"/>
<circle cx="79.92" cy="237.22" r="1.1" fill="#ff8000"/>
<circle cx="82.52" cy="240.13" r="1.1" fill="#ff8000"/>
<circle cx="84.96" cy="243.17" r="1.1" fill="#ff8000"/>
<circle cx="87.26" cy="246.32" r="1.1" fill="#ff8000"/>
<circle cx="89.6" cy="249.44" r="1.1" fill="#ff8000"/>
<circle cx="91.94" cy="252.55" r="1.1" fill="#ff8000"/>
<circle cx="94.42" cy="255.56" r="1.1" fill="#ff8000"/>
<circle cx="97.12" cy="258.38" r="1.1" fill="#ff8000"/>
<circle cx="99.57" cy="261.41" r="1.1" fill="#ff8000"/>
<circle cx="101.93" cy="264.51" r="1.1" fill="#ff8000"/>
<circle cx="104.18" cy="267.7" r="1.1" fill="#ff8000"/>
<circle cx="106.32" cy="270.96" r="1.1" fill="#ff8000"/>
<circle cx="108.45" cy="274.23" r="1.1" fill="#ff8000"/>
<circle cx="110.57" cy="277.5" r="1.1" fill="#ff8000"/>
<circle cx="112.63" cy="280.81" r="1.1" fill="#ff8000"/>
<circle cx="114.58" cy="284.19" r="1.1" fill="#ff8000"/>
<circle cx="116.33" cy="287.67" r="1.1" fill="#ff8000"/>
<circle cx="117.86" cy="291.26" r="1.1" fill="#ff8000"/>
<circle cx="119.33" cy="294.87" r="1.1" fill="#ff8000"/>
<circle cx="120.76" cy="298.5" r="1.1" fill="#ff8000"/>
<circle cx="122.18" cy="302.13" r="1.1" fill="#ff8000"/>
<circle cx="123.63" cy="305.76" r="1.1" fill="#ff8000"/>
<circle cx="125.09" cy="309.37" r="1.1" fill="#ff8000"/>
<circle cx="126.58" cy="312.98" r="1.1" fill="#ff8000"/>
<circle cx="128.14" cy="316.55" r="1.1" fill="#ff8000"/>
<polyline points="30,226.8 32.48,226.79 35.97,226.78 40.14,226.76 44.67,226.75 49.24,226.74 53.53,226.74 57.23,226.76 60,226.8 61.86,226.86 63.12,226.94 63.91,227.03 64.35,227.13 64.58,227.24 64.73,227.36 64.93,227.48 65.3,227.6 65.77,227.72 66.17,227.84 66.52,227.97 66.83,228.1 67.13,228.24 67.43,228.38 67.75,228.54 68.1,228.7 68.48,228.87 68.87,229.04 69.27,229.22 69.67,229.41 70.08,229.6 70.48,229.82 70.89,230.05 71.3,230.3 71.71,230.58 72.11,230.87 72.52,231.19 72.93,231.52 73.34,231.86 73.76,232.21 74.18,232.55 74.6,232.9 75.03,233.24 75.47,233.59 75.92,233.93 76.37,234.29 76.82,234.65 77.26,235.02 77.69,235.4 78.1,235.8 78.49,236.22 78.87,236.65 79.23,237.09 79.59,237.54 79.95,238 80.31,238.47 80.69,238.94 81.1,239.4 81.53,239.87 81.98,240.34 82.45,240.81 82.92,241.29 83.4,241.77 83.88,242.25 84.35,242.72 84.8,243.2 85.24,243.67 85.68,244.15 86.11,244.62 86.54,245.09 86.97,245.56 87.39,246.04 87.8,246.52 88.2,247 88.59,247.49 88.98,247.99 89.35,248.49 89.72,248.99 90.09,249.5 90.45,250 90.82,250.5 91.2,251 91.59,251.49 91.98,251.98 92.37,252.47 92.77,252.96 93.16,253.45 93.55,253.93 93.93,254.42 94.3,254.9 94.65,255.37 94.98,255.81 95.3,256.24 95.61,256.67 95.93,257.13 96.27,257.6 96.63,258.13 97.03,258.7 97.46,259.33 97.91,260 98.39,260.7 98.88,261.44 99.39,262.2 99.9,262.98 100.42,263.79 100.94,264.6 101.47,265.44 102.01,266.3 102.56,267.19 103.11,268.1 103.67,269.02 104.22,269.95 104.76,270.88 105.28,271.8 105.79,272.73 106.3,273.67 106.81,274.62 107.31,275.57 107.79,276.52 108.27,277.46 108.73,278.39 109.17,279.3 109.59,280.18 109.98,281.03 110.35,281.86 110.72,282.68 111.08,283.51 111.44,284.37 111.82,285.26 112.21,286.2 112.62,287.19 113.04,288.21 113.46,289.26 113.88,290.34 114.31,291.43 114.75,292.55 115.19,293.67 115.63,294.8 116.08,295.93 116.53,297.07 116.98,298.21 117.44,299.38 117.91,300.56 118.37,301.77 118.84,303.02 119.3,304.3 119.78,305.65 120.27,307.07 120.76,308.53 121.26,310.01 121.75,311.5 122.24,312.95 122.71,314.36 123.17,315.7 123.64,317.03 124.12,318.39 124.61,319.75 125.08,321.06 125.52,322.29 125.92,323.38 126.25,324.3 126.5,325" fill="none" stroke="#8000ff" stroke-width="0.5" stroke-linejoin="round" stroke-linecap="round" />
<circle cx="30" cy="226.8" r="1.1" fill="#8000ff"/>
<circle cx="33.9" cy="226.79" r="1.1" fill="#8000ff"/>
<circle cx="37.8" cy="226.77" r="1.1" fill="#8000ff"/>
<circle cx="41.7" cy="226.76" r="1.1" fill="#8000ff"/>
<circle cx="45.6" cy="226.75" r="1.1" fill="#8000ff"/>
<circle cx="49.5" cy="226.74" r="1.1" fill="#8000ff"/>
<circle cx="53.4" cy="226.74" r="1.1" fill="#8000ff"/>
<circle cx="57.3" cy="226.76" r="1.1" fill="#8000ff"/>
<circle cx="61.2" cy="226.84" r="1.1" fill="#8000ff"/>
<circle cx="64.98" cy="227.5" r="1.1" fill="#8000ff"/>
<circle cx="68.6" cy="228.92" r="1.1" fill="#8000ff"/>
<circle cx="72.01" cy="230.79" r="1.1" fill="#8000ff"/>
<circle cx="75.04" cy="233.25" r="1.1" fill="#8000ff"/>
<circle cx="78.04" cy="235.74" r="1.1" fill="#8000ff"/>
<circle cx="80.53" cy="238.73" r="1.1" fill="#8000ff"/>
<circle cx="83.21" cy="241.57" r="1.1" fill="#8000ff"/>
<circle cx="85.9" cy="244.38" r="1.1" fill="#8000ff"/>
<circle cx="88.46" cy="247.33" r="1.1" fill="#8000ff"/>
<circle cx="90.79" cy="250.46" r="1.1" fill="#8000ff"/>
<circle cx="93.21" cy="253.51" r="1.1" fill="#8000ff"/>
<circle cx="95.57" cy="256.62" r="1.1" fill="#8000ff"/>
<circle cx="97.79" cy="259.82" r="1.1" fill="#8000ff"/>
<circle cx="99.96" cy="263.07" r="1.1" fill="#8000ff"/>
<circle cx="102.04" cy="266.36" r="1.1" fill="#8000ff"/>
<circle cx="104.07" cy="269.69" r="1.1" fill="#8000ff"/>
<circle cx="105.99" cy="273.09" r="1.1" fill="#8000ff"/>
<circle cx="107.8" cy="276.54" r="1.1" fill="#8000ff"/>
<circle cx="109.52" cy="280.04" r="1.1" fill="#8000ff"/>
<circle cx="111.12" cy="283.6" r="1.1" fill="#8000ff"/>
<circle cx="112.62" cy="287.2" r="1.1" fill="#8000ff"/>
<circle cx="114.07" cy="290.82" r="1.1" fill="#8000ff"/>
<circle cx="115.49" cy="294.45" r="1.1" fill="#8000ff"/>
<circle cx="116.93" cy="298.07" r="1.1" fill="#8000ff"/>
<circle cx="118.35" cy="301.71" r="1.1" fill="#8000ff"/>
<circle cx="119.68" cy="305.37" r="1.1" fill="#8000ff"/>
<circle cx="120.94" cy="309.06" r="1.1" fill="#8000ff"/>
<circle cx="122.17" cy="312.76" r="1.1" fill="#8000ff"/>
<circle cx="123.44" cy="316.45" r="1.1" fill="#8000ff"/>
<circle cx="124.75" cy="320.13" r="1.1" fill="#8000ff"/>
<circle cx="126.07" cy="323.8" r="1.1" fill="#8000ff"/>
<circle cx="33.3" cy="226.8" r="1.3" fill="#008000"/>
<line x1="67.33" y1="182.3" x2="210.1" y2="320.1" stroke="#008000" stroke-width="1.0" />
<line x1="69.74" y1="182.3" x2="197.2" y2="323" stroke="#ffff00" stroke-width="1.0" />
<line x1="71.76" y1="182.3" x2="185" y2="324.4" stroke="#ff00ff" stroke-width="1.0" />
<line x1="73.49" y1="182.3" x2="174.4" y2="325.8" stroke="#00ffff" stroke-width="1.0" />
<line x1="75" y1="182.3" x2="163.8" y2="325.2" stroke="#0000ff" stroke-width="1.0" />
<line x1="76.89" y1="182.3" x2="151.8" y2="326.5" stroke="#00ff00" stroke-width="1.0" />
<line x1="78.72" y1="182.3" x2="136.6" y2="319.9" stroke="#ff0000" stroke-width="1.0" />
<line x1="79.59" y1="182.3" x2="130.5" y2="318.6" stroke="#808080" stroke-width="1.0" />
<line x1="79.83" y1="182.3" x2="128.6" y2="317.6" stroke="#ff8000" stroke-width="1.0" />
<line x1="80.54" y1="182.3" x2="126.5" y2="325" stroke="#8000ff" stroke-width="1.0" />
</g>
<line x1="125.7" y1="305.2" x2="176.3" y2="267.2" stroke="#808080" stroke-width="1.3" />
<polygon points="180.3,264.2 177.74,269.12 174.86,265.28" fill="#808080"/>
<line x1="125.7" y1="311.9" x2="184.38" y2="284.14" stroke="#ff8000" stroke-width="1.3" />
<polygon points="188.9,282 185.41,286.31 183.35,281.97" fill="#ff8000"/>
<text x="183.2" y="268" font-size="7.6" fill="#000" stroke="#000" stroke-width="0.21" font-family="Liberation Sans, sans-serif" text-anchor="start" >0.8T</text>
<text x="190.4" y="284.3" font-size="7.6" fill="#000" stroke="#000" stroke-width="0.21" font-family="Liberation Sans, sans-serif" text-anchor="start" >0.5T</text>
<rect x="26.4" y="182.3" width="196.8" height="158" fill="none" stroke="#666666" stroke-width="1.35"/>
<line x1="29.5" y1="340.3" x2="29.5" y2="337.3" stroke="#666666" stroke-width="0.8" />
<line x1="29.5" y1="182.3" x2="29.5" y2="185.3" stroke="#666666" stroke-width="0.8" />
<line x1="60.48" y1="340.3" x2="60.48" y2="337.3" stroke="#666666" stroke-width="0.8" />
<line x1="60.48" y1="182.3" x2="60.48" y2="185.3" stroke="#666666" stroke-width="0.8" />
<line x1="91.46" y1="340.3" x2="91.46" y2="337.3" stroke="#666666" stroke-width="0.8" />
<line x1="91.46" y1="182.3" x2="91.46" y2="185.3" stroke="#666666" stroke-width="0.8" />
<line x1="122.44" y1="340.3" x2="122.44" y2="337.3" stroke="#666666" stroke-width="0.8" />
<line x1="122.44" y1="182.3" x2="122.44" y2="185.3" stroke="#666666" stroke-width="0.8" />
<line x1="153.42" y1="340.3" x2="153.42" y2="337.3" stroke="#666666" stroke-width="0.8" />
<line x1="153.42" y1="182.3" x2="153.42" y2="185.3" stroke="#666666" stroke-width="0.8" />
<line x1="184.4" y1="340.3" x2="184.4" y2="337.3" stroke="#666666" stroke-width="0.8" />
<line x1="184.4" y1="182.3" x2="184.4" y2="185.3" stroke="#666666" stroke-width="0.8" />
<line x1="215.38" y1="340.3" x2="215.38" y2="337.3" stroke="#666666" stroke-width="0.8" />
<line x1="215.38" y1="182.3" x2="215.38" y2="185.3" stroke="#666666" stroke-width="0.8" />
<line x1="44.99" y1="340.3" x2="44.99" y2="338.7" stroke="#666666" stroke-width="0.8" />
<line x1="44.99" y1="182.3" x2="44.99" y2="183.9" stroke="#666666" stroke-width="0.8" />
<line x1="75.97" y1="340.3" x2="75.97" y2="338.7" stroke="#666666" stroke-width="0.8" />
<line x1="75.97" y1="182.3" x2="75.97" y2="183.9" stroke="#666666" stroke-width="0.8" />
<line x1="106.95" y1="340.3" x2="106.95" y2="338.7" stroke="#666666" stroke-width="0.8" />
<line x1="106.95" y1="182.3" x2="106.95" y2="183.9" stroke="#666666" stroke-width="0.8" />
<line x1="137.93" y1="340.3" x2="137.93" y2="338.7" stroke="#666666" stroke-width="0.8" />
<line x1="137.93" y1="182.3" x2="137.93" y2="183.9" stroke="#666666" stroke-width="0.8" />
<line x1="168.91" y1="340.3" x2="168.91" y2="338.7" stroke="#666666" stroke-width="0.8" />
<line x1="168.91" y1="182.3" x2="168.91" y2="183.9" stroke="#666666" stroke-width="0.8" />
<line x1="199.89" y1="340.3" x2="199.89" y2="338.7" stroke="#666666" stroke-width="0.8" />
<line x1="199.89" y1="182.3" x2="199.89" y2="183.9" stroke="#666666" stroke-width="0.8" />
<line x1="26.4" y1="338.1" x2="29.4" y2="338.1" stroke="#666666" stroke-width="0.8" />
<line x1="223.2" y1="338.1" x2="220.2" y2="338.1" stroke="#666666" stroke-width="0.8" />
<line x1="26.4" y1="323.74" x2="29.4" y2="323.74" stroke="#666666" stroke-width="0.8" />
<line x1="223.2" y1="323.74" x2="220.2" y2="323.74" stroke="#666666" stroke-width="0.8" />
<line x1="26.4" y1="309.38" x2="29.4" y2="309.38" stroke="#666666" stroke-width="0.8" />
<line x1="223.2" y1="309.38" x2="220.2" y2="309.38" stroke="#666666" stroke-width="0.8" />
<line x1="26.4" y1="295.02" x2="29.4" y2="295.02" stroke="#666666" stroke-width="0.8" />
<line x1="223.2" y1="295.02" x2="220.2" y2="295.02" stroke="#666666" stroke-width="0.8" />
<line x1="26.4" y1="280.66" x2="29.4" y2="280.66" stroke="#666666" stroke-width="0.8" />
<line x1="223.2" y1="280.66" x2="220.2" y2="280.66" stroke="#666666" stroke-width="0.8" />
<line x1="26.4" y1="266.3" x2="29.4" y2="266.3" stroke="#666666" stroke-width="0.8" />
<line x1="223.2" y1="266.3" x2="220.2" y2="266.3" stroke="#666666" stroke-width="0.8" />
<line x1="26.4" y1="251.94" x2="29.4" y2="251.94" stroke="#666666" stroke-width="0.8" />
<line x1="223.2" y1="251.94" x2="220.2" y2="251.94" stroke="#666666" stroke-width="0.8" />
<line x1="26.4" y1="237.58" x2="29.4" y2="237.58" stroke="#666666" stroke-width="0.8" />
<line x1="223.2" y1="237.58" x2="220.2" y2="237.58" stroke="#666666" stroke-width="0.8" />
<line x1="26.4" y1="223.22" x2="29.4" y2="223.22" stroke="#666666" stroke-width="0.8" />
<line x1="223.2" y1="223.22" x2="220.2" y2="223.22" stroke="#666666" stroke-width="0.8" />
<line x1="26.4" y1="208.86" x2="29.4" y2="208.86" stroke="#666666" stroke-width="0.8" />
<line x1="223.2" y1="208.86" x2="220.2" y2="208.86" stroke="#666666" stroke-width="0.8" />
<line x1="26.4" y1="194.5" x2="29.4" y2="194.5" stroke="#666666" stroke-width="0.8" />
<line x1="223.2" y1="194.5" x2="220.2" y2="194.5" stroke="#666666" stroke-width="0.8" />
<line x1="26.4" y1="330.92" x2="28" y2="330.92" stroke="#666666" stroke-width="0.8" />
<line x1="223.2" y1="330.92" x2="221.6" y2="330.92" stroke="#666666" stroke-width="0.8" />
<line x1="26.4" y1="316.56" x2="28" y2="316.56" stroke="#666666" stroke-width="0.8" />
<line x1="223.2" y1="316.56" x2="221.6" y2="316.56" stroke="#666666" stroke-width="0.8" />
<line x1="26.4" y1="302.2" x2="28" y2="302.2" stroke="#666666" stroke-width="0.8" />
<line x1="223.2" y1="302.2" x2="221.6" y2="302.2" stroke="#666666" stroke-width="0.8" />
<line x1="26.4" y1="287.84" x2="28" y2="287.84" stroke="#666666" stroke-width="0.8" />
<line x1="223.2" y1="287.84" x2="221.6" y2="287.84" stroke="#666666" stroke-width="0.8" />
<line x1="26.4" y1="273.48" x2="28" y2="273.48" stroke="#666666" stroke-width="0.8" />
<line x1="223.2" y1="273.48" x2="221.6" y2="273.48" stroke="#666666" stroke-width="0.8" />
<line x1="26.4" y1="259.12" x2="28" y2="259.12" stroke="#666666" stroke-width="0.8" />
<line x1="223.2" y1="259.12" x2="221.6" y2="259.12" stroke="#666666" stroke-width="0.8" />
<line x1="26.4" y1="244.76" x2="28" y2="244.76" stroke="#666666" stroke-width="0.8" />
<line x1="223.2" y1="244.76" x2="221.6" y2="244.76" stroke="#666666" stroke-width="0.8" />
<line x1="26.4" y1="230.4" x2="28" y2="230.4" stroke="#666666" stroke-width="0.8" />
<line x1="223.2" y1="230.4" x2="221.6" y2="230.4" stroke="#666666" stroke-width="0.8" />
<line x1="26.4" y1="216.04" x2="28" y2="216.04" stroke="#666666" stroke-width="0.8" />
<line x1="223.2" y1="216.04" x2="221.6" y2="216.04" stroke="#666666" stroke-width="0.8" />
<line x1="26.4" y1="201.68" x2="28" y2="201.68" stroke="#666666" stroke-width="0.8" />
<line x1="223.2" y1="201.68" x2="221.6" y2="201.68" stroke="#666666" stroke-width="0.8" />
<line x1="26.4" y1="187.32" x2="28" y2="187.32" stroke="#666666" stroke-width="0.8" />
<line x1="223.2" y1="187.32" x2="221.6" y2="187.32" stroke="#666666" stroke-width="0.8" />
<text x="29.5" y="349.6" font-size="6.6" fill="#222" stroke="#222" stroke-width="0.18" font-family="Liberation Serif, serif" text-anchor="middle" >0.030</text>
<text x="60.48" y="349.6" font-size="6.6" fill="#222" stroke="#222" stroke-width="0.18" font-family="Liberation Serif, serif" text-anchor="middle" >0.032</text>
<text x="91.46" y="349.6" font-size="6.6" fill="#222" stroke="#222" stroke-width="0.18" font-family="Liberation Serif, serif" text-anchor="middle" >0.034</text>
<text x="122.44" y="349.6" font-size="6.6" fill="#222" stroke="#222" stroke-width="0.18" font-family="Liberation Serif, serif" text-anchor="middle" >0.036</text>
<text x="153.42" y="349.6" font-size="6.6" fill="#222" stroke="#222" stroke-width="0.18" font-family="Liberation Serif, serif" text-anchor="middle" >0.038</text>
<text x="184.4" y="349.6" font-size="6.6" fill="#222" stroke="#222" stroke-width="0.18" font-family="Liberation Serif, serif" text-anchor="middle" >0.040</text>
<text x="215.38" y="349.6" font-size="6.6" fill="#222" stroke="#222" stroke-width="0.18" font-family="Liberation Serif, serif" text-anchor="middle" >0.042</text>
<text x="23" y="340.4" font-size="6.6" fill="#222" stroke="#222" stroke-width="0.18" font-family="Liberation Serif, serif" text-anchor="end" >-20</text>
<text x="23" y="326.04" font-size="6.6" fill="#222" stroke="#222" stroke-width="0.18" font-family="Liberation Serif, serif" text-anchor="end" >-18</text>
<text x="23" y="311.68" font-size="6.6" fill="#222" stroke="#222" stroke-width="0.18" font-family="Liberation Serif, serif" text-anchor="end" >-16</text>
<text x="23" y="297.32" font-size="6.6" fill="#222" stroke="#222" stroke-width="0.18" font-family="Liberation Serif, serif" text-anchor="end" >-14</text>
<text x="23" y="282.96" font-size="6.6" fill="#222" stroke="#222" stroke-width="0.18" font-family="Liberation Serif, serif" text-anchor="end" >-12</text>
<text x="23" y="268.6" font-size="6.6" fill="#222" stroke="#222" stroke-width="0.18" font-family="Liberation Serif, serif" text-anchor="end" >-10</text>
<text x="23" y="254.24" font-size="6.6" fill="#222" stroke="#222" stroke-width="0.18" font-family="Liberation Serif, serif" text-anchor="end" >-8</text>
<text x="23" y="239.88" font-size="6.6" fill="#222" stroke="#222" stroke-width="0.18" font-family="Liberation Serif, serif" text-anchor="end" >-6</text>
<text x="23" y="225.52" font-size="6.6" fill="#222" stroke="#222" stroke-width="0.18" font-family="Liberation Serif, serif" text-anchor="end" >-4</text>
<text x="23" y="211.16" font-size="6.6" fill="#222" stroke="#222" stroke-width="0.18" font-family="Liberation Serif, serif" text-anchor="end" >-2</text>
<text x="23" y="196.8" font-size="6.6" fill="#222" stroke="#222" stroke-width="0.18" font-family="Liberation Serif, serif" text-anchor="end" >0</text>
<text x="125.3" y="365" font-size="10.4" fill="#111" stroke="#111" stroke-width="0.28" font-family="Liberation Serif, serif" text-anchor="middle" >1/T(1/K)</text>
<text x="0" y="0" font-size="10.4" fill="#111" stroke="#111" stroke-width="0.28" font-family="Liberation Serif, serif" text-anchor="middle" transform="translate(8.2,262.4) rotate(-90)">ln[&#961; (&#937; cm)]</text>
<text x="33.4" y="198.2" font-size="13.6" fill="#000" stroke="#000" stroke-width="0.28" font-family="Liberation Sans, sans-serif" text-anchor="start" >(d)</text>
<text x="39.2" y="253.6" font-size="17.2" fill="#000" stroke="#000" stroke-width="0.28" font-family="Liberation Sans, sans-serif" text-anchor="start" >H//ab</text>
<text x="90.6" y="199.4" font-size="8.4" fill="#000" stroke="#000" stroke-width="0.28" font-family="Liberation Sans, sans-serif" text-anchor="start" >T</text>
<text x="95.5" y="202" font-size="4.6" fill="#000" stroke="#000" stroke-width="0.12" font-family="Liberation Sans, sans-serif" text-anchor="start" >cross</text>
<text x="107.4" y="199.4" font-size="8.3" fill="#000" stroke="#000" stroke-width="0.28" font-family="Liberation Sans, sans-serif" text-anchor="start" >=29.6K</text>
<text x="119.2" y="333.8" font-size="7.6" fill="#000" stroke="#000" stroke-width="0.21" font-family="Liberation Sans, sans-serif" text-anchor="start" >0.3T</text>
<text x="135.6" y="327.6" font-size="6.9" fill="#000" stroke="#000" stroke-width="0.19" font-family="Liberation Sans, sans-serif" text-anchor="start" >2T</text>
<text x="149" y="333.8" font-size="6.9" fill="#000" stroke="#000" stroke-width="0.19" font-family="Liberation Sans, sans-serif" text-anchor="start" >4T</text>
<text x="160.5" y="333.8" font-size="6.9" fill="#000" stroke="#000" stroke-width="0.19" font-family="Liberation Sans, sans-serif" text-anchor="start" >6T</text>
<text x="169" y="333.8" font-size="6.9" fill="#000" stroke="#000" stroke-width="0.19" font-family="Liberation Sans, sans-serif" text-anchor="start" >8T</text>
<text x="180.5" y="333.8" font-size="6.9" fill="#000" stroke="#000" stroke-width="0.19" font-family="Liberation Sans, sans-serif" text-anchor="start" >10T</text>
<text x="193.4" y="333.8" font-size="6.9" fill="#000" stroke="#000" stroke-width="0.19" font-family="Liberation Sans, sans-serif" text-anchor="start" >12T</text>
<text x="207.1" y="333.8" font-size="6.9" fill="#000" stroke="#000" stroke-width="0.19" font-family="Liberation Sans, sans-serif" text-anchor="start" >14T</text>
<rect x="142.1" y="185.0" width="76.4" height="61.599999999999994" fill="#fff" stroke="#aaa" stroke-width="0.8"/>
<line x1="146.3" y1="244.9" x2="216.1" y2="187.6" stroke="#6688ff" stroke-width="0.9" />
<rect x="144.8" y="243.4" width="3" height="3" fill="#0000ff"/>
<rect x="148.5" y="240.6" width="3" height="3" fill="#0000ff"/>
<rect x="154.2" y="235.8" width="3" height="3" fill="#0000ff"/>
<rect x="163.8" y="228" width="3" height="3" fill="#0000ff"/>
<rect x="171.6" y="221.6" width="3" height="3" fill="#0000ff"/>
<rect x="186.9" y="208.6" width="3" height="3" fill="#0000ff"/>
<rect x="214.6" y="186.1" width="3" height="3" fill="#0000ff"/>
<line x1="143.1" y1="246.6" x2="143.1" y2="245.3" stroke="#999" stroke-width="0.5" />
<text x="143.1" y="249.6" font-size="3" fill="#777" stroke="#777" stroke-width="0.08" font-family="Liberation Sans, sans-serif" text-anchor="middle" >4000</text>
<line x1="165.3" y1="246.6" x2="165.3" y2="245.3" stroke="#999" stroke-width="0.5" />
<text x="165.3" y="249.6" font-size="3" fill="#777" stroke="#777" stroke-width="0.08" font-family="Liberation Sans, sans-serif" text-anchor="middle" >5000</text>
<line x1="187.9" y1="246.6" x2="187.9" y2="245.3" stroke="#999" stroke-width="0.5" />
<text x="187.9" y="249.6" font-size="3" fill="#777" stroke="#777" stroke-width="0.08" font-family="Liberation Sans, sans-serif" text-anchor="middle" >6000</text>
<line x1="210.7" y1="246.6" x2="210.7" y2="245.3" stroke="#999" stroke-width="0.5" />
<text x="210.7" y="249.6" font-size="3" fill="#777" stroke="#777" stroke-width="0.08" font-family="Liberation Sans, sans-serif" text-anchor="middle" >7000</text>
<line x1="142.1" y1="185.6" x2="143.4" y2="185.6" stroke="#999" stroke-width="0.5" />
<line x1="218.5" y1="185.6" x2="217.2" y2="185.6" stroke="#999" stroke-width="0.5" />
<text x="141.4" y="186.7" font-size="3" fill="#777" stroke="#777" stroke-width="0.08" font-family="Liberation Sans, sans-serif" text-anchor="end" >200</text>
<line x1="142.1" y1="196.5" x2="143.4" y2="196.5" stroke="#999" stroke-width="0.5" />
<line x1="218.5" y1="196.5" x2="217.2" y2="196.5" stroke="#999" stroke-width="0.5" />
<text x="141.4" y="197.6" font-size="3" fill="#777" stroke="#777" stroke-width="0.08" font-family="Liberation Sans, sans-serif" text-anchor="end" >180</text>
<line x1="142.1" y1="207.4" x2="143.4" y2="207.4" stroke="#999" stroke-width="0.5" />
<line x1="218.5" y1="207.4" x2="217.2" y2="207.4" stroke="#999" stroke-width="0.5" />
<text x="141.4" y="208.5" font-size="3" fill="#777" stroke="#777" stroke-width="0.08" font-family="Liberation Sans, sans-serif" text-anchor="end" >160</text>
<line x1="142.1" y1="218.3" x2="143.4" y2="218.3" stroke="#999" stroke-width="0.5" />
<line x1="218.5" y1="218.3" x2="217.2" y2="218.3" stroke="#999" stroke-width="0.5" />
<text x="141.4" y="219.4" font-size="3" fill="#777" stroke="#777" stroke-width="0.08" font-family="Liberation Sans, sans-serif" text-anchor="end" >140</text>
<line x1="142.1" y1="229.2" x2="143.4" y2="229.2" stroke="#999" stroke-width="0.5" />
<line x1="218.5" y1="229.2" x2="217.2" y2="229.2" stroke="#999" stroke-width="0.5" />
<text x="141.4" y="230.3" font-size="3" fill="#777" stroke="#777" stroke-width="0.08" font-family="Liberation Sans, sans-serif" text-anchor="end" >120</text>
<line x1="142.1" y1="240.1" x2="143.4" y2="240.1" stroke="#999" stroke-width="0.5" />
<line x1="218.5" y1="240.1" x2="217.2" y2="240.1" stroke="#999" stroke-width="0.5" />
<text x="141.4" y="241.2" font-size="3" fill="#777" stroke="#777" stroke-width="0.08" font-family="Liberation Sans, sans-serif" text-anchor="end" >100</text>
<text x="0" y="0" font-size="3.4" fill="#666" stroke="#666" stroke-width="0.09" font-family="Liberation Sans, sans-serif" text-anchor="middle" transform="translate(137.2,215) rotate(-90)">ln[&#961;<tspan font-size="2.4">0</tspan>(&#937; cm)]</text>
<text x="179.4" y="254" font-size="4.4" fill="#555" stroke="#555" stroke-width="0.12" font-family="Liberation Sans, sans-serif" text-anchor="middle" >[U<tspan font-size="2.8">0</tspan>(H)/k<tspan font-size="2.8">B</tspan>](K)</text>
<rect x="38.6" y="279.5" width="73.4" height="53.0" fill="#fff" stroke="#bbb" stroke-width="0.8"/>
<line x1="41.8" y1="283.3" x2="94.5" y2="311.6" stroke="#ff0000" stroke-width="1.0" />
<circle cx="41.8" cy="283.3" r="1.6" fill="#ff0000"/>
<circle cx="51" cy="287.5" r="1.6" fill="#ff0000"/>
<circle cx="59" cy="293.3" r="1.6" fill="#ff0000"/>
<circle cx="75.2" cy="298.6" r="1.6" fill="#ff0000"/>
<circle cx="87.2" cy="306.2" r="1.6" fill="#ff0000"/>
<circle cx="94.5" cy="311.6" r="1.6" fill="#ff0000"/>
<line x1="99.6" y1="316.1" x2="109.7" y2="326.8" stroke="#0000ff" stroke-width="1.0" />
<rect x="98.2" y="314.7" width="2.8" height="2.8" fill="#0000ff"/>
<rect x="102" y="319.7" width="2.8" height="2.8" fill="#0000ff"/>
<rect x="105.3" y="322.9" width="2.8" height="2.8" fill="#0000ff"/>
<rect x="108.3" y="325.4" width="2.8" height="2.8" fill="#0000ff"/>
<text x="44.9" y="309.1" font-size="7.6" fill="#000" stroke="#000" stroke-width="0.21" font-family="Liberation Sans, sans-serif" text-anchor="start" >U<tspan font-size="4.6" dy="1.5">0</tspan><tspan dy="-1.5">~H</tspan><tspan font-size="5" dy="-3.4">-0.40</tspan></text>
<text x="70.4" y="327.2" font-size="7.6" fill="#000" stroke="#000" stroke-width="0.21" font-family="Liberation Sans, sans-serif" text-anchor="start" >U<tspan font-size="4.6" dy="1.5">0</tspan><tspan dy="-1.5">~H</tspan><tspan font-size="5" dy="-3.4">-0.61</tspan></text>
<line x1="38.6" y1="328.61" x2="39.8" y2="328.61" stroke="#999" stroke-width="0.5" />
<text x="37.4" y="329.71" font-size="3" fill="#777" stroke="#777" stroke-width="0.08" font-family="Liberation Sans, sans-serif" text-anchor="end" >2</text>
<line x1="38.6" y1="316.36" x2="39.8" y2="316.36" stroke="#999" stroke-width="0.5" />
<text x="37.4" y="317.46" font-size="3" fill="#777" stroke="#777" stroke-width="0.08" font-family="Liberation Sans, sans-serif" text-anchor="end" >3</text>
<line x1="38.6" y1="307.67" x2="39.8" y2="307.67" stroke="#999" stroke-width="0.5" />
<text x="37.4" y="308.77" font-size="3" fill="#777" stroke="#777" stroke-width="0.08" font-family="Liberation Sans, sans-serif" text-anchor="end" >4</text>
<line x1="38.6" y1="300.93" x2="39.8" y2="300.93" stroke="#999" stroke-width="0.5" />
<text x="37.4" y="302.03" font-size="3" fill="#777" stroke="#777" stroke-width="0.08" font-family="Liberation Sans, sans-serif" text-anchor="end" >5</text>
<line x1="38.6" y1="295.43" x2="39.8" y2="295.43" stroke="#999" stroke-width="0.5" />
<text x="37.4" y="296.53" font-size="3" fill="#777" stroke="#777" stroke-width="0.08" font-family="Liberation Sans, sans-serif" text-anchor="end" >6</text>
<line x1="38.6" y1="290.77" x2="39.8" y2="290.77" stroke="#999" stroke-width="0.5" />
<text x="37.4" y="291.87" font-size="3" fill="#777" stroke="#777" stroke-width="0.08" font-family="Liberation Sans, sans-serif" text-anchor="end" >7</text>
<line x1="38.6" y1="286.74" x2="39.8" y2="286.74" stroke="#999" stroke-width="0.5" />
<text x="37.4" y="287.84" font-size="3" fill="#777" stroke="#777" stroke-width="0.08" font-family="Liberation Sans, sans-serif" text-anchor="end" >8</text>
<line x1="38.6" y1="283.18" x2="39.8" y2="283.18" stroke="#999" stroke-width="0.5" />
<text x="37.4" y="284.28" font-size="3" fill="#777" stroke="#777" stroke-width="0.08" font-family="Liberation Sans, sans-serif" text-anchor="end" >9</text>
<line x1="38.6" y1="280" x2="39.8" y2="280" stroke="#999" stroke-width="0.5" />
<text x="37.4" y="281.1" font-size="3" fill="#777" stroke="#777" stroke-width="0.08" font-family="Liberation Sans, sans-serif" text-anchor="end" >10</text>
<line x1="63.2" y1="332.5" x2="63.2" y2="331.2" stroke="#999" stroke-width="0.5" />
<text x="63.2" y="335.6" font-size="3" fill="#777" stroke="#777" stroke-width="0.08" font-family="Liberation Sans, sans-serif" text-anchor="middle" >1</text>
<line x1="103.8" y1="332.5" x2="103.8" y2="331.2" stroke="#999" stroke-width="0.5" />
<text x="103.8" y="335.6" font-size="3" fill="#777" stroke="#777" stroke-width="0.08" font-family="Liberation Sans, sans-serif" text-anchor="middle" >10</text>
<text x="0" y="0" font-size="3.4" fill="#666" stroke="#666" stroke-width="0.09" font-family="Liberation Sans, sans-serif" text-anchor="middle" transform="translate(34.4,303) rotate(-90)">U<tspan font-size="2.4">0</tspan>(H)/k<tspan font-size="2.4">B</tspan>(10<tspan font-size="2.4" dy="-1">3</tspan><tspan dy="1">K)</tspan></text>
<text x="80.6" y="337.6" font-size="3.4" fill="#666" stroke="#666" stroke-width="0.09" font-family="Liberation Sans, sans-serif" text-anchor="middle" >&#956;<tspan font-size="2.4">0</tspan>H(T)</text>
<clipPath id="ce"><rect x="269.7" y="183.8" width="214.10000000000002" height="156.8"/></clipPath>
<g clip-path="url(#ce)">
<line x1="410" y1="327.6" x2="483.8" y2="327.6" stroke="#008000" stroke-width="1.0" />
<polyline points="359,186.7 364,195.6 368.2,204.4 372.9,216.3 377.2,232.5 381.7,246.5 385.9,259.8 390.9,265.9 395.5,268.4 400.4,269 405,271.3 409.4,277.4 413.8,289.4 417.9,304 422.3,315.4 427.1,322.5 431.9,325.2 436.6,326.8 441,327.6" fill="none" stroke="#ff0000" stroke-width="1.1" stroke-linejoin="round" stroke-linecap="round" />
<rect x="357.3" y="185" width="3.4" height="3.4" fill="#ff0000"/>
<rect x="362.3" y="193.9" width="3.4" height="3.4" fill="#ff0000"/>
<rect x="366.5" y="202.7" width="3.4" height="3.4" fill="#ff0000"/>
<rect x="371.2" y="214.6" width="3.4" height="3.4" fill="#ff0000"/>
<rect x="375.5" y="230.8" width="3.4" height="3.4" fill="#ff0000"/>
<rect x="380" y="244.8" width="3.4" height="3.4" fill="#ff0000"/>
<rect x="384.2" y="258.1" width="3.4" height="3.4" fill="#ff0000"/>
<rect x="389.2" y="264.2" width="3.4" height="3.4" fill="#ff0000"/>
<rect x="393.8" y="266.7" width="3.4" height="3.4" fill="#ff0000"/>
<rect x="398.7" y="267.3" width="3.4" height="3.4" fill="#ff0000"/>
<rect x="403.3" y="269.6" width="3.4" height="3.4" fill="#ff0000"/>
<rect x="407.7" y="275.7" width="3.4" height="3.4" fill="#ff0000"/>
<rect x="412.1" y="287.7" width="3.4" height="3.4" fill="#ff0000"/>
<rect x="416.2" y="302.3" width="3.4" height="3.4" fill="#ff0000"/>
<rect x="420.6" y="313.7" width="3.4" height="3.4" fill="#ff0000"/>
<rect x="425.4" y="320.8" width="3.4" height="3.4" fill="#ff0000"/>
<rect x="430.2" y="323.5" width="3.4" height="3.4" fill="#ff0000"/>
<rect x="434.9" y="325.1" width="3.4" height="3.4" fill="#ff0000"/>
<rect x="439.3" y="325.9" width="3.4" height="3.4" fill="#ff0000"/>
<polyline points="337.3,202.5 341.5,208.6 345.3,216.3 350,221 354.8,224.8 359.6,228.7 364.4,231.9 369.1,238.2 373.1,246.5 377.5,254.1 382.1,262.7 386.5,269 390.9,269.4 395.5,271.3 399.8,274.7 404.2,280.8 408.8,291.3 412.8,304.3 418.4,315.4 422.3,323 427.1,325.7 432,327.6" fill="none" stroke="#00ff00" stroke-width="1.1" stroke-linejoin="round" stroke-linecap="round" />
<rect x="335.6" y="200.8" width="3.4" height="3.4" fill="#00ff00"/>
<rect x="339.8" y="206.9" width="3.4" height="3.4" fill="#00ff00"/>
<rect x="343.6" y="214.6" width="3.4" height="3.4" fill="#00ff00"/>
<rect x="348.3" y="219.3" width="3.4" height="3.4" fill="#00ff00"/>
<rect x="353.1" y="223.1" width="3.4" height="3.4" fill="#00ff00"/>
<rect x="357.9" y="227" width="3.4" height="3.4" fill="#00ff00"/>
<rect x="362.7" y="230.2" width="3.4" height="3.4" fill="#00ff00"/>
<rect x="367.4" y="236.5" width="3.4" height="3.4" fill="#00ff00"/>
<rect x="371.4" y="244.8" width="3.4" height="3.4" fill="#00ff00"/>
<rect x="375.8" y="252.4" width="3.4" height="3.4" fill="#00ff00"/>
<rect x="380.4" y="261" width="3.4" height="3.4" fill="#00ff00"/>
<rect x="384.8" y="267.3" width="3.4" height="3.4" fill="#00ff00"/>
<rect x="389.2" y="267.7" width="3.4" height="3.4" fill="#00ff00"/>
<rect x="393.8" y="269.6" width="3.4" height="3.4" fill="#00ff00"/>
<rect x="398.1" y="273" width="3.4" height="3.4" fill="#00ff00"/>
<rect x="402.5" y="279.1" width="3.4" height="3.4" fill="#00ff00"/>
<rect x="407.1" y="289.6" width="3.4" height="3.4" fill="#00ff00"/>
<rect x="411.1" y="302.6" width="3.4" height="3.4" fill="#00ff00"/>
<rect x="416.7" y="313.7" width="3.4" height="3.4" fill="#00ff00"/>
<rect x="420.6" y="321.3" width="3.4" height="3.4" fill="#00ff00"/>
<rect x="425.4" y="324" width="3.4" height="3.4" fill="#00ff00"/>
<rect x="430.3" y="325.9" width="3.4" height="3.4" fill="#00ff00"/>
<polyline points="322.5,227.6 327.3,234.8 332,240.5 336.8,237.1 341.6,238.6 346,242.1 350.2,244.4 354.9,246.3 359.2,247.6 363.6,252.6 368.4,257.5 373.1,261.7 377.5,265.9 382.1,269.4 386.5,271.3 390.9,274.1 395.5,278.5 399.8,285.6 404.2,295.1 408.9,305.9 413.6,315.4 417.6,320.9 422.3,324.6 427,327.6" fill="none" stroke="#0000ff" stroke-width="1.1" stroke-linejoin="round" stroke-linecap="round" />
<rect x="320.8" y="225.9" width="3.4" height="3.4" fill="#0000ff"/>
<rect x="325.6" y="233.1" width="3.4" height="3.4" fill="#0000ff"/>
<rect x="330.3" y="238.8" width="3.4" height="3.4" fill="#0000ff"/>
<rect x="335.1" y="235.4" width="3.4" height="3.4" fill="#0000ff"/>
<rect x="339.9" y="236.9" width="3.4" height="3.4" fill="#0000ff"/>
<rect x="344.3" y="240.4" width="3.4" height="3.4" fill="#0000ff"/>
<rect x="348.5" y="242.7" width="3.4" height="3.4" fill="#0000ff"/>
<rect x="353.2" y="244.6" width="3.4" height="3.4" fill="#0000ff"/>
<rect x="357.5" y="245.9" width="3.4" height="3.4" fill="#0000ff"/>
<rect x="361.9" y="250.9" width="3.4" height="3.4" fill="#0000ff"/>
<rect x="366.7" y="255.8" width="3.4" height="3.4" fill="#0000ff"/>
<rect x="371.4" y="260" width="3.4" height="3.4" fill="#0000ff"/>
<rect x="375.8" y="264.2" width="3.4" height="3.4" fill="#0000ff"/>
<rect x="380.4" y="267.7" width="3.4" height="3.4" fill="#0000ff"/>
<rect x="384.8" y="269.6" width="3.4" height="3.4" fill="#0000ff"/>
<rect x="389.2" y="272.4" width="3.4" height="3.4" fill="#0000ff"/>
<rect x="393.8" y="276.8" width="3.4" height="3.4" fill="#0000ff"/>
<rect x="398.1" y="283.9" width="3.4" height="3.4" fill="#0000ff"/>
<rect x="402.5" y="293.4" width="3.4" height="3.4" fill="#0000ff"/>
<rect x="407.2" y="304.2" width="3.4" height="3.4" fill="#0000ff"/>
<rect x="411.9" y="313.7" width="3.4" height="3.4" fill="#0000ff"/>
<rect x="415.9" y="319.2" width="3.4" height="3.4" fill="#0000ff"/>
<rect x="420.6" y="322.9" width="3.4" height="3.4" fill="#0000ff"/>
<rect x="425.3" y="325.9" width="3.4" height="3.4" fill="#0000ff"/>
<polyline points="314.3,261.9 318.7,251 323.1,240.9 327.3,247.2 332,252 336.8,253.5 341.6,254.3 346,255.4 350.2,256.8 355,257.9 359.2,261.7 363.6,265.2 368.4,267.8 373.1,270.9 377.5,272.2 382.1,274.1 386.5,277.9 390.9,282.7 395.4,291.6 399.3,300.3 404.1,308.7 408.9,316.2 412.8,321.7 417.6,325.2 422,327.6" fill="none" stroke="#00ffff" stroke-width="1.1" stroke-linejoin="round" stroke-linecap="round" />
<rect x="312.6" y="260.2" width="3.4" height="3.4" fill="#00ffff"/>
<rect x="317" y="249.3" width="3.4" height="3.4" fill="#00ffff"/>
<rect x="321.4" y="239.2" width="3.4" height="3.4" fill="#00ffff"/>
<rect x="325.6" y="245.5" width="3.4" height="3.4" fill="#00ffff"/>
<rect x="330.3" y="250.3" width="3.4" height="3.4" fill="#00ffff"/>
<rect x="335.1" y="251.8" width="3.4" height="3.4" fill="#00ffff"/>
<rect x="339.9" y="252.6" width="3.4" height="3.4" fill="#00ffff"/>
<rect x="344.3" y="253.7" width="3.4" height="3.4" fill="#00ffff"/>
<rect x="348.5" y="255.1" width="3.4" height="3.4" fill="#00ffff"/>
<rect x="353.3" y="256.2" width="3.4" height="3.4" fill="#00ffff"/>
<rect x="357.5" y="260" width="3.4" height="3.4" fill="#00ffff"/>
<rect x="361.9" y="263.5" width="3.4" height="3.4" fill="#00ffff"/>
<rect x="366.7" y="266.1" width="3.4" height="3.4" fill="#00ffff"/>
<rect x="371.4" y="269.2" width="3.4" height="3.4" fill="#00ffff"/>
<rect x="375.8" y="270.5" width="3.4" height="3.4" fill="#00ffff"/>
<rect x="380.4" y="272.4" width="3.4" height="3.4" fill="#00ffff"/>
<rect x="384.8" y="276.2" width="3.4" height="3.4" fill="#00ffff"/>
<rect x="389.2" y="281" width="3.4" height="3.4" fill="#00ffff"/>
<rect x="393.7" y="289.9" width="3.4" height="3.4" fill="#00ffff"/>
<rect x="397.6" y="298.6" width="3.4" height="3.4" fill="#00ffff"/>
<rect x="402.4" y="307" width="3.4" height="3.4" fill="#00ffff"/>
<rect x="407.2" y="314.5" width="3.4" height="3.4" fill="#00ffff"/>
<rect x="411.1" y="320" width="3.4" height="3.4" fill="#00ffff"/>
<rect x="415.9" y="323.5" width="3.4" height="3.4" fill="#00ffff"/>
<rect x="420.3" y="325.9" width="3.4" height="3.4" fill="#00ffff"/>
<polyline points="304.4,261.5 312,253.5 318.7,253.9 323.1,260.6 327.3,260.6 332,261.1 336.8,261.9 341.6,263.4 346,265.3 350.2,267.3 355,269 359.2,272.2 363.6,274.1 368.4,275.1 373.1,276 377.5,279.3 382.1,283.1 386.5,288.4 389.8,294.8 394.6,303.5 399.3,310.6 404.1,317.8 408.9,322.5 413.6,324.9 418,327.6" fill="none" stroke="#ff00ff" stroke-width="1.1" stroke-linejoin="round" stroke-linecap="round" />
<rect x="302.7" y="259.8" width="3.4" height="3.4" fill="#ff00ff"/>
<rect x="310.3" y="251.8" width="3.4" height="3.4" fill="#ff00ff"/>
<rect x="317" y="252.2" width="3.4" height="3.4" fill="#ff00ff"/>
<rect x="321.4" y="258.9" width="3.4" height="3.4" fill="#ff00ff"/>
<rect x="325.6" y="258.9" width="3.4" height="3.4" fill="#ff00ff"/>
<rect x="330.3" y="259.4" width="3.4" height="3.4" fill="#ff00ff"/>
<rect x="335.1" y="260.2" width="3.4" height="3.4" fill="#ff00ff"/>
<rect x="339.9" y="261.7" width="3.4" height="3.4" fill="#ff00ff"/>
<rect x="344.3" y="263.6" width="3.4" height="3.4" fill="#ff00ff"/>
<rect x="348.5" y="265.6" width="3.4" height="3.4" fill="#ff00ff"/>
<rect x="353.3" y="267.3" width="3.4" height="3.4" fill="#ff00ff"/>
<rect x="357.5" y="270.5" width="3.4" height="3.4" fill="#ff00ff"/>
<rect x="361.9" y="272.4" width="3.4" height="3.4" fill="#ff00ff"/>
<rect x="366.7" y="273.4" width="3.4" height="3.4" fill="#ff00ff"/>
<rect x="371.4" y="274.3" width="3.4" height="3.4" fill="#ff00ff"/>
<rect x="375.8" y="277.6" width="3.4" height="3.4" fill="#ff00ff"/>
<rect x="380.4" y="281.4" width="3.4" height="3.4" fill="#ff00ff"/>
<rect x="384.8" y="286.7" width="3.4" height="3.4" fill="#ff00ff"/>
<rect x="388.1" y="293.1" width="3.4" height="3.4" fill="#ff00ff"/>
<rect x="392.9" y="301.8" width="3.4" height="3.4" fill="#ff00ff"/>
<rect x="397.6" y="308.9" width="3.4" height="3.4" fill="#ff00ff"/>
<rect x="402.4" y="316.1" width="3.4" height="3.4" fill="#ff00ff"/>
<rect x="407.2" y="320.8" width="3.4" height="3.4" fill="#ff00ff"/>
<rect x="411.9" y="323.2" width="3.4" height="3.4" fill="#ff00ff"/>
<rect x="416.3" y="325.9" width="3.4" height="3.4" fill="#ff00ff"/>
<polyline points="291.8,268 296.6,265.3 300.7,263.4 305.1,265 309.6,266.6 314.3,267.4 318.7,267.7 323.2,268.4 327.7,268.8 332,269.1 336.8,269.5 341.6,270.7 346,272 350.2,273.5 355,276.4 359.2,278.3 363.6,280.5 368.4,282.3 373.1,284.6 377.5,288.1 381.9,292.9 385.9,300.3 390.6,306.7 395.1,313.8 399.8,319.3 404.6,323 408.9,325.2 414,327.6" fill="none" stroke="#ffff00" stroke-width="1.1" stroke-linejoin="round" stroke-linecap="round" />
<rect x="290.1" y="266.3" width="3.4" height="3.4" fill="#ffff00"/>
<rect x="294.9" y="263.6" width="3.4" height="3.4" fill="#ffff00"/>
<rect x="299" y="261.7" width="3.4" height="3.4" fill="#ffff00"/>
<rect x="303.4" y="263.3" width="3.4" height="3.4" fill="#ffff00"/>
<rect x="307.9" y="264.9" width="3.4" height="3.4" fill="#ffff00"/>
<rect x="312.6" y="265.7" width="3.4" height="3.4" fill="#ffff00"/>
<rect x="317" y="266" width="3.4" height="3.4" fill="#ffff00"/>
<rect x="321.5" y="266.7" width="3.4" height="3.4" fill="#ffff00"/>
<rect x="326" y="267.1" width="3.4" height="3.4" fill="#ffff00"/>
<rect x="330.3" y="267.4" width="3.4" height="3.4" fill="#ffff00"/>
<rect x="335.1" y="267.8" width="3.4" height="3.4" fill="#ffff00"/>
<rect x="339.9" y="269" width="3.4" height="3.4" fill="#ffff00"/>
<rect x="344.3" y="270.3" width="3.4" height="3.4" fill="#ffff00"/>
<rect x="348.5" y="271.8" width="3.4" height="3.4" fill="#ffff00"/>
<rect x="353.3" y="274.7" width="3.4" height="3.4" fill="#ffff00"/>
<rect x="357.5" y="276.6" width="3.4" height="3.4" fill="#ffff00"/>
<rect x="361.9" y="278.8" width="3.4" height="3.4" fill="#ffff00"/>
<rect x="366.7" y="280.6" width="3.4" height="3.4" fill="#ffff00"/>
<rect x="371.4" y="282.9" width="3.4" height="3.4" fill="#ffff00"/>
<rect x="375.8" y="286.4" width="3.4" height="3.4" fill="#ffff00"/>
<rect x="380.2" y="291.2" width="3.4" height="3.4" fill="#ffff00"/>
<rect x="384.2" y="298.6" width="3.4" height="3.4" fill="#ffff00"/>
<rect x="388.9" y="305" width="3.4" height="3.4" fill="#ffff00"/>
<rect x="393.4" y="312.1" width="3.4" height="3.4" fill="#ffff00"/>
<rect x="398.1" y="317.6" width="3.4" height="3.4" fill="#ffff00"/>
<rect x="402.9" y="321.3" width="3.4" height="3.4" fill="#ffff00"/>
<rect x="407.2" y="323.5" width="3.4" height="3.4" fill="#ffff00"/>
<rect x="412.3" y="325.9" width="3.4" height="3.4" fill="#ffff00"/>
<polyline points="282.7,262.5 287.3,265.3 291.4,271.1 296.3,274.3 300.4,273.8 305.1,273.4 309.6,273.4 314.3,273.8 318.7,274.1 323.2,274.3 327.7,274.5 332,274.8 336.1,276.2 340.5,276.9 344.5,278 348.2,279.3 352,281.2 355.5,283 359.2,285 363.6,286.9 368.4,289.4 372.4,292.9 377.1,298.7 381.9,304.6 386.2,310.6 390.6,316.2 395.4,320.5 399.8,323.3 404.1,325.2 408.9,326.5 413.6,327.3 418,327.6" fill="none" stroke="#008000" stroke-width="1.1" stroke-linejoin="round" stroke-linecap="round" />
<rect x="281" y="260.8" width="3.4" height="3.4" fill="#008000"/>
<rect x="285.6" y="263.6" width="3.4" height="3.4" fill="#008000"/>
<rect x="289.7" y="269.4" width="3.4" height="3.4" fill="#008000"/>
<rect x="294.6" y="272.6" width="3.4" height="3.4" fill="#008000"/>
<rect x="298.7" y="272.1" width="3.4" height="3.4" fill="#008000"/>
<rect x="303.4" y="271.7" width="3.4" height="3.4" fill="#008000"/>
<rect x="307.9" y="271.7" width="3.4" height="3.4" fill="#008000"/>
<rect x="312.6" y="272.1" width="3.4" height="3.4" fill="#008000"/>
<rect x="317" y="272.4" width="3.4" height="3.4" fill="#008000"/>
<rect x="321.5" y="272.6" width="3.4" height="3.4" fill="#008000"/>
<rect x="326" y="272.8" width="3.4" height="3.4" fill="#008000"/>
<rect x="330.3" y="273.1" width="3.4" height="3.4" fill="#008000"/>
<rect x="334.4" y="274.5" width="3.4" height="3.4" fill="#008000"/>
<rect x="338.8" y="275.2" width="3.4" height="3.4" fill="#008000"/>
<rect x="342.8" y="276.3" width="3.4" height="3.4" fill="#008000"/>
<rect x="346.5" y="277.6" width="3.4" height="3.4" fill="#008000"/>
<rect x="350.3" y="279.5" width="3.4" height="3.4" fill="#008000"/>
<rect x="353.8" y="281.3" width="3.4" height="3.4" fill="#008000"/>
<rect x="357.5" y="283.3" width="3.4" height="3.4" fill="#008000"/>
<rect x="361.9" y="285.2" width="3.4" height="3.4" fill="#008000"/>
<rect x="366.7" y="287.7" width="3.4" height="3.4" fill="#008000"/>
<rect x="370.7" y="291.2" width="3.4" height="3.4" fill="#008000"/>
<rect x="375.4" y="297" width="3.4" height="3.4" fill="#008000"/>
<rect x="380.2" y="302.9" width="3.4" height="3.4" fill="#008000"/>
<rect x="384.5" y="308.9" width="3.4" height="3.4" fill="#008000"/>
<rect x="388.9" y="314.5" width="3.4" height="3.4" fill="#008000"/>
<rect x="393.7" y="318.8" width="3.4" height="3.4" fill="#008000"/>
<rect x="398.1" y="321.6" width="3.4" height="3.4" fill="#008000"/>
<rect x="402.4" y="323.5" width="3.4" height="3.4" fill="#008000"/>
<rect x="407.2" y="324.8" width="3.4" height="3.4" fill="#008000"/>
<rect x="411.9" y="325.6" width="3.4" height="3.4" fill="#008000"/>
<rect x="416.3" y="325.9" width="3.4" height="3.4" fill="#008000"/>
<rect x="416.3" y="325.9" width="3.4" height="3.4" fill="#008000"/>
<rect x="420.8" y="325.9" width="3.4" height="3.4" fill="#008000"/>
<rect x="425.3" y="325.9" width="3.4" height="3.4" fill="#008000"/>
<rect x="429.8" y="325.9" width="3.4" height="3.4" fill="#008000"/>
<rect x="434.3" y="325.9" width="3.4" height="3.4" fill="#008000"/>
<rect x="438.8" y="325.9" width="3.4" height="3.4" fill="#008000"/>
<rect x="443.3" y="325.9" width="3.4" height="3.4" fill="#008000"/>
<rect x="447.8" y="325.9" width="3.4" height="3.4" fill="#008000"/>
<rect x="452.3" y="325.9" width="3.4" height="3.4" fill="#008000"/>
<rect x="456.8" y="325.9" width="3.4" height="3.4" fill="#008000"/>
<rect x="461.3" y="325.9" width="3.4" height="3.4" fill="#008000"/>
<rect x="481.7" y="325.9" width="3.4" height="3.4" fill="#008000"/>
</g>
<line x1="357.4" y1="237" x2="357.4" y2="274.3" stroke="#999" stroke-width="0.8" />
<polygon points="357.4,276.5 356.2,273.5 358.6,273.5" fill="#111"/>
<line x1="362.6" y1="230.6" x2="362.6" y2="268.8" stroke="#999" stroke-width="0.8" />
<polygon points="362.6,271 361.4,268 363.8,268" fill="#111"/>
<line x1="370" y1="230" x2="370" y2="265.8" stroke="#999" stroke-width="0.8" />
<polygon points="370,268 368.8,265 371.2,265" fill="#111"/>
<line x1="379.5" y1="226.8" x2="379.5" y2="264" stroke="#999" stroke-width="0.8" />
<polygon points="379.5,266.2 378.3,263.2 380.7,263.2" fill="#111"/>
<line x1="385.6" y1="225.8" x2="385.6" y2="262" stroke="#999" stroke-width="0.8" />
<polygon points="385.6,264.2 384.4,261.2 386.8,261.2" fill="#111"/>
<line x1="390.4" y1="222.9" x2="390.4" y2="259.3" stroke="#999" stroke-width="0.8" />
<polygon points="390.4,261.5 389.2,258.5 391.6,258.5" fill="#111"/>
<rect x="269.7" y="183.8" width="214.1" height="156.8" fill="none" stroke="#666666" stroke-width="1.35"/>
<line x1="280.6" y1="340.6" x2="280.6" y2="337.6" stroke="#666666" stroke-width="0.8" />
<line x1="280.6" y1="183.8" x2="280.6" y2="186.8" stroke="#666666" stroke-width="0.8" />
<line x1="303.18" y1="340.6" x2="303.18" y2="337.6" stroke="#666666" stroke-width="0.8" />
<line x1="303.18" y1="183.8" x2="303.18" y2="186.8" stroke="#666666" stroke-width="0.8" />
<line x1="325.76" y1="340.6" x2="325.76" y2="337.6" stroke="#666666" stroke-width="0.8" />
<line x1="325.76" y1="183.8" x2="325.76" y2="186.8" stroke="#666666" stroke-width="0.8" />
<line x1="348.34" y1="340.6" x2="348.34" y2="337.6" stroke="#666666" stroke-width="0.8" />
<line x1="348.34" y1="183.8" x2="348.34" y2="186.8" stroke="#666666" stroke-width="0.8" />
<line x1="370.92" y1="340.6" x2="370.92" y2="337.6" stroke="#666666" stroke-width="0.8" />
<line x1="370.92" y1="183.8" x2="370.92" y2="186.8" stroke="#666666" stroke-width="0.8" />
<line x1="393.5" y1="340.6" x2="393.5" y2="337.6" stroke="#666666" stroke-width="0.8" />
<line x1="393.5" y1="183.8" x2="393.5" y2="186.8" stroke="#666666" stroke-width="0.8" />
<line x1="416.08" y1="340.6" x2="416.08" y2="337.6" stroke="#666666" stroke-width="0.8" />
<line x1="416.08" y1="183.8" x2="416.08" y2="186.8" stroke="#666666" stroke-width="0.8" />
<line x1="438.66" y1="340.6" x2="438.66" y2="337.6" stroke="#666666" stroke-width="0.8" />
<line x1="438.66" y1="183.8" x2="438.66" y2="186.8" stroke="#666666" stroke-width="0.8" />
<line x1="461.24" y1="340.6" x2="461.24" y2="337.6" stroke="#666666" stroke-width="0.8" />
<line x1="461.24" y1="183.8" x2="461.24" y2="186.8" stroke="#666666" stroke-width="0.8" />
<line x1="483.82" y1="340.6" x2="483.82" y2="337.6" stroke="#666666" stroke-width="0.8" />
<line x1="483.82" y1="183.8" x2="483.82" y2="186.8" stroke="#666666" stroke-width="0.8" />
<line x1="269.31" y1="340.6" x2="269.31" y2="339" stroke="#666666" stroke-width="0.8" />
<line x1="269.31" y1="183.8" x2="269.31" y2="185.4" stroke="#666666" stroke-width="0.8" />
<line x1="291.89" y1="340.6" x2="291.89" y2="339" stroke="#666666" stroke-width="0.8" />
<line x1="291.89" y1="183.8" x2="291.89" y2="185.4" stroke="#666666" stroke-width="0.8" />
<line x1="314.47" y1="340.6" x2="314.47" y2="339" stroke="#666666" stroke-width="0.8" />
<line x1="314.47" y1="183.8" x2="314.47" y2="185.4" stroke="#666666" stroke-width="0.8" />
<line x1="337.05" y1="340.6" x2="337.05" y2="339" stroke="#666666" stroke-width="0.8" />
<line x1="337.05" y1="183.8" x2="337.05" y2="185.4" stroke="#666666" stroke-width="0.8" />
<line x1="359.63" y1="340.6" x2="359.63" y2="339" stroke="#666666" stroke-width="0.8" />
<line x1="359.63" y1="183.8" x2="359.63" y2="185.4" stroke="#666666" stroke-width="0.8" />
<line x1="382.21" y1="340.6" x2="382.21" y2="339" stroke="#666666" stroke-width="0.8" />
<line x1="382.21" y1="183.8" x2="382.21" y2="185.4" stroke="#666666" stroke-width="0.8" />
<line x1="404.79" y1="340.6" x2="404.79" y2="339" stroke="#666666" stroke-width="0.8" />
<line x1="404.79" y1="183.8" x2="404.79" y2="185.4" stroke="#666666" stroke-width="0.8" />
<line x1="427.37" y1="340.6" x2="427.37" y2="339" stroke="#666666" stroke-width="0.8" />
<line x1="427.37" y1="183.8" x2="427.37" y2="185.4" stroke="#666666" stroke-width="0.8" />
<line x1="449.95" y1="340.6" x2="449.95" y2="339" stroke="#666666" stroke-width="0.8" />
<line x1="449.95" y1="183.8" x2="449.95" y2="185.4" stroke="#666666" stroke-width="0.8" />
<line x1="472.53" y1="340.6" x2="472.53" y2="339" stroke="#666666" stroke-width="0.8" />
<line x1="472.53" y1="183.8" x2="472.53" y2="185.4" stroke="#666666" stroke-width="0.8" />
<line x1="269.7" y1="327.8" x2="272.7" y2="327.8" stroke="#666666" stroke-width="0.8" />
<line x1="483.8" y1="327.8" x2="480.8" y2="327.8" stroke="#666666" stroke-width="0.8" />
<line x1="269.7" y1="301.55" x2="272.7" y2="301.55" stroke="#666666" stroke-width="0.8" />
<line x1="483.8" y1="301.55" x2="480.8" y2="301.55" stroke="#666666" stroke-width="0.8" />
<line x1="269.7" y1="275.3" x2="272.7" y2="275.3" stroke="#666666" stroke-width="0.8" />
<line x1="483.8" y1="275.3" x2="480.8" y2="275.3" stroke="#666666" stroke-width="0.8" />
<line x1="269.7" y1="249.05" x2="272.7" y2="249.05" stroke="#666666" stroke-width="0.8" />
<line x1="483.8" y1="249.05" x2="480.8" y2="249.05" stroke="#666666" stroke-width="0.8" />
<line x1="269.7" y1="222.8" x2="272.7" y2="222.8" stroke="#666666" stroke-width="0.8" />
<line x1="483.8" y1="222.8" x2="480.8" y2="222.8" stroke="#666666" stroke-width="0.8" />
<line x1="269.7" y1="196.55" x2="272.7" y2="196.55" stroke="#666666" stroke-width="0.8" />
<line x1="483.8" y1="196.55" x2="480.8" y2="196.55" stroke="#666666" stroke-width="0.8" />
<line x1="269.7" y1="340.93" x2="271.3" y2="340.93" stroke="#666666" stroke-width="0.8" />
<line x1="483.8" y1="340.93" x2="482.2" y2="340.93" stroke="#666666" stroke-width="0.8" />
<line x1="269.7" y1="314.68" x2="271.3" y2="314.68" stroke="#666666" stroke-width="0.8" />
<line x1="483.8" y1="314.68" x2="482.2" y2="314.68" stroke="#666666" stroke-width="0.8" />
<line x1="269.7" y1="288.43" x2="271.3" y2="288.43" stroke="#666666" stroke-width="0.8" />
<line x1="483.8" y1="288.43" x2="482.2" y2="288.43" stroke="#666666" stroke-width="0.8" />
<line x1="269.7" y1="262.18" x2="271.3" y2="262.18" stroke="#666666" stroke-width="0.8" />
<line x1="483.8" y1="262.18" x2="482.2" y2="262.18" stroke="#666666" stroke-width="0.8" />
<line x1="269.7" y1="235.93" x2="271.3" y2="235.93" stroke="#666666" stroke-width="0.8" />
<line x1="483.8" y1="235.93" x2="482.2" y2="235.93" stroke="#666666" stroke-width="0.8" />
<line x1="269.7" y1="209.68" x2="271.3" y2="209.68" stroke="#666666" stroke-width="0.8" />
<line x1="483.8" y1="209.68" x2="482.2" y2="209.68" stroke="#666666" stroke-width="0.8" />
<line x1="269.7" y1="183.43" x2="271.3" y2="183.43" stroke="#666666" stroke-width="0.8" />
<line x1="483.8" y1="183.43" x2="482.2" y2="183.43" stroke="#666666" stroke-width="0.8" />
<text x="280.6" y="349.5" font-size="6.7" fill="#222" stroke="#222" stroke-width="0.18" font-family="Liberation Sans, sans-serif" text-anchor="middle" >24</text>
<text x="303.18" y="349.5" font-size="6.7" fill="#222" stroke="#222" stroke-width="0.18" font-family="Liberation Sans, sans-serif" text-anchor="middle" >25</text>
<text x="325.76" y="349.5" font-size="6.7" fill="#222" stroke="#222" stroke-width="0.18" font-family="Liberation Sans, sans-serif" text-anchor="middle" >26</text>
<text x="348.34" y="349.5" font-size="6.7" fill="#222" stroke="#222" stroke-width="0.18" font-family="Liberation Sans, sans-serif" text-anchor="middle" >27</text>
<text x="370.92" y="349.5" font-size="6.7" fill="#222" stroke="#222" stroke-width="0.18" font-family="Liberation Sans, sans-serif" text-anchor="middle" >28</text>
<text x="393.5" y="349.5" font-size="6.7" fill="#222" stroke="#222" stroke-width="0.18" font-family="Liberation Sans, sans-serif" text-anchor="middle" >29</text>
<text x="416.08" y="349.5" font-size="6.7" fill="#222" stroke="#222" stroke-width="0.18" font-family="Liberation Sans, sans-serif" text-anchor="middle" >30</text>
<text x="438.66" y="349.5" font-size="6.7" fill="#222" stroke="#222" stroke-width="0.18" font-family="Liberation Sans, sans-serif" text-anchor="middle" >31</text>
<text x="461.24" y="349.5" font-size="6.7" fill="#222" stroke="#222" stroke-width="0.18" font-family="Liberation Sans, sans-serif" text-anchor="middle" >32</text>
<text x="483.82" y="349.5" font-size="6.7" fill="#222" stroke="#222" stroke-width="0.18" font-family="Liberation Sans, sans-serif" text-anchor="middle" >33</text>
<text x="265.8" y="330" font-size="6.2" fill="#222" stroke="#222" stroke-width="0.17" font-family="Liberation Sans, sans-serif" text-anchor="end" >0</text>
<text x="265.8" y="303.75" font-size="6.2" fill="#222" stroke="#222" stroke-width="0.17" font-family="Liberation Sans, sans-serif" text-anchor="end" >1000</text>
<text x="265.8" y="277.5" font-size="6.2" fill="#222" stroke="#222" stroke-width="0.17" font-family="Liberation Sans, sans-serif" text-anchor="end" >2000</text>
<text x="265.8" y="251.25" font-size="6.2" fill="#222" stroke="#222" stroke-width="0.17" font-family="Liberation Sans, sans-serif" text-anchor="end" >3000</text>
<text x="265.8" y="225" font-size="6.2" fill="#222" stroke="#222" stroke-width="0.17" font-family="Liberation Sans, sans-serif" text-anchor="end" >4000</text>
<text x="265.8" y="198.75" font-size="6.2" fill="#222" stroke="#222" stroke-width="0.17" font-family="Liberation Sans, sans-serif" text-anchor="end" >5000</text>
<text x="376.8" y="364.8" font-size="10.6" fill="#111" stroke="#111" stroke-width="0.28" font-family="Liberation Sans, sans-serif" text-anchor="middle" >T(K)</text>
<text x="0" y="0" font-size="10.6" fill="#111" stroke="#111" stroke-width="0.28" font-family="Liberation Sans, sans-serif" text-anchor="middle" transform="translate(244.2,270.2) rotate(-90)">U=d(ln&#961;)/d(1/T) (K)</text>
<text x="277.2" y="202.3" font-size="13.3" fill="#000" stroke="#000" stroke-width="0.28" font-family="Liberation Sans, sans-serif" text-anchor="start" >(e)</text>
<text x="431.6" y="217.6" font-size="14" fill="#000" stroke="#000" stroke-width="0.28" font-family="Liberation Sans, sans-serif" text-anchor="start" >H//ab</text>
<text x="373.3" y="202.5" font-size="9.8" fill="#ff0000" stroke="#ff0000" stroke-width="0.28" font-family="Liberation Sans, sans-serif" text-anchor="start" >2T</text>
<text x="389.1" y="217.8" font-size="11.2" fill="#000" stroke="#000" stroke-width="0.28" font-family="Liberation Sans, sans-serif" text-anchor="start" >T</text>
<text x="396.5" y="209.5" font-size="8.5" fill="#000" stroke="#000" stroke-width="0.28" font-family="Liberation Sans, sans-serif" text-anchor="start" >*</text>
<text x="345.7" y="215.3" font-size="9.2" fill="#00ff00" stroke="#00ff00" stroke-width="0.28" font-family="Liberation Sans, sans-serif" text-anchor="start" >4</text>
<text x="325.8" y="224.9" font-size="9.2" fill="#0000ff" stroke="#0000ff" stroke-width="0.28" font-family="Liberation Sans, sans-serif" text-anchor="start" >6</text>
<text x="315.9" y="240.2" font-size="9.2" fill="#00ffff" stroke="#00ffff" stroke-width="0.28" font-family="Liberation Sans, sans-serif" text-anchor="start" >8</text>
<text x="302.5" y="248.2" font-size="9.2" fill="#ff00ff" stroke="#ff00ff" stroke-width="0.28" font-family="Liberation Sans, sans-serif" text-anchor="start" >10</text>
<text x="290.6" y="258.8" font-size="8.9" fill="#ffff00" stroke="#ffff00" stroke-width="0.28" font-family="Liberation Sans, sans-serif" text-anchor="start" >12</text>
<text x="282.6" y="285.7" font-size="8.9" fill="#008000" stroke="#008000" stroke-width="0.28" font-family="Liberation Sans, sans-serif" text-anchor="start" >14</text>
<clipPath id="cf"><rect x="512.9" y="184.1" width="211.30000000000007" height="155.20000000000002"/></clipPath>
<g clip-path="url(#cf)">
<polyline points="519.8,325.2 522.34,325.13 525.98,325.04 530.08,324.92 534,324.8 537.63,324.67 541.28,324.54 544.97,324.38 548.7,324.2 552.49,323.98 556.33,323.74 560.18,323.47 564,323.2 567.75,322.92 571.46,322.62 575.19,322.31 579,322 582.94,321.71 586.97,321.43 590.99,321.11 594.9,320.7 598.64,320.14 602.27,319.47 605.9,318.79 609.6,318.2 613.44,317.78 617.34,317.45 621.26,317.1 625.1,316.6 628.83,315.91 632.5,315.11 636.17,314.22 639.9,313.3 643.74,312.28 647.66,311.16 651.56,310.09 655.4,309.2 659.13,308.75 662.8,308.59 666.44,308.26 670.1,307.3 673.75,306.11 677.39,304.77 681.05,302.31 684.8,297.8 688.73,291.42 692.79,283.53 696.78,273.43 700.5,260.4 704.14,241.44 707.73,217.86 710.83,195.45 713,180" fill="none" stroke="#ff80ff" stroke-width="0.7" stroke-linejoin="round" stroke-linecap="round" />
<polyline points="519.8,324.3 522.34,324.22 525.99,324.11 530.09,323.97 534,323.8 537.61,323.6 541.23,323.36 544.89,323.1 548.6,322.8 552.4,322.46 556.28,322.07 560.14,321.67 563.9,321.3 567.46,320.97 570.9,320.67 574.36,320.36 578,320 581.9,319.62 585.96,319.22 590.07,318.76 594.1,318.2 598.04,317.49 601.94,316.66 605.8,315.8 609.6,315 613.31,314.28 616.94,313.59 620.58,312.9 624.3,312.2 628.16,311.48 632.1,310.75 636.04,310 639.9,309.2 643.59,308.4 647.19,307.6 650.81,306.7 654.6,305.6 658.69,304.76 662.97,304.06 667.22,302.59 671.2,299.4 674.77,294.76 678.09,288.98 681.36,281.27 684.8,270.8 688.75,255.44 693,236.27 696.95,217.29 700,202.5 701.88,193.13 702.95,186.98 703.54,182.97 704,180" fill="none" stroke="#66bb66" stroke-width="0.7" stroke-linejoin="round" stroke-linecap="round" />
<polyline points="519.8,323.6 522.34,323.51 525.98,323.38 530.08,323.21 534,323 537.63,322.76 541.28,322.48 544.97,322.16 548.7,321.8 552.49,321.41 556.33,320.98 560.18,320.51 564,320 567.76,319.45 571.49,318.86 575.22,318.21 579,317.5 582.85,316.7 586.74,315.81 590.64,314.9 594.5,314 598.31,313.11 602.1,312.22 605.86,311.34 609.6,310.5 613.28,309.72 616.92,308.98 620.57,308.25 624.3,307.5 628.14,306.77 632.05,306.07 635.99,305.28 639.9,304.3 643.8,303.52 647.71,302.86 651.58,301.49 655.4,298.6 659.14,294.25 662.81,288.78 666.46,281.8 670.1,272.9 673.93,260.99 677.87,246.61 681.55,231.83 684.6,218.7 686.92,207.03 688.71,195.96 690.04,186.59 691,180" fill="none" stroke="#ff66ff" stroke-width="0.7" stroke-linejoin="round" stroke-linecap="round" />
<polyline points="519.8,322.8 522.44,322.57 526.23,322.23 530.48,321.86 534.5,321.5 538.16,321.18 541.81,320.86 545.48,320.53 549.2,320.2 553.01,319.9 556.89,319.61 560.75,319.27 564.5,318.8 568.06,318.15 571.49,317.38 574.95,316.54 578.6,315.7 582.56,314.89 586.71,314.06 590.89,313.18 594.9,312.2 598.69,311.05 602.35,309.77 605.96,308.48 609.6,307.3 613.25,306.35 616.89,305.55 620.56,304.67 624.3,303.5 628.14,302.3 632.05,301.07 635.99,299.23 639.9,296.2 643.79,292.13 647.67,287.22 651.55,280.98 655.4,272.9 659.4,262.11 663.51,249.12 667.36,235.53 670.6,222.9 673.17,210.67 675.25,198.33 676.85,187.54 678,180" fill="none" stroke="#ffff33" stroke-width="0.7" stroke-linejoin="round" stroke-linecap="round" />
<polyline points="519.8,321.5 522.34,321.3 525.99,321.01 530.09,320.67 534,320.3 537.61,319.95 541.23,319.58 544.89,319.13 548.6,318.5 552.39,317.63 556.25,316.59 560.11,315.47 563.9,314.4 567.56,313.41 571.13,312.45 574.74,311.46 578.5,310.4 582.51,309.23 586.69,307.97 590.88,306.71 594.9,305.5 598.69,304.42 602.36,303.41 605.96,302.34 609.6,301.1 613.24,300.01 616.84,299.01 620.51,297.4 624.3,294.5 628.34,290.34 632.56,285.23 636.75,278.83 640.7,270.8 644.42,260.41 647.99,248.05 651.34,235.09 654.4,222.9 657.27,210.82 659.96,198.46 662.21,187.59 663.8,180" fill="none" stroke="#6666ff" stroke-width="0.7" stroke-linejoin="round" stroke-linecap="round" />
<polyline points="519.8,320 522.34,319.55 525.98,318.92 530.08,318.13 534,317.2 537.64,316.05 541.32,314.69 545.01,313.29 548.7,312 552.35,310.87 555.99,309.81 559.66,308.77 563.4,307.7 567.24,306.58 571.16,305.44 575.1,304.28 579,303.1 582.86,301.96 586.72,300.85 590.54,299.64 594.3,298.2 597.95,296.9 601.52,295.68 605.11,293.76 608.8,290.4 612.66,285.52 616.63,279.47 620.61,272.17 624.5,263.5 628.43,252.65 632.41,239.93 636.13,226.94 639.3,215.3 641.86,204.74 643.97,194.64 645.62,186.04 646.8,180" fill="none" stroke="#77ff77" stroke-width="0.7" stroke-linejoin="round" stroke-linecap="round" />
<polyline points="518.6,315.4 521.21,314.76 524.96,313.87 529.2,312.76 533.3,311.5 537.22,309.99 541.24,308.24 545.27,306.45 549.2,304.8 552.97,303.4 556.64,302.12 560.3,300.84 564,299.4 567.77,297.83 571.57,296.19 575.38,294.38 579.2,292.3 583.02,290.26 586.85,288.19 590.68,285.46 594.5,281.4 598.29,275.88 602.06,269.24 605.85,261.53 609.7,252.8 613.9,242.25 618.33,230.14 622.42,218.05 625.6,207.6 627.61,198.82 628.79,190.97 629.48,184.55 630,180" fill="none" stroke="#ff6666" stroke-width="0.7" stroke-linejoin="round" stroke-linecap="round" />
<polygon points="522.67,325.2 517.67,322.32 517.67,328.07" fill="none" stroke="#ff66ff" stroke-width="0.75"/>
<polygon points="536.88,324.8 531.88,321.93 531.88,327.68" fill="none" stroke="#ff66ff" stroke-width="0.75"/>
<polygon points="551.58,324.2 546.58,321.32 546.58,327.07" fill="none" stroke="#ff66ff" stroke-width="0.75"/>
<polygon points="566.88,323.2 561.88,320.32 561.88,326.07" fill="none" stroke="#ff66ff" stroke-width="0.75"/>
<polygon points="581.88,322 576.88,319.12 576.88,324.88" fill="none" stroke="#ff66ff" stroke-width="0.75"/>
<polygon points="597.77,320.7 592.77,317.82 592.77,323.57" fill="none" stroke="#ff66ff" stroke-width="0.75"/>
<polygon points="612.48,318.2 607.48,315.32 607.48,321.07" fill="none" stroke="#ff66ff" stroke-width="0.75"/>
<polygon points="627.98,316.6 622.98,313.73 622.98,319.48" fill="none" stroke="#ff66ff" stroke-width="0.75"/>
<polygon points="642.77,313.3 637.77,310.43 637.77,316.18" fill="none" stroke="#ff66ff" stroke-width="0.75"/>
<polygon points="658.27,309.2 653.27,306.32 653.27,312.07" fill="none" stroke="#ff66ff" stroke-width="0.75"/>
<polygon points="672.98,307.3 667.98,304.43 667.98,310.18" fill="none" stroke="#ff66ff" stroke-width="0.75"/>
<polygon points="687.67,297.8 682.67,294.93 682.67,300.68" fill="none" stroke="#ff66ff" stroke-width="0.75"/>
<polygon points="703.38,260.4 698.38,257.52 698.38,263.27" fill="none" stroke="#ff66ff" stroke-width="0.75"/>
<polygon points="519.8,321.31 522.79,324.3 519.8,327.29 516.81,324.3" fill="#008000"/>
<polygon points="534,320.81 536.99,323.8 534,326.79 531.01,323.8" fill="#008000"/>
<polygon points="548.6,319.81 551.59,322.8 548.6,325.79 545.61,322.8" fill="#008000"/>
<polygon points="563.9,318.31 566.89,321.3 563.9,324.29 560.91,321.3" fill="#008000"/>
<polygon points="578,317.01 580.99,320 578,322.99 575.01,320" fill="#008000"/>
<polygon points="594.1,315.21 597.09,318.2 594.1,321.19 591.11,318.2" fill="#008000"/>
<polygon points="609.6,312.01 612.59,315 609.6,317.99 606.61,315" fill="#008000"/>
<polygon points="624.3,309.21 627.29,312.2 624.3,315.19 621.31,312.2" fill="#008000"/>
<polygon points="639.9,306.21 642.89,309.2 639.9,312.19 636.91,309.2" fill="#008000"/>
<polygon points="654.6,302.61 657.59,305.6 654.6,308.59 651.61,305.6" fill="#008000"/>
<polygon points="671.2,296.41 674.19,299.4 671.2,302.39 668.21,299.4" fill="#008000"/>
<polygon points="684.8,267.81 687.79,270.8 684.8,273.79 681.81,270.8" fill="#008000"/>
<polygon points="700,199.51 702.99,202.5 700,205.49 697.01,202.5" fill="#008000"/>
<polygon points="516.92,323.6 521.92,320.73 521.92,326.48" fill="none" stroke="#ff00ff" stroke-width="0.75"/>
<polygon points="531.12,323 536.12,320.12 536.12,325.88" fill="none" stroke="#ff00ff" stroke-width="0.75"/>
<polygon points="545.83,321.8 550.83,318.93 550.83,324.68" fill="none" stroke="#ff00ff" stroke-width="0.75"/>
<polygon points="561.12,320 566.12,317.12 566.12,322.88" fill="none" stroke="#ff00ff" stroke-width="0.75"/>
<polygon points="576.12,317.5 581.12,314.62 581.12,320.38" fill="none" stroke="#ff00ff" stroke-width="0.75"/>
<polygon points="591.62,314 596.62,311.12 596.62,316.88" fill="none" stroke="#ff00ff" stroke-width="0.75"/>
<polygon points="606.73,310.5 611.73,307.62 611.73,313.38" fill="none" stroke="#ff00ff" stroke-width="0.75"/>
<polygon points="621.42,307.5 626.42,304.62 626.42,310.38" fill="none" stroke="#ff00ff" stroke-width="0.75"/>
<polygon points="637.02,304.3 642.02,301.43 642.02,307.18" fill="none" stroke="#ff00ff" stroke-width="0.75"/>
<polygon points="652.52,298.6 657.52,295.73 657.52,301.48" fill="none" stroke="#ff00ff" stroke-width="0.75"/>
<polygon points="667.23,272.9 672.23,270.02 672.23,275.77" fill="none" stroke="#ff00ff" stroke-width="0.75"/>
<polygon points="681.73,218.7 686.73,215.82 686.73,221.57" fill="none" stroke="#ff00ff" stroke-width="0.75"/>
<circle cx="519.8" cy="322.8" r="2.55" fill="#ffff00"/>
<circle cx="534.5" cy="321.5" r="2.55" fill="#ffff00"/>
<circle cx="549.2" cy="320.2" r="2.55" fill="#ffff00"/>
<circle cx="564.5" cy="318.8" r="2.55" fill="#ffff00"/>
<circle cx="578.6" cy="315.7" r="2.55" fill="#ffff00"/>
<circle cx="594.9" cy="312.2" r="2.55" fill="#ffff00"/>
<circle cx="609.6" cy="307.3" r="2.55" fill="#ffff00"/>
<circle cx="624.3" cy="303.5" r="2.55" fill="#ffff00"/>
<circle cx="639.9" cy="296.2" r="2.55" fill="#ffff00"/>
<circle cx="655.4" cy="272.9" r="2.55" fill="#ffff00"/>
<circle cx="670.6" cy="222.9" r="2.55" fill="#ffff00"/>
<polygon points="519.8,324.38 522.67,319.38 516.92,319.38" fill="none" stroke="#3333ff" stroke-width="0.75"/>
<polygon points="534,323.18 536.88,318.18 531.12,318.18" fill="none" stroke="#3333ff" stroke-width="0.75"/>
<polygon points="548.6,321.38 551.48,316.38 545.73,316.38" fill="none" stroke="#3333ff" stroke-width="0.75"/>
<polygon points="563.9,317.27 566.77,312.27 561.02,312.27" fill="none" stroke="#3333ff" stroke-width="0.75"/>
<polygon points="578.5,313.27 581.38,308.27 575.62,308.27" fill="none" stroke="#3333ff" stroke-width="0.75"/>
<polygon points="594.9,308.38 597.77,303.38 592.02,303.38" fill="none" stroke="#3333ff" stroke-width="0.75"/>
<polygon points="609.6,303.98 612.48,298.98 606.73,298.98" fill="none" stroke="#3333ff" stroke-width="0.75"/>
<polygon points="624.3,297.38 627.17,292.38 621.42,292.38" fill="none" stroke="#3333ff" stroke-width="0.75"/>
<polygon points="640.7,273.68 643.58,268.68 637.83,268.68" fill="none" stroke="#3333ff" stroke-width="0.75"/>
<polygon points="654.4,225.78 657.27,220.78 651.52,220.78" fill="none" stroke="#3333ff" stroke-width="0.75"/>
<rect x="517.6" y="317.8" width="4.4" height="4.4" fill="#00ff00"/>
<rect x="531.8" y="315" width="4.4" height="4.4" fill="#00ff00"/>
<rect x="546.5" y="309.8" width="4.4" height="4.4" fill="#00ff00"/>
<rect x="561.2" y="305.5" width="4.4" height="4.4" fill="#00ff00"/>
<rect x="576.8" y="300.9" width="4.4" height="4.4" fill="#00ff00"/>
<rect x="592.1" y="296" width="4.4" height="4.4" fill="#00ff00"/>
<rect x="606.6" y="288.2" width="4.4" height="4.4" fill="#00ff00"/>
<rect x="622.3" y="261.3" width="4.4" height="4.4" fill="#00ff00"/>
<rect x="637.1" y="213.1" width="4.4" height="4.4" fill="#00ff00"/>
<polygon points="518.6,312.52 521.48,317.52 515.73,317.52" fill="none" stroke="#ff3333" stroke-width="0.75"/>
<polygon points="533.3,308.62 536.17,313.62 530.42,313.62" fill="none" stroke="#ff3333" stroke-width="0.75"/>
<polygon points="549.2,301.93 552.08,306.93 546.33,306.93" fill="none" stroke="#ff3333" stroke-width="0.75"/>
<polygon points="564,296.52 566.88,301.52 561.12,301.52" fill="none" stroke="#ff3333" stroke-width="0.75"/>
<polygon points="579.2,289.43 582.08,294.43 576.33,294.43" fill="none" stroke="#ff3333" stroke-width="0.75"/>
<polygon points="594.5,278.52 597.38,283.52 591.62,283.52" fill="none" stroke="#ff3333" stroke-width="0.75"/>
<polygon points="609.7,249.93 612.58,254.93 606.83,254.93" fill="none" stroke="#ff3333" stroke-width="0.75"/>
<polygon points="625.6,204.72 628.48,209.72 622.73,209.72" fill="none" stroke="#ff3333" stroke-width="0.75"/>
<line x1="516.7" y1="316.3" x2="594.5" y2="283.2" stroke="#000" stroke-width="1.0" />
<line x1="516.7" y1="319.4" x2="608.8" y2="290.4" stroke="#000" stroke-width="1.0" />
<line x1="516.7" y1="320.8" x2="624.3" y2="294.5" stroke="#000" stroke-width="1.0" />
<line x1="516.7" y1="321.7" x2="639.9" y2="296.2" stroke="#000" stroke-width="1.0" />
<line x1="516.7" y1="322.4" x2="655.4" y2="298.6" stroke="#000" stroke-width="1.0" />
<line x1="516.7" y1="323" x2="671.2" y2="299.4" stroke="#000" stroke-width="1.0" />
<line x1="516.7" y1="323.6" x2="684.8" y2="300.2" stroke="#000" stroke-width="1.0" />
</g>
<line x1="594.4" y1="227.3" x2="594.4" y2="276.3" stroke="#999" stroke-width="0.8" />
<polygon points="594.4,278.5 593.2,275.5 595.6,275.5" fill="#111"/>
<line x1="608.8" y1="285" x2="608.8" y2="296.4" stroke="#999" stroke-width="0.8" />
<polygon points="608.8,298.6 607.6,295.6 610,295.6" fill="#111"/>
<line x1="624.3" y1="285" x2="624.3" y2="298" stroke="#999" stroke-width="0.8" />
<polygon points="624.3,300.2 623.1,297.2 625.5,297.2" fill="#111"/>
<line x1="639.9" y1="286" x2="639.9" y2="299.7" stroke="#999" stroke-width="0.8" />
<polygon points="639.9,301.9 638.7,298.9 641.1,298.9" fill="#111"/>
<line x1="655.4" y1="287" x2="655.4" y2="300.5" stroke="#999" stroke-width="0.8" />
<polygon points="655.4,302.7 654.2,299.7 656.6,299.7" fill="#111"/>
<line x1="671.2" y1="286" x2="671.2" y2="299.7" stroke="#999" stroke-width="0.8" />
<polygon points="671.2,301.9 670,298.9 672.4,298.9" fill="#111"/>
<line x1="684.8" y1="288" x2="684.8" y2="302.1" stroke="#999" stroke-width="0.8" />
<polygon points="684.8,304.3 683.6,301.3 686,301.3" fill="#111"/>
<line x1="608.6" y1="223.6" x2="702.95" y2="280.96" stroke="#000" stroke-width="1.15" />
<polygon points="706.8,283.3 702.02,282.5 703.89,279.42" fill="#000"/>
<rect x="512.9" y="184.1" width="211.3" height="155.2" fill="none" stroke="#666666" stroke-width="1.35"/>
<line x1="566" y1="339.3" x2="566" y2="336.3" stroke="#666666" stroke-width="0.8" />
<line x1="566" y1="184.1" x2="566" y2="187.1" stroke="#666666" stroke-width="0.8" />
<line x1="628" y1="339.3" x2="628" y2="336.3" stroke="#666666" stroke-width="0.8" />
<line x1="628" y1="184.1" x2="628" y2="187.1" stroke="#666666" stroke-width="0.8" />
<line x1="690" y1="339.3" x2="690" y2="336.3" stroke="#666666" stroke-width="0.8" />
<line x1="690" y1="184.1" x2="690" y2="187.1" stroke="#666666" stroke-width="0.8" />
<line x1="512.9" y1="325.3" x2="515.9" y2="325.3" stroke="#666666" stroke-width="0.8" />
<line x1="724.2" y1="325.3" x2="721.2" y2="325.3" stroke="#666666" stroke-width="0.8" />
<line x1="512.9" y1="254.7" x2="515.9" y2="254.7" stroke="#666666" stroke-width="0.8" />
<line x1="724.2" y1="254.7" x2="721.2" y2="254.7" stroke="#666666" stroke-width="0.8" />
<line x1="512.9" y1="184.1" x2="515.9" y2="184.1" stroke="#666666" stroke-width="0.8" />
<line x1="724.2" y1="184.1" x2="721.2" y2="184.1" stroke="#666666" stroke-width="0.8" />
<line x1="512.9" y1="290" x2="514.5" y2="290" stroke="#666666" stroke-width="0.8" />
<line x1="724.2" y1="290" x2="722.6" y2="290" stroke="#666666" stroke-width="0.8" />
<line x1="512.9" y1="219.4" x2="514.5" y2="219.4" stroke="#666666" stroke-width="0.8" />
<line x1="724.2" y1="219.4" x2="722.6" y2="219.4" stroke="#666666" stroke-width="0.8" />
<text x="513.5" y="347.2" font-size="6.8" fill="#222" stroke="#222" stroke-width="0.18" font-family="Liberation Sans, sans-serif" text-anchor="middle" >26</text>
<text x="566" y="347.2" font-size="6.8" fill="#222" stroke="#222" stroke-width="0.18" font-family="Liberation Sans, sans-serif" text-anchor="middle" >27</text>
<text x="628" y="347.2" font-size="6.8" fill="#222" stroke="#222" stroke-width="0.18" font-family="Liberation Sans, sans-serif" text-anchor="middle" >28</text>
<text x="690" y="347.2" font-size="6.8" fill="#222" stroke="#222" stroke-width="0.18" font-family="Liberation Sans, sans-serif" text-anchor="middle" >29</text>
<text x="511" y="327.7" font-size="6.8" fill="#222" stroke="#222" stroke-width="0.18" font-family="Liberation Sans, sans-serif" text-anchor="end" >0</text>
<text x="511" y="257.1" font-size="6.8" fill="#222" stroke="#222" stroke-width="0.18" font-family="Liberation Sans, sans-serif" text-anchor="end" >5</text>
<text x="511.2" y="186.3" font-size="6.2" fill="#222" stroke="#222" stroke-width="0.17" font-family="Liberation Sans, sans-serif" text-anchor="end" >10</text>
<text x="617.6" y="360.5" font-size="12" fill="#111" stroke="#111" stroke-width="0.28" font-family="Liberation Sans, sans-serif" text-anchor="middle" >T</text>
<text x="0" y="0" font-size="12.2" fill="#111" stroke="#111" stroke-width="0.28" font-family="Liberation Sans, sans-serif" text-anchor="middle" transform="translate(501.2,270.8) rotate(-90)">dT/d(ln&#961;)</text>
<text x="520.7" y="200.2" font-size="12.9" fill="#000" stroke="#000" stroke-width="0.28" font-family="Liberation Sans, sans-serif" text-anchor="start" >(f)</text>
<text x="547.5" y="223.9" font-size="17.2" fill="#000" stroke="#000" stroke-width="0.28" font-family="Liberation Sans, sans-serif" text-anchor="start" >H//c</text>
<text x="594.8" y="215.3" font-size="11.8" fill="#000" stroke="#000" stroke-width="0.28" font-family="Liberation Sans, sans-serif" text-anchor="start" >14T</text>
<text x="578.8" y="270.2" font-size="12.5" fill="#000" stroke="#000" stroke-width="0.28" font-family="Liberation Sans, sans-serif" text-anchor="start" >T*</text>
<text x="705.9" y="306.9" font-size="11.7" fill="#000" stroke="#000" stroke-width="0.28" font-family="Liberation Sans, sans-serif" text-anchor="start" >2T</text>
</svg>
</body></html>
